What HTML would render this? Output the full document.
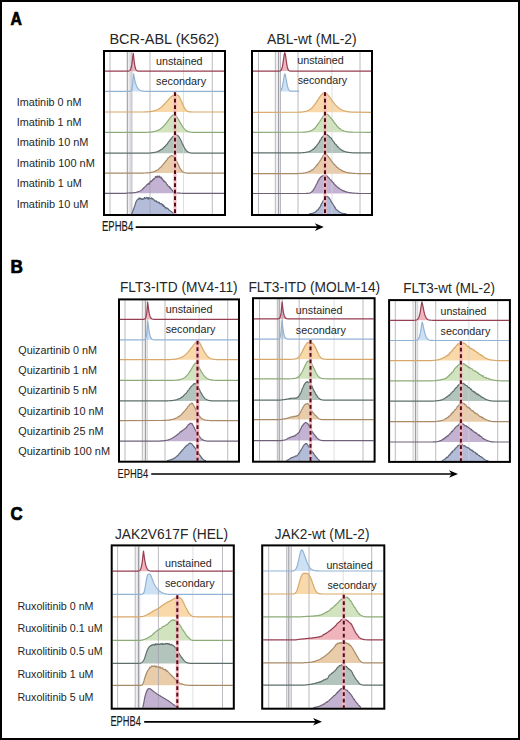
<!DOCTYPE html>
<html><head><meta charset="utf-8"><title>Figure</title>
<style>html,body{margin:0;padding:0;background:#fff;width:520px;height:740px;overflow:hidden;font-family:"Liberation Sans",sans-serif}svg{display:block}</style>
</head><body>
<svg width="520" height="740" viewBox="0 0 520 740">
<rect x="0" y="0" width="520" height="740" fill="#fff"/>
<rect x="1" y="1" width="518" height="738" fill="none" stroke="#000" stroke-width="2"/>
<text stroke="#000" stroke-width="0.7" x="10.6" y="24.7" font-family='"Liberation Sans", sans-serif' font-size="17.6" font-weight="bold" fill="#000" textLength="11.4" lengthAdjust="spacingAndGlyphs">A</text>
<text stroke="#000" stroke-width="0.7" x="10.5" y="272.6" font-family='"Liberation Sans", sans-serif' font-size="17.6" font-weight="bold" fill="#000" textLength="12.4" lengthAdjust="spacingAndGlyphs">B</text>
<text stroke="#000" stroke-width="0.7" x="10.6" y="519.7" font-family='"Liberation Sans", sans-serif' font-size="17.6" font-weight="bold" fill="#000" textLength="12.2" lengthAdjust="spacingAndGlyphs">C</text>
<text x="109.4" y="43.7" font-family='"Liberation Sans", sans-serif' font-size="14.3" font-weight="normal" fill="#262626" textLength="109.7" lengthAdjust="spacingAndGlyphs">BCR-ABL (K562)</text>
<text x="267.1" y="43.7" font-family='"Liberation Sans", sans-serif' font-size="14.3" font-weight="normal" fill="#262626" textLength="89.6" lengthAdjust="spacingAndGlyphs">ABL-wt (ML-2)</text>
<text x="16.7" y="105.8" font-family='"Liberation Sans", sans-serif' font-size="10.4" font-weight="normal" fill="#262626" textLength="64.9" lengthAdjust="spacingAndGlyphs">Imatinib 0 nM</text>
<text x="16.7" y="126.2" font-family='"Liberation Sans", sans-serif' font-size="10.4" font-weight="normal" fill="#262626" textLength="64.9" lengthAdjust="spacingAndGlyphs">Imatinib 1 nM</text>
<text x="16.7" y="146.4" font-family='"Liberation Sans", sans-serif' font-size="10.4" font-weight="normal" fill="#262626" textLength="71.8" lengthAdjust="spacingAndGlyphs">Imatinib 10 nM</text>
<text x="16.7" y="167.0" font-family='"Liberation Sans", sans-serif' font-size="10.4" font-weight="normal" fill="#262626" textLength="78.1" lengthAdjust="spacingAndGlyphs">Imatinib 100 nM</text>
<text x="16.7" y="187.2" font-family='"Liberation Sans", sans-serif' font-size="10.4" font-weight="normal" fill="#262626" textLength="65.1" lengthAdjust="spacingAndGlyphs">Imatinib 1 uM</text>
<text x="16.7" y="207.7" font-family='"Liberation Sans", sans-serif' font-size="10.4" font-weight="normal" fill="#262626" textLength="71.8" lengthAdjust="spacingAndGlyphs">Imatinib 10 uM</text>
<rect x="127.3" y="52.0" width="4.6" height="162.0" fill="#efeff1"/>
<path d="M127.8 71.20 L127.8 71.14 L128.3 71.09 L128.8 70.98 L129.3 70.78 L129.8 70.43 L130.3 69.80 L130.8 68.75 L131.3 67.04 L131.8 64.43 L132.3 60.72 L132.8 56.08 L133.3 53.39 L133.8 58.00 L134.3 62.34 L134.8 65.60 L135.3 67.82 L135.8 69.23 L136.3 70.09 L136.8 70.59 L137.3 70.88 L137.8 71.03 L138.3 71.11 L138.3 71.20 Z" fill="#f0b4bd" stroke="none"/>
<path d="M129.1 91.40 L129.1 91.34 L129.6 91.28 L130.1 91.16 L130.6 90.92 L131.1 90.45 L131.6 89.55 L132.1 87.86 L132.6 84.78 L133.1 79.45 L133.6 73.89 L134.1 76.65 L134.6 79.19 L135.1 81.38 L135.6 83.24 L136.1 84.78 L136.6 86.05 L137.1 87.09 L137.6 87.94 L138.1 88.63 L138.6 89.19 L139.1 89.64 L139.6 90.00 L140.1 90.29 L140.6 90.52 L141.1 90.70 L141.6 90.85 L142.1 90.97 L142.6 91.06 L143.1 91.13 L143.6 91.19 L144.1 91.23 L144.6 91.27 L145.1 91.30 L145.6 91.32 L146.1 91.34 L146.1 91.40 Z" fill="#cde1f5" stroke="none"/>
<path d="M144.3 112.00 L144.3 111.94 L144.8 111.92 L145.3 111.91 L145.8 111.89 L146.3 111.88 L146.8 111.85 L147.3 111.83 L147.8 111.80 L148.3 111.77 L148.8 111.73 L149.3 111.69 L149.8 111.64 L150.3 111.59 L150.8 111.53 L151.3 111.46 L151.8 111.38 L152.3 111.29 L152.8 111.19 L153.3 111.08 L153.8 110.96 L154.3 110.83 L154.8 110.68 L155.3 110.52 L155.8 110.34 L156.3 110.15 L156.8 109.93 L157.3 109.70 L157.8 109.45 L158.3 109.18 L158.8 108.89 L159.3 108.57 L159.8 108.24 L160.3 107.88 L160.8 107.50 L161.3 107.10 L161.8 106.68 L162.3 106.24 L162.8 105.77 L163.3 105.29 L163.8 104.79 L164.3 104.27 L164.8 103.73 L165.3 103.19 L165.8 102.63 L166.3 102.07 L166.8 101.50 L167.3 100.93 L167.8 100.35 L168.3 99.79 L168.8 99.23 L169.3 98.69 L169.8 98.16 L170.3 97.65 L170.8 97.17 L171.3 96.72 L171.8 96.30 L172.3 95.91 L172.8 95.57 L173.3 95.28 L173.8 95.03 L174.3 94.83 L174.8 94.69 L175.3 94.61 L175.8 94.60 L176.3 94.63 L176.8 94.73 L177.3 94.93 L177.8 95.24 L178.3 95.67 L178.8 96.25 L179.3 96.96 L179.8 97.80 L180.3 98.76 L180.8 99.82 L181.3 100.94 L181.8 102.11 L182.3 103.30 L182.8 104.47 L183.3 105.59 L183.8 106.64 L184.3 107.60 L184.8 108.46 L185.3 109.21 L185.8 109.84 L186.3 110.37 L186.8 110.79 L187.3 111.13 L187.8 111.38 L188.3 111.58 L188.8 111.71 L189.3 111.81 L189.8 111.88 L190.3 111.93 L190.3 112.00 Z" fill="#f9d9aa" stroke="none"/>
<path d="M145.3 132.40 L145.3 132.32 L145.8 132.31 L146.3 132.30 L146.8 132.28 L147.3 132.26 L147.8 132.24 L148.3 132.22 L148.8 132.19 L149.3 132.15 L149.8 132.12 L150.3 132.08 L150.8 132.03 L151.3 131.98 L151.8 131.92 L152.3 131.85 L152.8 131.77 L153.3 131.69 L153.8 131.59 L154.3 131.49 L154.8 131.37 L155.3 131.24 L155.8 131.09 L156.3 130.93 L156.8 130.75 L157.3 130.56 L157.8 130.35 L158.3 130.11 L158.8 129.86 L159.3 129.58 L159.8 129.29 L160.3 128.96 L160.8 128.61 L161.3 128.24 L161.8 127.83 L162.3 127.41 L162.8 126.95 L163.3 126.46 L163.8 125.95 L164.3 125.41 L164.8 124.85 L165.3 124.26 L165.8 123.65 L166.3 123.02 L166.8 122.37 L167.3 121.71 L167.8 121.03 L168.3 120.35 L168.8 119.68 L169.3 119.01 L169.8 118.35 L170.3 117.71 L170.8 117.10 L171.3 116.54 L171.8 116.02 L172.3 115.58 L172.8 115.21 L173.3 114.97 L173.8 114.91 L174.3 114.99 L174.8 115.19 L175.3 115.49 L175.8 115.90 L176.3 116.40 L176.8 117.00 L177.3 117.68 L177.8 118.43 L178.3 119.24 L178.8 120.09 L179.3 120.97 L179.8 121.86 L180.3 122.76 L180.8 123.65 L181.3 124.51 L181.8 125.35 L182.3 126.14 L182.8 126.89 L183.3 127.58 L183.8 128.22 L184.3 128.80 L184.8 129.33 L185.3 129.80 L185.8 130.21 L186.3 130.58 L186.8 130.89 L187.3 131.16 L187.8 131.39 L188.3 131.59 L188.8 131.75 L189.3 131.88 L189.8 131.99 L190.3 132.08 L190.8 132.15 L191.3 132.21 L191.8 132.25 L192.3 132.29 L192.8 132.32 L193.3 132.34 L193.3 132.40 Z" fill="#d2e4bf" stroke="none"/>
<path d="M146.3 153.20 L146.3 153.12 L146.8 153.11 L147.3 153.10 L147.8 153.08 L148.3 153.06 L148.8 153.04 L149.3 153.01 L149.8 152.98 L150.3 152.94 L150.8 152.91 L151.3 152.86 L151.8 152.81 L152.3 152.76 L152.8 152.69 L153.3 152.62 L153.8 152.54 L154.3 152.45 L154.8 152.35 L155.3 152.24 L155.8 152.12 L156.3 151.97 L156.8 151.81 L157.3 151.72 L157.8 151.56 L158.3 151.20 L158.8 151.12 L159.3 150.90 L159.8 150.37 L160.3 150.28 L160.8 149.80 L161.3 149.64 L161.8 149.19 L162.3 149.11 L162.8 148.41 L163.3 147.84 L163.8 147.59 L164.3 146.98 L164.8 146.52 L165.3 146.35 L165.8 145.38 L166.3 144.91 L166.8 144.48 L167.3 144.03 L167.8 142.90 L168.3 142.50 L168.8 141.70 L169.3 140.95 L169.8 140.39 L170.3 139.62 L170.8 139.29 L171.3 138.42 L171.8 138.03 L172.3 137.16 L172.8 136.65 L173.3 136.62 L173.8 136.14 L174.3 135.70 L174.8 134.93 L175.3 135.00 L175.8 134.74 L176.3 134.93 L176.8 134.92 L177.3 135.23 L177.8 135.62 L178.3 135.99 L178.8 136.63 L179.3 137.20 L179.8 138.20 L180.3 139.01 L180.8 140.08 L181.3 141.07 L181.8 142.36 L182.3 143.77 L182.8 144.43 L183.3 145.41 L183.8 146.43 L184.3 147.55 L184.8 148.31 L185.3 149.38 L185.8 149.72 L186.3 150.46 L186.8 151.06 L187.3 151.53 L187.8 151.77 L188.3 152.09 L188.8 152.37 L189.3 152.56 L189.8 152.72 L190.3 152.85 L190.8 152.94 L191.3 153.01 L191.8 153.07 L192.3 153.11 L192.8 153.13 L192.8 153.20 Z" fill="#b3c4bc" stroke="none"/>
<path d="M143.2 173.10 L143.2 173.04 L143.7 173.03 L144.2 173.02 L144.7 173.00 L145.2 172.98 L145.7 172.96 L146.2 172.94 L146.7 172.91 L147.2 172.88 L147.7 172.84 L148.2 172.80 L148.7 172.75 L149.2 172.70 L149.7 172.64 L150.2 172.57 L150.7 172.49 L151.2 172.39 L151.7 172.29 L152.2 172.19 L152.7 172.06 L153.2 171.94 L153.7 171.80 L154.2 171.59 L154.7 171.31 L155.2 171.10 L155.7 170.86 L156.2 170.77 L156.7 170.39 L157.2 170.20 L157.7 169.93 L158.2 169.64 L158.7 169.21 L159.2 168.37 L159.7 168.00 L160.2 167.55 L160.7 167.07 L161.2 166.92 L161.7 166.31 L162.2 165.56 L162.7 164.91 L163.2 164.24 L163.7 163.60 L164.2 163.45 L164.7 162.50 L165.2 161.81 L165.7 161.26 L166.2 160.82 L166.7 160.01 L167.2 159.62 L167.7 158.52 L168.2 158.00 L168.7 157.67 L169.2 157.33 L169.7 156.54 L170.2 156.38 L170.7 155.89 L171.2 155.70 L171.7 155.80 L172.2 155.87 L172.7 155.85 L173.2 156.15 L173.7 156.64 L174.2 157.02 L174.7 157.31 L175.2 158.51 L175.7 159.36 L176.2 159.97 L176.7 161.22 L177.2 162.17 L177.7 163.33 L178.2 164.54 L178.7 165.26 L179.2 166.80 L179.7 167.67 L180.2 168.71 L180.7 169.28 L181.2 170.18 L181.7 170.75 L182.2 171.18 L182.7 171.69 L183.2 172.02 L183.7 172.30 L184.2 172.52 L184.7 172.69 L185.2 172.81 L185.7 172.90 L186.2 172.97 L186.7 173.01 L187.2 173.04 L187.2 173.10 Z" fill="#e9cdaa" stroke="none"/>
<path d="M126.5 193.30 L126.5 193.08 L127.0 193.05 L127.5 193.03 L128.0 193.02 L128.5 193.00 L129.0 192.98 L129.5 192.96 L130.0 192.94 L130.5 192.92 L131.0 192.90 L131.5 192.87 L132.0 192.85 L132.5 192.82 L133.0 192.78 L133.5 192.74 L134.0 192.70 L134.5 192.65 L135.0 192.57 L135.5 192.48 L136.0 192.38 L136.5 192.25 L137.0 192.10 L137.5 191.95 L138.0 191.80 L138.5 191.64 L139.0 191.47 L139.5 191.28 L140.0 191.06 L140.5 190.81 L141.0 190.50 L141.5 190.13 L142.0 189.71 L142.5 189.24 L143.0 188.75 L143.5 188.24 L144.0 187.74 L144.5 187.25 L145.0 186.80 L145.5 186.38 L146.0 185.78 L146.5 185.20 L147.0 184.73 L147.5 184.11 L148.0 184.04 L148.5 183.34 L149.0 184.34 L149.5 183.18 L150.0 181.91 L150.5 181.85 L151.0 180.91 L151.5 181.63 L152.0 180.55 L152.5 180.39 L153.0 179.39 L153.5 178.83 L154.0 179.24 L154.5 178.48 L155.0 178.01 L155.5 176.66 L156.0 176.61 L156.5 177.33 L157.0 176.11 L157.5 177.02 L158.0 176.17 L158.5 176.95 L159.0 177.23 L159.5 176.02 L160.0 177.36 L160.5 177.76 L161.0 177.03 L161.5 177.77 L162.0 179.30 L162.5 178.81 L163.0 180.05 L163.5 180.38 L164.0 181.69 L164.5 181.07 L165.0 181.99 L165.5 182.05 L166.0 182.63 L166.5 184.04 L167.0 184.41 L167.5 185.23 L168.0 185.80 L168.5 186.46 L169.0 186.63 L169.5 186.70 L170.0 188.22 L170.5 187.71 L171.0 188.84 L171.5 189.18 L172.0 189.86 L172.5 190.67 L173.0 191.48 L173.5 192.16 L174.0 192.56 L174.5 192.77 L175.0 192.91 L175.5 192.98 L176.0 193.00 L176.5 192.99 L177.0 192.98 L177.5 192.97 L178.0 193.00 L178.5 193.05 L179.0 193.09 L179.5 193.13 L180.0 193.16 L180.5 193.20 L181.0 193.23 L181.0 193.30 Z" fill="#c4b2d3" stroke="none"/>
<path d="M131.0 214.00 L131.0 213.93 L131.5 213.80 L132.0 213.16 L132.5 211.90 L133.0 210.50 L133.5 209.21 L134.0 207.91 L134.5 206.56 L135.0 205.08 L135.5 203.42 L136.0 202.00 L136.5 201.00 L137.0 200.23 L137.5 199.60 L138.0 199.35 L138.5 199.17 L139.0 197.93 L139.5 198.84 L140.0 198.06 L140.5 198.52 L141.0 199.27 L141.5 198.62 L142.0 199.53 L142.5 198.76 L143.0 199.30 L143.5 199.10 L144.0 198.34 L144.5 197.48 L145.0 198.68 L145.5 198.51 L146.0 197.85 L146.5 197.37 L147.0 198.14 L147.5 198.55 L148.0 197.54 L148.5 199.18 L149.0 197.61 L149.5 198.52 L150.0 198.69 L150.5 198.73 L151.0 198.50 L151.5 197.77 L152.0 199.14 L152.5 198.68 L153.0 198.86 L153.5 199.64 L154.0 199.63 L154.5 200.81 L155.0 201.11 L155.5 201.17 L156.0 200.66 L156.5 201.47 L157.0 202.02 L157.5 201.85 L158.0 202.37 L158.5 202.91 L159.0 202.27 L159.5 202.70 L160.0 203.79 L160.5 203.50 L161.0 203.92 L161.5 203.65 L162.0 204.27 L162.5 205.44 L163.0 204.57 L163.5 206.50 L164.0 206.34 L164.5 206.11 L165.0 207.58 L165.5 207.34 L166.0 208.52 L166.5 207.76 L167.0 207.96 L167.5 208.68 L168.0 208.51 L168.5 209.55 L169.0 209.92 L169.5 210.28 L170.0 210.64 L170.5 211.01 L171.0 211.37 L171.5 211.73 L172.0 212.08 L172.5 212.41 L173.0 212.73 L173.5 213.01 L174.0 213.25 L174.5 213.45 L175.0 213.63 L175.5 213.81 L175.5 214.00 Z" fill="#b3bcd8" stroke="none"/>
<line x1="127.3" y1="52.0" x2="127.3" y2="214.0" stroke="#85858e" stroke-width="1.0" stroke-opacity="0.85"/>
<line x1="130.1" y1="52.0" x2="130.1" y2="214.0" stroke="#c4c4ca" stroke-width="0.9" stroke-opacity="0.85"/>
<line x1="131.9" y1="52.0" x2="131.9" y2="214.0" stroke="#a4a4ac" stroke-width="0.9" stroke-opacity="0.85"/>
<line x1="110.0" y1="52.0" x2="110.0" y2="214.0" stroke="#a0a0a8" stroke-width="0.9" stroke-opacity="0.8"/>
<line x1="150.0" y1="52.0" x2="150.0" y2="214.0" stroke="#a0a0a8" stroke-width="0.9" stroke-opacity="0.8"/>
<line x1="183.5" y1="52.0" x2="183.5" y2="214.0" stroke="#d2d2d8" stroke-width="0.9" stroke-opacity="0.8"/>
<line x1="212.3" y1="52.0" x2="212.3" y2="214.0" stroke="#a0a0a8" stroke-width="0.9" stroke-opacity="0.8"/>
<path d="M105.0 71.20 L126.8 71.19 L127.3 71.17 L127.8 71.14 L128.3 71.09 L128.8 70.98 L129.3 70.78 L129.8 70.43 L130.3 69.80 L130.8 68.75 L131.3 67.04 L131.8 64.43 L132.3 60.72 L132.8 56.08 L133.3 53.39 L133.8 58.00 L134.3 62.34 L134.8 65.60 L135.3 67.82 L135.8 69.23 L136.3 70.09 L136.8 70.59 L137.3 70.88 L137.8 71.03 L138.3 71.11 L138.8 71.16 L139.3 71.18 L139.8 71.19 L224.0 71.20" fill="none" stroke="#963e52" stroke-width="1.20" stroke-linejoin="round"/>
<path d="M105.0 91.40 L128.1 91.39 L128.6 91.37 L129.1 91.34 L129.6 91.28 L130.1 91.16 L130.6 90.92 L131.1 90.45 L131.6 89.55 L132.1 87.86 L132.6 84.78 L133.1 79.45 L133.6 73.89 L134.1 76.65 L134.6 79.19 L135.1 81.38 L135.6 83.24 L136.1 84.78 L136.6 86.05 L137.1 87.09 L137.6 87.94 L138.1 88.63 L138.6 89.19 L139.1 89.64 L139.6 90.00 L140.1 90.29 L140.6 90.52 L141.1 90.70 L141.6 90.85 L142.1 90.97 L142.6 91.06 L143.1 91.13 L143.6 91.19 L144.1 91.23 L144.6 91.27 L145.1 91.30 L145.6 91.32 L146.1 91.34 L146.6 91.35 L147.1 91.36 L147.6 91.37 L148.1 91.38 L148.6 91.38 L224.0 91.40" fill="none" stroke="#92b3d4" stroke-width="1.20" stroke-linejoin="round"/>
<path d="M105.0 112.00 L144.3 111.94 L144.8 111.92 L145.3 111.91 L145.8 111.89 L146.3 111.88 L146.8 111.85 L147.3 111.83 L147.8 111.80 L148.3 111.77 L148.8 111.73 L149.3 111.69 L149.8 111.64 L150.3 111.59 L150.8 111.53 L151.3 111.46 L151.8 111.38 L152.3 111.29 L152.8 111.19 L153.3 111.08 L153.8 110.96 L154.3 110.83 L154.8 110.68 L155.3 110.52 L155.8 110.34 L156.3 110.15 L156.8 109.93 L157.3 109.70 L157.8 109.45 L158.3 109.18 L158.8 108.89 L159.3 108.57 L159.8 108.24 L160.3 107.88 L160.8 107.50 L161.3 107.10 L161.8 106.68 L162.3 106.24 L162.8 105.77 L163.3 105.29 L163.8 104.79 L164.3 104.27 L164.8 103.73 L165.3 103.19 L165.8 102.63 L166.3 102.07 L166.8 101.50 L167.3 100.93 L167.8 100.35 L168.3 99.79 L168.8 99.23 L169.3 98.69 L169.8 98.16 L170.3 97.65 L170.8 97.17 L171.3 96.72 L171.8 96.30 L172.3 95.91 L172.8 95.57 L173.3 95.28 L173.8 95.03 L174.3 94.83 L174.8 94.69 L175.3 94.61 L175.8 94.60 L176.3 94.63 L176.8 94.73 L177.3 94.93 L177.8 95.24 L178.3 95.67 L178.8 96.25 L179.3 96.96 L179.8 97.80 L180.3 98.76 L180.8 99.82 L181.3 100.94 L181.8 102.11 L182.3 103.30 L182.8 104.47 L183.3 105.59 L183.8 106.64 L184.3 107.60 L184.8 108.46 L185.3 109.21 L185.8 109.84 L186.3 110.37 L186.8 110.79 L187.3 111.13 L187.8 111.38 L188.3 111.58 L188.8 111.71 L189.3 111.81 L189.8 111.88 L190.3 111.93 L190.8 111.95 L191.3 111.97 L191.8 111.98 L224.0 112.00" fill="none" stroke="#d8a86a" stroke-width="1.20" stroke-linejoin="round"/>
<path d="M105.0 132.40 L145.3 132.32 L145.8 132.31 L146.3 132.30 L146.8 132.28 L147.3 132.26 L147.8 132.24 L148.3 132.22 L148.8 132.19 L149.3 132.15 L149.8 132.12 L150.3 132.08 L150.8 132.03 L151.3 131.98 L151.8 131.92 L152.3 131.85 L152.8 131.77 L153.3 131.69 L153.8 131.59 L154.3 131.49 L154.8 131.37 L155.3 131.24 L155.8 131.09 L156.3 130.93 L156.8 130.75 L157.3 130.56 L157.8 130.35 L158.3 130.11 L158.8 129.86 L159.3 129.58 L159.8 129.29 L160.3 128.96 L160.8 128.61 L161.3 128.24 L161.8 127.83 L162.3 127.41 L162.8 126.95 L163.3 126.46 L163.8 125.95 L164.3 125.41 L164.8 124.85 L165.3 124.26 L165.8 123.65 L166.3 123.02 L166.8 122.37 L167.3 121.71 L167.8 121.03 L168.3 120.35 L168.8 119.68 L169.3 119.01 L169.8 118.35 L170.3 117.71 L170.8 117.10 L171.3 116.54 L171.8 116.02 L172.3 115.58 L172.8 115.21 L173.3 114.97 L173.8 114.91 L174.3 114.99 L174.8 115.19 L175.3 115.49 L175.8 115.90 L176.3 116.40 L176.8 117.00 L177.3 117.68 L177.8 118.43 L178.3 119.24 L178.8 120.09 L179.3 120.97 L179.8 121.86 L180.3 122.76 L180.8 123.65 L181.3 124.51 L181.8 125.35 L182.3 126.14 L182.8 126.89 L183.3 127.58 L183.8 128.22 L184.3 128.80 L184.8 129.33 L185.3 129.80 L185.8 130.21 L186.3 130.58 L186.8 130.89 L187.3 131.16 L187.8 131.39 L188.3 131.59 L188.8 131.75 L189.3 131.88 L189.8 131.99 L190.3 132.08 L190.8 132.15 L191.3 132.21 L191.8 132.25 L192.3 132.29 L192.8 132.32 L193.3 132.34 L193.8 132.35 L194.3 132.37 L194.8 132.38 L195.3 132.38 L224.0 132.40" fill="none" stroke="#8cab78" stroke-width="1.20" stroke-linejoin="round"/>
<path d="M105.0 153.20 L146.3 153.12 L146.8 153.11 L147.3 153.10 L147.8 153.08 L148.3 153.06 L148.8 153.04 L149.3 153.01 L149.8 152.98 L150.3 152.94 L150.8 152.91 L151.3 152.86 L151.8 152.81 L152.3 152.76 L152.8 152.69 L153.3 152.62 L153.8 152.54 L154.3 152.45 L154.8 152.35 L155.3 152.24 L155.8 152.12 L156.3 151.97 L156.8 151.81 L157.3 151.72 L157.8 151.56 L158.3 151.20 L158.8 151.12 L159.3 150.90 L159.8 150.37 L160.3 150.28 L160.8 149.80 L161.3 149.64 L161.8 149.19 L162.3 149.11 L162.8 148.41 L163.3 147.84 L163.8 147.59 L164.3 146.98 L164.8 146.52 L165.3 146.35 L165.8 145.38 L166.3 144.91 L166.8 144.48 L167.3 144.03 L167.8 142.90 L168.3 142.50 L168.8 141.70 L169.3 140.95 L169.8 140.39 L170.3 139.62 L170.8 139.29 L171.3 138.42 L171.8 138.03 L172.3 137.16 L172.8 136.65 L173.3 136.62 L173.8 136.14 L174.3 135.70 L174.8 134.93 L175.3 135.00 L175.8 134.74 L176.3 134.93 L176.8 134.92 L177.3 135.23 L177.8 135.62 L178.3 135.99 L178.8 136.63 L179.3 137.20 L179.8 138.20 L180.3 139.01 L180.8 140.08 L181.3 141.07 L181.8 142.36 L182.3 143.77 L182.8 144.43 L183.3 145.41 L183.8 146.43 L184.3 147.55 L184.8 148.31 L185.3 149.38 L185.8 149.72 L186.3 150.46 L186.8 151.06 L187.3 151.53 L187.8 151.77 L188.3 152.09 L188.8 152.37 L189.3 152.56 L189.8 152.72 L190.3 152.85 L190.8 152.94 L191.3 153.01 L191.8 153.07 L192.3 153.11 L192.8 153.13 L193.3 153.15 L193.8 153.17 L194.3 153.18 L194.8 153.19 L224.0 153.20" fill="none" stroke="#5e6f6b" stroke-width="1.20" stroke-linejoin="round"/>
<path d="M105.0 173.10 L143.2 173.04 L143.7 173.03 L144.2 173.02 L144.7 173.00 L145.2 172.98 L145.7 172.96 L146.2 172.94 L146.7 172.91 L147.2 172.88 L147.7 172.84 L148.2 172.80 L148.7 172.75 L149.2 172.70 L149.7 172.64 L150.2 172.57 L150.7 172.49 L151.2 172.39 L151.7 172.29 L152.2 172.19 L152.7 172.06 L153.2 171.94 L153.7 171.80 L154.2 171.59 L154.7 171.31 L155.2 171.10 L155.7 170.86 L156.2 170.77 L156.7 170.39 L157.2 170.20 L157.7 169.93 L158.2 169.64 L158.7 169.21 L159.2 168.37 L159.7 168.00 L160.2 167.55 L160.7 167.07 L161.2 166.92 L161.7 166.31 L162.2 165.56 L162.7 164.91 L163.2 164.24 L163.7 163.60 L164.2 163.45 L164.7 162.50 L165.2 161.81 L165.7 161.26 L166.2 160.82 L166.7 160.01 L167.2 159.62 L167.7 158.52 L168.2 158.00 L168.7 157.67 L169.2 157.33 L169.7 156.54 L170.2 156.38 L170.7 155.89 L171.2 155.70 L171.7 155.80 L172.2 155.87 L172.7 155.85 L173.2 156.15 L173.7 156.64 L174.2 157.02 L174.7 157.31 L175.2 158.51 L175.7 159.36 L176.2 159.97 L176.7 161.22 L177.2 162.17 L177.7 163.33 L178.2 164.54 L178.7 165.26 L179.2 166.80 L179.7 167.67 L180.2 168.71 L180.7 169.28 L181.2 170.18 L181.7 170.75 L182.2 171.18 L182.7 171.69 L183.2 172.02 L183.7 172.30 L184.2 172.52 L184.7 172.69 L185.2 172.81 L185.7 172.90 L186.2 172.97 L186.7 173.01 L187.2 173.04 L187.7 173.06 L188.2 173.08 L188.7 173.09 L224.0 173.10" fill="none" stroke="#a88a68" stroke-width="1.20" stroke-linejoin="round"/>
<path d="M105.0 193.30 L126.0 193.30 L126.5 193.08 L127.0 193.05 L127.5 193.03 L128.0 193.02 L128.5 193.00 L129.0 192.98 L129.5 192.96 L130.0 192.94 L130.5 192.92 L131.0 192.90 L131.5 192.87 L132.0 192.85 L132.5 192.82 L133.0 192.78 L133.5 192.74 L134.0 192.70 L134.5 192.65 L135.0 192.57 L135.5 192.48 L136.0 192.38 L136.5 192.25 L137.0 192.10 L137.5 191.95 L138.0 191.80 L138.5 191.64 L139.0 191.47 L139.5 191.28 L140.0 191.06 L140.5 190.81 L141.0 190.50 L141.5 190.13 L142.0 189.71 L142.5 189.24 L143.0 188.75 L143.5 188.24 L144.0 187.74 L144.5 187.25 L145.0 186.80 L145.5 186.38 L146.0 185.78 L146.5 185.20 L147.0 184.73 L147.5 184.11 L148.0 184.04 L148.5 183.34 L149.0 184.34 L149.5 183.18 L150.0 181.91 L150.5 181.85 L151.0 180.91 L151.5 181.63 L152.0 180.55 L152.5 180.39 L153.0 179.39 L153.5 178.83 L154.0 179.24 L154.5 178.48 L155.0 178.01 L155.5 176.66 L156.0 176.61 L156.5 177.33 L157.0 176.11 L157.5 177.02 L158.0 176.17 L158.5 176.95 L159.0 177.23 L159.5 176.02 L160.0 177.36 L160.5 177.76 L161.0 177.03 L161.5 177.77 L162.0 179.30 L162.5 178.81 L163.0 180.05 L163.5 180.38 L164.0 181.69 L164.5 181.07 L165.0 181.99 L165.5 182.05 L166.0 182.63 L166.5 184.04 L167.0 184.41 L167.5 185.23 L168.0 185.80 L168.5 186.46 L169.0 186.63 L169.5 186.70 L170.0 188.22 L170.5 187.71 L171.0 188.84 L171.5 189.18 L172.0 189.86 L172.5 190.67 L173.0 191.48 L173.5 192.16 L174.0 192.56 L174.5 192.77 L175.0 192.91 L175.5 192.98 L176.0 193.00 L176.5 192.99 L177.0 192.98 L177.5 192.97 L178.0 193.00 L178.5 193.05 L179.0 193.09 L179.5 193.13 L180.0 193.16 L180.5 193.20 L181.0 193.23 L181.5 193.26 L182.0 193.30 L224.0 193.30" fill="none" stroke="#6e6279" stroke-width="1.20" stroke-linejoin="round"/>
<path d="M131.5 213.80 L132.0 213.16 L132.5 211.90 L133.0 210.50 L133.5 209.21 L134.0 207.91 L134.5 206.56 L135.0 205.08 L135.5 203.42 L136.0 202.00 L136.5 201.00 L137.0 200.23 L137.5 199.60 L138.0 199.35 L138.5 199.17 L139.0 197.93 L139.5 198.84 L140.0 198.06 L140.5 198.52 L141.0 199.27 L141.5 198.62 L142.0 199.53 L142.5 198.76 L143.0 199.30 L143.5 199.10 L144.0 198.34 L144.5 197.48 L145.0 198.68 L145.5 198.51 L146.0 197.85 L146.5 197.37 L147.0 198.14 L147.5 198.55 L148.0 197.54 L148.5 199.18 L149.0 197.61 L149.5 198.52 L150.0 198.69 L150.5 198.73 L151.0 198.50 L151.5 197.77 L152.0 199.14 L152.5 198.68 L153.0 198.86 L153.5 199.64 L154.0 199.63 L154.5 200.81 L155.0 201.11 L155.5 201.17 L156.0 200.66 L156.5 201.47 L157.0 202.02 L157.5 201.85 L158.0 202.37 L158.5 202.91 L159.0 202.27 L159.5 202.70 L160.0 203.79 L160.5 203.50 L161.0 203.92 L161.5 203.65 L162.0 204.27 L162.5 205.44 L163.0 204.57 L163.5 206.50 L164.0 206.34 L164.5 206.11 L165.0 207.58 L165.5 207.34 L166.0 208.52 L166.5 207.76 L167.0 207.96 L167.5 208.68 L168.0 208.51 L168.5 209.55 L169.0 209.92 L169.5 210.28 L170.0 210.64 L170.5 211.01 L171.0 211.37 L171.5 211.73 L172.0 212.08 L172.5 212.41 L173.0 212.73 L173.5 213.01 L174.0 213.25 L174.5 213.45 L175.0 213.63 L175.5 213.81" fill="none" stroke="#5e6879" stroke-width="1.20" stroke-linejoin="round"/>
<line x1="175.0" y1="92.2" x2="175.0" y2="214.0" stroke="#f2b8c0" stroke-width="3.2" opacity="0.9"/>
<line x1="175.0" y1="92.2" x2="175.0" y2="214.0" stroke="#560a14" stroke-width="2" stroke-dasharray="3.7 2.8"/>
<text x="156.0" y="65.0" font-family='"Liberation Sans", sans-serif' font-size="10.4" font-weight="normal" fill="#262626" textLength="46.6" lengthAdjust="spacingAndGlyphs">unstained</text>
<text x="156.0" y="84.6" font-family='"Liberation Sans", sans-serif' font-size="10.4" font-weight="normal" fill="#262626" textLength="50.1" lengthAdjust="spacingAndGlyphs">secondary</text>
<rect x="104.0" y="51.0" width="121.0" height="164.0" fill="none" stroke="#000" stroke-width="2"/>
<rect x="275.3" y="52.0" width="5.2" height="162.0" fill="#efeff1"/>
<path d="M279.8 71.10 L279.8 71.00 L280.3 70.85 L280.8 70.53 L281.3 69.91 L281.8 68.79 L282.3 66.97 L282.8 64.33 L283.3 60.96 L283.8 57.29 L284.3 54.16 L284.8 52.70 L285.3 54.16 L285.8 57.29 L286.3 60.96 L286.8 64.33 L287.3 66.97 L287.8 68.79 L288.3 69.91 L288.8 70.53 L289.3 70.85 L289.8 71.00 L289.8 71.10 Z" fill="#f0b4bd" stroke="none"/>
<path d="M279.2 91.40 L279.2 91.31 L279.7 91.21 L280.2 91.00 L280.7 90.62 L281.2 89.96 L281.7 88.87 L282.2 87.22 L282.7 84.93 L283.2 82.02 L283.7 78.79 L284.2 75.77 L284.7 73.90 L285.2 74.62 L285.7 76.83 L286.2 79.60 L286.7 82.41 L287.2 84.93 L287.7 86.97 L288.2 88.51 L288.7 89.60 L289.2 90.33 L289.7 90.79 L290.2 91.07 L290.7 91.10 L291.2 91.10 L291.7 91.10 L292.2 91.10 L292.7 91.10 L293.2 91.10 L293.7 91.10 L294.2 91.10 L294.7 91.10 L295.2 91.10 L295.7 91.10 L296.2 91.10 L296.7 91.10 L297.2 91.10 L297.7 91.10 L298.2 91.10 L298.7 91.10 L299.2 91.10 L299.2 91.40 Z" fill="#cde1f5" stroke="none"/>
<path d="M297.7 112.30 L297.7 112.24 L298.2 112.23 L298.7 112.22 L299.2 112.20 L299.7 112.18 L300.2 112.15 L300.7 112.12 L301.2 112.09 L301.7 112.04 L302.2 112.00 L302.7 111.94 L303.2 111.87 L303.7 111.80 L304.2 111.71 L304.7 111.61 L305.2 111.50 L305.7 111.37 L306.2 111.22 L306.7 111.05 L307.2 110.87 L307.7 110.66 L308.2 110.42 L308.7 110.16 L309.2 109.87 L309.7 109.56 L310.2 109.21 L310.7 108.83 L311.2 108.41 L311.7 107.97 L312.2 107.48 L312.7 106.97 L313.2 106.41 L313.7 105.83 L314.2 105.21 L314.7 104.56 L315.2 103.88 L315.7 103.18 L316.2 102.45 L316.7 101.70 L317.2 100.94 L317.7 100.18 L318.2 99.41 L318.7 98.64 L319.2 97.89 L319.7 97.15 L320.2 96.44 L320.7 95.76 L321.2 95.13 L321.7 94.55 L322.2 94.03 L322.7 93.57 L323.2 93.19 L323.7 92.90 L324.2 92.70 L324.7 92.60 L325.2 92.68 L325.7 92.92 L326.2 93.26 L326.7 93.68 L327.2 94.17 L327.7 94.71 L328.2 95.30 L328.7 95.92 L329.2 96.57 L329.7 97.24 L330.2 97.93 L330.7 98.63 L331.2 99.33 L331.7 100.02 L332.2 100.71 L332.7 101.39 L333.2 102.06 L333.7 102.71 L334.2 103.34 L334.7 103.94 L335.2 104.53 L335.7 105.09 L336.2 105.62 L336.7 106.13 L337.2 106.62 L337.7 107.07 L338.2 107.50 L338.7 107.91 L339.2 108.29 L339.7 108.64 L340.2 108.97 L340.7 109.27 L341.2 109.56 L341.7 109.82 L342.2 110.06 L342.7 110.28 L343.2 110.48 L343.7 110.67 L344.2 110.84 L344.7 110.99 L345.2 111.13 L345.7 111.26 L346.2 111.37 L346.7 111.48 L347.2 111.57 L347.7 111.65 L348.2 111.73 L348.7 111.80 L349.2 111.86 L349.7 111.91 L350.2 111.96 L350.7 112.00 L351.2 112.04 L351.7 112.07 L352.2 112.10 L352.7 112.13 L353.2 112.15 L353.7 112.17 L354.2 112.19 L354.7 112.20 L354.7 112.30 Z" fill="#f9d9aa" stroke="none"/>
<path d="M301.6 132.30 L301.6 132.25 L302.1 132.24 L302.6 132.22 L303.1 132.20 L303.6 132.18 L304.1 132.15 L304.6 132.12 L305.1 132.09 L305.6 132.04 L306.1 131.99 L306.6 131.93 L307.1 131.86 L307.6 131.77 L308.1 131.67 L308.6 131.56 L309.1 131.43 L309.6 131.28 L310.1 131.08 L310.6 130.92 L311.1 130.70 L311.6 130.44 L312.1 130.26 L312.6 129.87 L313.1 129.47 L313.6 129.01 L314.1 128.96 L314.6 128.39 L315.1 128.03 L315.6 127.06 L316.1 126.56 L316.6 126.33 L317.1 125.12 L317.6 124.44 L318.1 123.91 L318.6 123.18 L319.1 122.68 L319.6 121.98 L320.1 120.87 L320.6 120.34 L321.1 119.47 L321.6 118.65 L322.1 118.02 L322.6 117.04 L323.1 116.39 L323.6 115.54 L324.1 115.21 L324.6 114.69 L325.1 114.45 L325.6 114.15 L326.1 114.24 L326.6 114.44 L327.1 114.19 L327.6 114.45 L328.1 114.88 L328.6 115.36 L329.1 116.06 L329.6 116.62 L330.1 117.14 L330.6 117.87 L331.1 118.08 L331.6 118.95 L332.1 119.36 L332.6 120.32 L333.1 120.66 L333.6 121.42 L334.1 122.61 L334.6 123.16 L335.1 123.40 L335.6 124.30 L336.1 124.62 L336.6 125.56 L337.1 126.33 L337.6 126.54 L338.1 126.96 L338.6 127.75 L339.1 128.31 L339.6 128.59 L340.1 128.64 L340.6 129.13 L341.1 129.72 L341.6 129.96 L342.1 130.27 L342.6 130.51 L343.1 130.59 L343.6 130.89 L344.1 131.02 L344.6 131.20 L345.1 131.35 L345.6 131.47 L346.1 131.58 L346.6 131.68 L347.1 131.77 L347.6 131.85 L348.1 131.92 L348.6 131.98 L349.1 132.03 L349.6 132.07 L350.1 132.11 L350.6 132.14 L351.1 132.16 L351.6 132.19 L352.1 132.21 L352.6 132.22 L353.1 132.24 L353.6 132.25 L353.6 132.30 Z" fill="#d2e4bf" stroke="none"/>
<path d="M298.9 152.90 L298.9 152.84 L299.4 152.83 L299.9 152.82 L300.4 152.80 L300.9 152.78 L301.4 152.76 L301.9 152.74 L302.4 152.71 L302.9 152.67 L303.4 152.63 L303.9 152.59 L304.4 152.54 L304.9 152.48 L305.4 152.41 L305.9 152.33 L306.4 152.24 L306.9 152.14 L307.4 152.03 L307.9 151.89 L308.4 151.74 L308.9 151.64 L309.4 151.50 L309.9 151.23 L310.4 151.04 L310.9 150.61 L311.4 150.36 L311.9 150.09 L312.4 149.77 L312.9 149.32 L313.4 149.32 L313.9 148.65 L314.4 148.41 L314.9 147.31 L315.4 147.45 L315.9 146.27 L316.4 146.25 L316.9 145.12 L317.4 144.72 L317.9 143.96 L318.4 142.88 L318.9 142.79 L319.4 141.98 L319.9 140.51 L320.4 140.05 L320.9 139.59 L321.4 138.10 L321.9 137.37 L322.4 137.32 L322.9 136.39 L323.4 136.00 L323.9 135.32 L324.4 134.63 L324.9 134.68 L325.4 134.14 L325.9 134.72 L326.4 134.76 L326.9 134.45 L327.4 135.04 L327.9 135.36 L328.4 135.59 L328.9 136.12 L329.4 136.67 L329.9 137.47 L330.4 137.47 L330.9 137.86 L331.4 138.46 L331.9 139.33 L332.4 140.22 L332.9 140.86 L333.4 141.25 L333.9 141.92 L334.4 143.02 L334.9 143.56 L335.4 144.08 L335.9 144.58 L336.4 144.93 L336.9 145.76 L337.4 146.69 L337.9 146.58 L338.4 147.40 L338.9 147.80 L339.4 148.49 L339.9 148.75 L340.4 149.18 L340.9 149.27 L341.4 150.04 L341.9 150.09 L342.4 150.55 L342.9 150.60 L343.4 151.07 L343.9 151.20 L344.4 151.38 L344.9 151.51 L345.4 151.75 L345.9 151.85 L346.4 151.99 L346.9 152.10 L347.4 152.20 L347.9 152.30 L348.4 152.38 L348.9 152.45 L349.4 152.51 L349.9 152.57 L350.4 152.62 L350.9 152.66 L351.4 152.70 L351.9 152.73 L352.4 152.75 L352.9 152.78 L353.4 152.80 L353.9 152.81 L354.4 152.83 L354.9 152.84 L354.9 152.90 Z" fill="#b3c4bc" stroke="none"/>
<path d="M296.7 173.70 L296.7 173.59 L297.2 173.57 L297.7 173.55 L298.2 173.53 L298.7 173.51 L299.2 173.48 L299.7 173.45 L300.2 173.42 L300.7 173.38 L301.2 173.34 L301.7 173.30 L302.2 173.24 L302.7 173.19 L303.2 173.12 L303.7 173.05 L304.2 172.97 L304.7 172.89 L305.2 172.78 L305.7 172.67 L306.2 172.54 L306.7 172.46 L307.2 172.32 L307.7 172.18 L308.2 172.01 L308.7 171.72 L309.2 171.66 L309.7 171.33 L310.2 171.19 L310.7 170.91 L311.2 170.57 L311.7 170.04 L312.2 169.82 L312.7 169.81 L313.2 169.26 L313.7 168.92 L314.2 168.03 L314.7 167.59 L315.2 167.08 L315.7 166.53 L316.2 166.01 L316.7 165.28 L317.2 164.74 L317.7 164.40 L318.2 163.35 L318.7 162.85 L319.2 161.94 L319.7 161.29 L320.2 160.60 L320.7 159.84 L321.2 159.01 L321.7 158.28 L322.2 157.61 L322.7 156.42 L323.2 155.70 L323.7 154.90 L324.2 154.47 L324.7 154.04 L325.2 153.58 L325.7 154.08 L326.2 154.12 L326.7 154.73 L327.2 155.42 L327.7 155.99 L328.2 156.42 L328.7 157.23 L329.2 157.78 L329.7 158.37 L330.2 159.18 L330.7 160.02 L331.2 160.49 L331.7 161.31 L332.2 161.97 L332.7 162.64 L333.2 163.17 L333.7 163.95 L334.2 164.20 L334.7 164.59 L335.2 165.47 L335.7 165.80 L336.2 166.18 L336.7 167.19 L337.2 167.59 L337.7 167.63 L338.2 168.02 L338.7 168.53 L339.2 169.18 L339.7 169.38 L340.2 169.43 L340.7 169.73 L341.2 170.09 L341.7 170.66 L342.2 170.62 L342.7 171.05 L343.2 171.15 L343.7 171.53 L344.2 171.49 L344.7 171.76 L345.2 171.91 L345.7 172.15 L346.2 172.22 L346.7 172.36 L347.2 172.48 L347.7 172.60 L348.2 172.68 L348.7 172.79 L349.2 172.87 L349.7 172.95 L350.2 173.02 L350.7 173.08 L351.2 173.14 L351.7 173.19 L352.2 173.24 L352.7 173.29 L353.2 173.33 L353.7 173.37 L354.2 173.40 L354.7 173.43 L355.2 173.46 L355.7 173.48 L356.2 173.50 L356.7 173.52 L357.2 173.54 L357.2 173.70 Z" fill="#e9cdaa" stroke="none"/>
<path d="M307.3 193.50 L307.3 193.42 L307.8 193.38 L308.3 193.32 L308.8 193.24 L309.3 193.12 L309.8 192.97 L310.3 192.76 L310.8 192.52 L311.3 192.15 L311.8 191.75 L312.3 191.17 L312.8 190.82 L313.3 190.20 L313.8 189.19 L314.3 188.42 L314.8 187.74 L315.3 186.56 L315.8 185.74 L316.3 184.49 L316.8 183.85 L317.3 182.76 L317.8 181.36 L318.3 180.74 L318.8 179.91 L319.3 178.77 L319.8 178.14 L320.3 177.78 L320.8 176.99 L321.3 176.47 L321.8 176.40 L322.3 175.82 L322.8 175.93 L323.3 175.65 L323.8 175.72 L324.3 175.60 L324.8 175.12 L325.3 175.46 L325.8 175.23 L326.3 175.80 L326.8 176.01 L327.3 176.22 L327.8 176.76 L328.3 177.56 L328.8 177.77 L329.3 178.26 L329.8 179.07 L330.3 179.68 L330.8 179.77 L331.3 180.56 L331.8 181.32 L332.3 181.74 L332.8 182.44 L333.3 182.65 L333.8 183.38 L334.3 184.16 L334.8 184.26 L335.3 185.21 L335.8 185.59 L336.3 186.22 L336.8 186.26 L337.3 187.08 L337.8 187.26 L338.3 187.93 L338.8 188.09 L339.3 188.34 L339.8 188.78 L340.3 189.16 L340.8 189.46 L341.3 189.79 L341.8 189.98 L342.3 190.49 L342.8 190.56 L343.3 190.88 L343.8 190.87 L344.3 191.07 L344.8 191.51 L345.3 191.65 L345.8 191.69 L346.3 191.87 L346.8 192.09 L347.3 192.13 L347.8 192.24 L348.3 192.39 L348.8 192.50 L349.3 192.58 L349.8 192.67 L350.3 192.75 L350.8 192.82 L351.3 192.89 L351.8 192.95 L352.3 193.00 L352.8 193.05 L353.3 193.10 L353.8 193.14 L354.3 193.17 L354.8 193.21 L355.3 193.24 L355.8 193.27 L356.3 193.29 L356.8 193.31 L357.3 193.33 L357.8 193.35 L358.3 193.37 L358.3 193.50 Z" fill="#c4b2d3" stroke="none"/>
<path d="M307.0 214.00 L307.0 213.94 L307.5 213.92 L308.0 213.90 L308.5 213.87 L309.0 213.84 L309.5 213.80 L310.0 213.74 L310.5 213.68 L311.0 213.61 L311.5 213.52 L312.0 213.41 L312.5 213.29 L313.0 213.13 L313.5 212.99 L314.0 212.73 L314.5 212.58 L315.0 212.11 L315.5 212.09 L316.0 211.39 L316.5 211.05 L317.0 210.45 L317.5 209.78 L318.0 209.82 L318.5 209.12 L319.0 208.14 L319.5 207.75 L320.0 206.97 L320.5 206.16 L321.0 204.78 L321.5 203.86 L322.0 202.99 L322.5 202.50 L323.0 201.00 L323.5 200.42 L324.0 199.76 L324.5 198.76 L325.0 198.06 L325.5 197.70 L326.0 196.83 L326.5 196.68 L327.0 196.47 L327.5 196.37 L328.0 196.94 L328.5 197.60 L329.0 197.80 L329.5 198.35 L330.0 199.47 L330.5 199.88 L331.0 201.44 L331.5 202.18 L332.0 203.00 L332.5 203.24 L333.0 204.28 L333.5 205.07 L334.0 206.21 L334.5 206.80 L335.0 207.21 L335.5 208.52 L336.0 209.14 L336.5 209.78 L337.0 209.99 L337.5 210.21 L338.0 210.87 L338.5 211.36 L339.0 211.67 L339.5 212.10 L340.0 212.17 L340.5 212.56 L341.0 212.79 L341.5 212.96 L342.0 213.11 L342.5 213.26 L343.0 213.38 L343.5 213.49 L344.0 213.58 L344.5 213.65 L345.0 213.72 L345.5 213.77 L346.0 213.81 L346.5 213.85 L347.0 213.88 L347.5 213.90 L348.0 213.92 L348.5 213.94 L348.5 214.00 Z" fill="#b3bcd8" stroke="none"/>
<line x1="275.3" y1="52.0" x2="275.3" y2="214.0" stroke="#a4a4ac" stroke-width="0.9" stroke-opacity="0.85"/>
<line x1="278.6" y1="52.0" x2="278.6" y2="214.0" stroke="#85858e" stroke-width="1.0" stroke-opacity="0.85"/>
<line x1="280.5" y1="52.0" x2="280.5" y2="214.0" stroke="#a4a4ac" stroke-width="0.9" stroke-opacity="0.85"/>
<line x1="258.5" y1="52.0" x2="258.5" y2="214.0" stroke="#a0a0a8" stroke-width="0.9" stroke-opacity="0.8"/>
<line x1="298.0" y1="52.0" x2="298.0" y2="214.0" stroke="#a0a0a8" stroke-width="0.9" stroke-opacity="0.8"/>
<line x1="332.0" y1="52.0" x2="332.0" y2="214.0" stroke="#d2d2d8" stroke-width="0.9" stroke-opacity="0.8"/>
<line x1="360.0" y1="52.0" x2="360.0" y2="214.0" stroke="#a0a0a8" stroke-width="0.9" stroke-opacity="0.8"/>
<path d="M253.0 71.10 L278.8 71.09 L279.3 71.06 L279.8 71.00 L280.3 70.85 L280.8 70.53 L281.3 69.91 L281.8 68.79 L282.3 66.97 L282.8 64.33 L283.3 60.96 L283.8 57.29 L284.3 54.16 L284.8 52.70 L285.3 54.16 L285.8 57.29 L286.3 60.96 L286.8 64.33 L287.3 66.97 L287.8 68.79 L288.3 69.91 L288.8 70.53 L289.3 70.85 L289.8 71.00 L290.3 71.06 L290.8 71.09 L371.0 71.10" fill="none" stroke="#963e52" stroke-width="1.20" stroke-linejoin="round"/>
<path d="M280.7 90.62 L281.2 89.96 L281.7 88.87 L282.2 87.22 L282.7 84.93 L283.2 82.02 L283.7 78.79 L284.2 75.77 L284.7 73.90 L285.2 74.62 L285.7 76.83 L286.2 79.60 L286.7 82.41 L287.2 84.93 L287.7 86.97 L288.2 88.51 L288.7 89.60 L289.2 90.33 L289.7 90.79 L290.2 91.07 L290.7 91.10 L291.2 91.10 L291.7 91.10 L292.2 91.10 L292.7 91.10 L293.2 91.10 L293.7 91.10 L294.2 91.10 L294.7 91.10 L295.2 91.10 L295.7 91.10 L296.2 91.10 L296.7 91.10 L297.2 91.10 L297.7 91.10 L298.2 91.10 L298.7 91.10 L299.2 91.10" fill="none" stroke="#92b3d4" stroke-width="1.20" stroke-linejoin="round"/>
<path d="M253.0 112.30 L297.2 112.25 L297.7 112.24 L298.2 112.23 L298.7 112.22 L299.2 112.20 L299.7 112.18 L300.2 112.15 L300.7 112.12 L301.2 112.09 L301.7 112.04 L302.2 112.00 L302.7 111.94 L303.2 111.87 L303.7 111.80 L304.2 111.71 L304.7 111.61 L305.2 111.50 L305.7 111.37 L306.2 111.22 L306.7 111.05 L307.2 110.87 L307.7 110.66 L308.2 110.42 L308.7 110.16 L309.2 109.87 L309.7 109.56 L310.2 109.21 L310.7 108.83 L311.2 108.41 L311.7 107.97 L312.2 107.48 L312.7 106.97 L313.2 106.41 L313.7 105.83 L314.2 105.21 L314.7 104.56 L315.2 103.88 L315.7 103.18 L316.2 102.45 L316.7 101.70 L317.2 100.94 L317.7 100.18 L318.2 99.41 L318.7 98.64 L319.2 97.89 L319.7 97.15 L320.2 96.44 L320.7 95.76 L321.2 95.13 L321.7 94.55 L322.2 94.03 L322.7 93.57 L323.2 93.19 L323.7 92.90 L324.2 92.70 L324.7 92.60 L325.2 92.68 L325.7 92.92 L326.2 93.26 L326.7 93.68 L327.2 94.17 L327.7 94.71 L328.2 95.30 L328.7 95.92 L329.2 96.57 L329.7 97.24 L330.2 97.93 L330.7 98.63 L331.2 99.33 L331.7 100.02 L332.2 100.71 L332.7 101.39 L333.2 102.06 L333.7 102.71 L334.2 103.34 L334.7 103.94 L335.2 104.53 L335.7 105.09 L336.2 105.62 L336.7 106.13 L337.2 106.62 L337.7 107.07 L338.2 107.50 L338.7 107.91 L339.2 108.29 L339.7 108.64 L340.2 108.97 L340.7 109.27 L341.2 109.56 L341.7 109.82 L342.2 110.06 L342.7 110.28 L343.2 110.48 L343.7 110.67 L344.2 110.84 L344.7 110.99 L345.2 111.13 L345.7 111.26 L346.2 111.37 L346.7 111.48 L347.2 111.57 L347.7 111.65 L348.2 111.73 L348.7 111.80 L349.2 111.86 L349.7 111.91 L350.2 111.96 L350.7 112.00 L351.2 112.04 L351.7 112.07 L352.2 112.10 L352.7 112.13 L353.2 112.15 L353.7 112.17 L354.2 112.19 L354.7 112.20 L371.0 112.30" fill="none" stroke="#d8a86a" stroke-width="1.20" stroke-linejoin="round"/>
<path d="M253.0 132.30 L300.6 132.27 L301.1 132.26 L301.6 132.25 L302.1 132.24 L302.6 132.22 L303.1 132.20 L303.6 132.18 L304.1 132.15 L304.6 132.12 L305.1 132.09 L305.6 132.04 L306.1 131.99 L306.6 131.93 L307.1 131.86 L307.6 131.77 L308.1 131.67 L308.6 131.56 L309.1 131.43 L309.6 131.28 L310.1 131.08 L310.6 130.92 L311.1 130.70 L311.6 130.44 L312.1 130.26 L312.6 129.87 L313.1 129.47 L313.6 129.01 L314.1 128.96 L314.6 128.39 L315.1 128.03 L315.6 127.06 L316.1 126.56 L316.6 126.33 L317.1 125.12 L317.6 124.44 L318.1 123.91 L318.6 123.18 L319.1 122.68 L319.6 121.98 L320.1 120.87 L320.6 120.34 L321.1 119.47 L321.6 118.65 L322.1 118.02 L322.6 117.04 L323.1 116.39 L323.6 115.54 L324.1 115.21 L324.6 114.69 L325.1 114.45 L325.6 114.15 L326.1 114.24 L326.6 114.44 L327.1 114.19 L327.6 114.45 L328.1 114.88 L328.6 115.36 L329.1 116.06 L329.6 116.62 L330.1 117.14 L330.6 117.87 L331.1 118.08 L331.6 118.95 L332.1 119.36 L332.6 120.32 L333.1 120.66 L333.6 121.42 L334.1 122.61 L334.6 123.16 L335.1 123.40 L335.6 124.30 L336.1 124.62 L336.6 125.56 L337.1 126.33 L337.6 126.54 L338.1 126.96 L338.6 127.75 L339.1 128.31 L339.6 128.59 L340.1 128.64 L340.6 129.13 L341.1 129.72 L341.6 129.96 L342.1 130.27 L342.6 130.51 L343.1 130.59 L343.6 130.89 L344.1 131.02 L344.6 131.20 L345.1 131.35 L345.6 131.47 L346.1 131.58 L346.6 131.68 L347.1 131.77 L347.6 131.85 L348.1 131.92 L348.6 131.98 L349.1 132.03 L349.6 132.07 L350.1 132.11 L350.6 132.14 L351.1 132.16 L351.6 132.19 L352.1 132.21 L352.6 132.22 L353.1 132.24 L353.6 132.25 L371.0 132.30" fill="none" stroke="#8cab78" stroke-width="1.20" stroke-linejoin="round"/>
<path d="M253.0 152.90 L298.9 152.84 L299.4 152.83 L299.9 152.82 L300.4 152.80 L300.9 152.78 L301.4 152.76 L301.9 152.74 L302.4 152.71 L302.9 152.67 L303.4 152.63 L303.9 152.59 L304.4 152.54 L304.9 152.48 L305.4 152.41 L305.9 152.33 L306.4 152.24 L306.9 152.14 L307.4 152.03 L307.9 151.89 L308.4 151.74 L308.9 151.64 L309.4 151.50 L309.9 151.23 L310.4 151.04 L310.9 150.61 L311.4 150.36 L311.9 150.09 L312.4 149.77 L312.9 149.32 L313.4 149.32 L313.9 148.65 L314.4 148.41 L314.9 147.31 L315.4 147.45 L315.9 146.27 L316.4 146.25 L316.9 145.12 L317.4 144.72 L317.9 143.96 L318.4 142.88 L318.9 142.79 L319.4 141.98 L319.9 140.51 L320.4 140.05 L320.9 139.59 L321.4 138.10 L321.9 137.37 L322.4 137.32 L322.9 136.39 L323.4 136.00 L323.9 135.32 L324.4 134.63 L324.9 134.68 L325.4 134.14 L325.9 134.72 L326.4 134.76 L326.9 134.45 L327.4 135.04 L327.9 135.36 L328.4 135.59 L328.9 136.12 L329.4 136.67 L329.9 137.47 L330.4 137.47 L330.9 137.86 L331.4 138.46 L331.9 139.33 L332.4 140.22 L332.9 140.86 L333.4 141.25 L333.9 141.92 L334.4 143.02 L334.9 143.56 L335.4 144.08 L335.9 144.58 L336.4 144.93 L336.9 145.76 L337.4 146.69 L337.9 146.58 L338.4 147.40 L338.9 147.80 L339.4 148.49 L339.9 148.75 L340.4 149.18 L340.9 149.27 L341.4 150.04 L341.9 150.09 L342.4 150.55 L342.9 150.60 L343.4 151.07 L343.9 151.20 L344.4 151.38 L344.9 151.51 L345.4 151.75 L345.9 151.85 L346.4 151.99 L346.9 152.10 L347.4 152.20 L347.9 152.30 L348.4 152.38 L348.9 152.45 L349.4 152.51 L349.9 152.57 L350.4 152.62 L350.9 152.66 L351.4 152.70 L351.9 152.73 L352.4 152.75 L352.9 152.78 L353.4 152.80 L353.9 152.81 L354.4 152.83 L354.9 152.84 L371.0 152.90" fill="none" stroke="#5e6f6b" stroke-width="1.20" stroke-linejoin="round"/>
<path d="M253.0 173.70 L296.7 173.59 L297.2 173.57 L297.7 173.55 L298.2 173.53 L298.7 173.51 L299.2 173.48 L299.7 173.45 L300.2 173.42 L300.7 173.38 L301.2 173.34 L301.7 173.30 L302.2 173.24 L302.7 173.19 L303.2 173.12 L303.7 173.05 L304.2 172.97 L304.7 172.89 L305.2 172.78 L305.7 172.67 L306.2 172.54 L306.7 172.46 L307.2 172.32 L307.7 172.18 L308.2 172.01 L308.7 171.72 L309.2 171.66 L309.7 171.33 L310.2 171.19 L310.7 170.91 L311.2 170.57 L311.7 170.04 L312.2 169.82 L312.7 169.81 L313.2 169.26 L313.7 168.92 L314.2 168.03 L314.7 167.59 L315.2 167.08 L315.7 166.53 L316.2 166.01 L316.7 165.28 L317.2 164.74 L317.7 164.40 L318.2 163.35 L318.7 162.85 L319.2 161.94 L319.7 161.29 L320.2 160.60 L320.7 159.84 L321.2 159.01 L321.7 158.28 L322.2 157.61 L322.7 156.42 L323.2 155.70 L323.7 154.90 L324.2 154.47 L324.7 154.04 L325.2 153.58 L325.7 154.08 L326.2 154.12 L326.7 154.73 L327.2 155.42 L327.7 155.99 L328.2 156.42 L328.7 157.23 L329.2 157.78 L329.7 158.37 L330.2 159.18 L330.7 160.02 L331.2 160.49 L331.7 161.31 L332.2 161.97 L332.7 162.64 L333.2 163.17 L333.7 163.95 L334.2 164.20 L334.7 164.59 L335.2 165.47 L335.7 165.80 L336.2 166.18 L336.7 167.19 L337.2 167.59 L337.7 167.63 L338.2 168.02 L338.7 168.53 L339.2 169.18 L339.7 169.38 L340.2 169.43 L340.7 169.73 L341.2 170.09 L341.7 170.66 L342.2 170.62 L342.7 171.05 L343.2 171.15 L343.7 171.53 L344.2 171.49 L344.7 171.76 L345.2 171.91 L345.7 172.15 L346.2 172.22 L346.7 172.36 L347.2 172.48 L347.7 172.60 L348.2 172.68 L348.7 172.79 L349.2 172.87 L349.7 172.95 L350.2 173.02 L350.7 173.08 L351.2 173.14 L351.7 173.19 L352.2 173.24 L352.7 173.29 L353.2 173.33 L353.7 173.37 L354.2 173.40 L354.7 173.43 L355.2 173.46 L355.7 173.48 L356.2 173.50 L356.7 173.52 L357.2 173.54 L371.0 173.70" fill="none" stroke="#a88a68" stroke-width="1.20" stroke-linejoin="round"/>
<path d="M253.0 193.50 L305.8 193.48 L306.3 193.47 L306.8 193.45 L307.3 193.42 L307.8 193.38 L308.3 193.32 L308.8 193.24 L309.3 193.12 L309.8 192.97 L310.3 192.76 L310.8 192.52 L311.3 192.15 L311.8 191.75 L312.3 191.17 L312.8 190.82 L313.3 190.20 L313.8 189.19 L314.3 188.42 L314.8 187.74 L315.3 186.56 L315.8 185.74 L316.3 184.49 L316.8 183.85 L317.3 182.76 L317.8 181.36 L318.3 180.74 L318.8 179.91 L319.3 178.77 L319.8 178.14 L320.3 177.78 L320.8 176.99 L321.3 176.47 L321.8 176.40 L322.3 175.82 L322.8 175.93 L323.3 175.65 L323.8 175.72 L324.3 175.60 L324.8 175.12 L325.3 175.46 L325.8 175.23 L326.3 175.80 L326.8 176.01 L327.3 176.22 L327.8 176.76 L328.3 177.56 L328.8 177.77 L329.3 178.26 L329.8 179.07 L330.3 179.68 L330.8 179.77 L331.3 180.56 L331.8 181.32 L332.3 181.74 L332.8 182.44 L333.3 182.65 L333.8 183.38 L334.3 184.16 L334.8 184.26 L335.3 185.21 L335.8 185.59 L336.3 186.22 L336.8 186.26 L337.3 187.08 L337.8 187.26 L338.3 187.93 L338.8 188.09 L339.3 188.34 L339.8 188.78 L340.3 189.16 L340.8 189.46 L341.3 189.79 L341.8 189.98 L342.3 190.49 L342.8 190.56 L343.3 190.88 L343.8 190.87 L344.3 191.07 L344.8 191.51 L345.3 191.65 L345.8 191.69 L346.3 191.87 L346.8 192.09 L347.3 192.13 L347.8 192.24 L348.3 192.39 L348.8 192.50 L349.3 192.58 L349.8 192.67 L350.3 192.75 L350.8 192.82 L351.3 192.89 L351.8 192.95 L352.3 193.00 L352.8 193.05 L353.3 193.10 L353.8 193.14 L354.3 193.17 L354.8 193.21 L355.3 193.24 L355.8 193.27 L356.3 193.29 L356.8 193.31 L357.3 193.33 L357.8 193.35 L358.3 193.37 L371.0 193.50" fill="none" stroke="#6e6279" stroke-width="1.20" stroke-linejoin="round"/>
<path d="M309.0 213.84 L309.5 213.80 L310.0 213.74 L310.5 213.68 L311.0 213.61 L311.5 213.52 L312.0 213.41 L312.5 213.29 L313.0 213.13 L313.5 212.99 L314.0 212.73 L314.5 212.58 L315.0 212.11 L315.5 212.09 L316.0 211.39 L316.5 211.05 L317.0 210.45 L317.5 209.78 L318.0 209.82 L318.5 209.12 L319.0 208.14 L319.5 207.75 L320.0 206.97 L320.5 206.16 L321.0 204.78 L321.5 203.86 L322.0 202.99 L322.5 202.50 L323.0 201.00 L323.5 200.42 L324.0 199.76 L324.5 198.76 L325.0 198.06 L325.5 197.70 L326.0 196.83 L326.5 196.68 L327.0 196.47 L327.5 196.37 L328.0 196.94 L328.5 197.60 L329.0 197.80 L329.5 198.35 L330.0 199.47 L330.5 199.88 L331.0 201.44 L331.5 202.18 L332.0 203.00 L332.5 203.24 L333.0 204.28 L333.5 205.07 L334.0 206.21 L334.5 206.80 L335.0 207.21 L335.5 208.52 L336.0 209.14 L336.5 209.78 L337.0 209.99 L337.5 210.21 L338.0 210.87 L338.5 211.36 L339.0 211.67 L339.5 212.10 L340.0 212.17 L340.5 212.56 L341.0 212.79 L341.5 212.96 L342.0 213.11 L342.5 213.26 L343.0 213.38 L343.5 213.49 L344.0 213.58 L344.5 213.65 L345.0 213.72 L345.5 213.77 L346.0 213.81 L346.5 213.85" fill="none" stroke="#5e6879" stroke-width="1.20" stroke-linejoin="round"/>
<line x1="325.0" y1="92.2" x2="325.0" y2="214.0" stroke="#f2b8c0" stroke-width="3.2" opacity="0.9"/>
<line x1="325.0" y1="92.2" x2="325.0" y2="214.0" stroke="#560a14" stroke-width="2" stroke-dasharray="3.7 2.8"/>
<text x="297.2" y="64.4" font-family='"Liberation Sans", sans-serif' font-size="10.4" font-weight="normal" fill="#262626" textLength="46.6" lengthAdjust="spacingAndGlyphs">unstained</text>
<text x="297.7" y="84.3" font-family='"Liberation Sans", sans-serif' font-size="10.4" font-weight="normal" fill="#262626" textLength="49.4" lengthAdjust="spacingAndGlyphs">secondary</text>
<rect x="252.0" y="51.0" width="120.0" height="164.0" fill="none" stroke="#000" stroke-width="2"/>
<text stroke="#1a1a1a" stroke-width="0.15" x="102.0" y="231.2" font-family='"Liberation Sans", sans-serif' font-size="13.8" font-weight="normal" fill="#1a1a1a" textLength="31.2" lengthAdjust="spacingAndGlyphs">EPHB4</text>
<line x1="135.7" y1="227.1" x2="317.8" y2="227.1" stroke="#000" stroke-width="1.7"/><path d="M323.8 227.1 L314.8 223.3 L317.4 227.1 L314.8 230.9 Z" fill="#000"/>
<text x="119.9" y="292.2" font-family='"Liberation Sans", sans-serif' font-size="14.3" font-weight="normal" fill="#262626" textLength="117.7" lengthAdjust="spacingAndGlyphs">FLT3-ITD (MV4-11)</text>
<text x="248.4" y="291.6" font-family='"Liberation Sans", sans-serif' font-size="14.3" font-weight="normal" fill="#262626" textLength="131.8" lengthAdjust="spacingAndGlyphs">FLT3-ITD (MOLM-14)</text>
<text x="403.3" y="292.5" font-family='"Liberation Sans", sans-serif' font-size="14.3" font-weight="normal" fill="#262626" textLength="91.7" lengthAdjust="spacingAndGlyphs">FLT3-wt (ML-2)</text>
<text x="18.3" y="353.8" font-family='"Liberation Sans", sans-serif' font-size="10.4" font-weight="normal" fill="#262626" textLength="78.6" lengthAdjust="spacingAndGlyphs">Quizartinib 0 nM</text>
<text x="18.3" y="373.9" font-family='"Liberation Sans", sans-serif' font-size="10.4" font-weight="normal" fill="#262626" textLength="78.6" lengthAdjust="spacingAndGlyphs">Quizartinib 1 nM</text>
<text x="18.3" y="394.0" font-family='"Liberation Sans", sans-serif' font-size="10.4" font-weight="normal" fill="#262626" textLength="78.6" lengthAdjust="spacingAndGlyphs">Quizartinib 5 nM</text>
<text x="18.3" y="414.5" font-family='"Liberation Sans", sans-serif' font-size="10.4" font-weight="normal" fill="#262626" textLength="85.3" lengthAdjust="spacingAndGlyphs">Quizartinib 10 nM</text>
<text x="18.3" y="434.6" font-family='"Liberation Sans", sans-serif' font-size="10.4" font-weight="normal" fill="#262626" textLength="85.3" lengthAdjust="spacingAndGlyphs">Quizartinib 25 nM</text>
<text x="18.3" y="454.7" font-family='"Liberation Sans", sans-serif' font-size="10.4" font-weight="normal" fill="#262626" textLength="91.7" lengthAdjust="spacingAndGlyphs">Quizartinib 100 nM</text>
<rect x="142.3" y="300.4" width="5.0" height="160.3" fill="#efeff1"/>
<path d="M143.7 319.40 L143.7 319.31 L144.2 319.21 L144.7 319.00 L145.2 318.56 L145.7 317.69 L146.2 316.06 L146.7 313.15 L147.2 308.40 L147.7 302.40 L148.2 306.39 L148.7 310.21 L149.2 313.15 L149.7 315.26 L150.2 316.72 L150.7 317.69 L151.2 318.33 L151.7 318.74 L152.2 319.00 L152.7 319.16 L153.2 319.25 L153.7 319.31 L154.2 319.35 L154.2 319.40 Z" fill="#f0b4bd" stroke="none"/>
<path d="M143.8 339.90 L143.8 339.80 L144.3 339.69 L144.8 339.45 L145.3 338.97 L145.8 338.02 L146.3 336.22 L146.8 333.02 L147.3 327.80 L147.8 321.20 L148.3 325.30 L148.8 329.31 L149.3 332.49 L149.8 334.84 L150.3 336.51 L150.8 337.67 L151.3 338.45 L151.8 338.97 L152.3 339.31 L152.8 339.53 L153.3 339.67 L153.8 339.76 L154.3 339.81 L154.8 339.85 L154.8 339.90 Z" fill="#cde1f5" stroke="none"/>
<path d="M168.3 359.70 L168.3 359.61 L168.8 359.60 L169.3 359.59 L169.8 359.57 L170.3 359.55 L170.8 359.52 L171.3 359.50 L171.8 359.47 L172.3 359.43 L172.8 359.39 L173.3 359.35 L173.8 359.30 L174.3 359.25 L174.8 359.18 L175.3 359.11 L175.8 359.04 L176.3 358.95 L176.8 358.85 L177.3 358.75 L177.8 358.63 L178.3 358.50 L178.8 358.35 L179.3 358.19 L179.8 358.02 L180.3 357.83 L180.8 357.62 L181.3 357.39 L181.8 357.14 L182.3 356.88 L182.8 356.59 L183.3 356.27 L183.8 355.94 L184.3 355.58 L184.8 355.19 L185.3 354.78 L185.8 354.35 L186.3 353.89 L186.8 353.40 L187.3 352.89 L187.8 352.36 L188.3 351.80 L188.8 351.22 L189.3 350.62 L189.8 350.00 L190.3 349.37 L190.8 348.72 L191.3 348.07 L191.8 347.41 L192.3 346.75 L192.8 346.09 L193.3 345.45 L193.8 344.81 L194.3 344.21 L194.8 343.63 L195.3 343.09 L195.8 342.59 L196.3 342.15 L196.8 341.79 L197.3 341.50 L197.8 341.33 L198.3 341.40 L198.8 341.79 L199.3 342.38 L199.8 343.12 L200.3 343.97 L200.8 344.90 L201.3 345.88 L201.8 346.90 L202.3 347.92 L202.8 348.93 L203.3 349.92 L203.8 350.88 L204.3 351.79 L204.8 352.64 L205.3 353.44 L205.8 354.19 L206.3 354.87 L206.8 355.49 L207.3 356.05 L207.8 356.55 L208.3 356.99 L208.8 357.39 L209.3 357.74 L209.8 358.04 L210.3 358.30 L210.8 358.53 L211.3 358.72 L211.8 358.89 L212.3 359.03 L212.8 359.15 L213.3 359.25 L213.8 359.33 L214.3 359.40 L214.8 359.46 L215.3 359.51 L215.8 359.55 L216.3 359.58 L216.8 359.60 L217.3 359.62 L217.8 359.64 L217.8 359.70 Z" fill="#f9d9aa" stroke="none"/>
<path d="M172.1 380.40 L172.1 380.35 L172.6 380.34 L173.1 380.32 L173.6 380.31 L174.1 380.29 L174.6 380.27 L175.1 380.24 L175.6 380.21 L176.1 380.18 L176.6 380.13 L177.1 380.09 L177.6 380.03 L178.1 379.96 L178.6 379.89 L179.1 379.80 L179.6 379.69 L180.1 379.58 L180.6 379.44 L181.1 379.29 L181.6 379.12 L182.1 378.92 L182.6 378.70 L183.1 378.46 L183.6 378.18 L184.1 377.87 L184.6 377.53 L185.1 377.15 L185.6 376.73 L186.1 376.27 L186.6 375.77 L187.1 375.23 L187.6 374.65 L188.1 374.02 L188.6 373.36 L189.1 372.65 L189.6 371.90 L190.1 371.12 L190.6 370.32 L191.1 369.49 L191.6 368.64 L192.1 367.80 L192.6 366.96 L193.1 366.14 L193.6 365.36 L194.1 364.65 L194.6 364.01 L195.1 363.50 L195.6 363.16 L196.1 363.21 L196.6 363.62 L197.1 364.21 L197.6 364.93 L198.1 365.74 L198.6 366.62 L199.1 367.53 L199.6 368.47 L200.1 369.40 L200.6 370.33 L201.1 371.23 L201.6 372.09 L202.1 372.91 L202.6 373.69 L203.1 374.41 L203.6 375.09 L204.1 375.71 L204.6 376.27 L205.1 376.79 L205.6 377.25 L206.1 377.67 L206.6 378.04 L207.1 378.37 L207.6 378.66 L208.1 378.92 L208.6 379.14 L209.1 379.33 L209.6 379.50 L210.1 379.64 L210.6 379.77 L211.1 379.87 L211.6 379.96 L212.1 380.04 L212.6 380.10 L213.1 380.15 L213.6 380.20 L214.1 380.24 L214.6 380.27 L215.1 380.29 L215.6 380.31 L216.1 380.33 L216.6 380.34 L216.6 380.40 Z" fill="#d2e4bf" stroke="none"/>
<path d="M166.5 400.90 L166.5 400.83 L167.0 400.82 L167.5 400.81 L168.0 400.79 L168.5 400.77 L169.0 400.75 L169.5 400.73 L170.0 400.70 L170.5 400.67 L171.0 400.63 L171.5 400.59 L172.0 400.54 L172.5 400.49 L173.0 400.43 L173.5 400.36 L174.0 400.28 L174.5 400.19 L175.0 400.10 L175.5 399.99 L176.0 399.86 L176.5 399.74 L177.0 399.62 L177.5 399.38 L178.0 399.19 L178.5 399.04 L179.0 398.82 L179.5 398.66 L180.0 398.50 L180.5 398.09 L181.0 397.69 L181.5 397.63 L182.0 396.86 L182.5 396.82 L183.0 396.40 L183.5 396.08 L184.0 395.04 L184.5 394.70 L185.0 394.10 L185.5 393.71 L186.0 393.49 L186.5 392.72 L187.0 392.00 L187.5 391.60 L188.0 390.45 L188.5 390.15 L189.0 389.61 L189.5 388.55 L190.0 388.30 L190.5 387.17 L191.0 386.82 L191.5 386.15 L192.0 385.70 L192.5 385.09 L193.0 384.79 L193.5 384.47 L194.0 383.65 L194.5 383.81 L195.0 383.45 L195.5 383.98 L196.0 383.89 L196.5 384.46 L197.0 385.19 L197.5 385.96 L198.0 386.92 L198.5 387.76 L199.0 389.10 L199.5 389.88 L200.0 390.67 L200.5 392.04 L201.0 392.57 L201.5 393.51 L202.0 394.66 L202.5 395.50 L203.0 396.19 L203.5 396.91 L204.0 397.19 L204.5 398.04 L205.0 398.62 L205.5 398.98 L206.0 399.20 L206.5 399.49 L207.0 399.80 L207.5 400.02 L208.0 400.19 L208.5 400.34 L209.0 400.46 L209.5 400.56 L210.0 400.64 L210.5 400.70 L211.0 400.75 L211.5 400.78 L212.0 400.81 L212.5 400.84 L212.5 400.90 Z" fill="#b3c4bc" stroke="none"/>
<path d="M162.0 420.60 L162.0 420.49 L162.5 420.48 L163.0 420.46 L163.5 420.44 L164.0 420.42 L164.5 420.40 L165.0 420.37 L165.5 420.35 L166.0 420.31 L166.5 420.28 L167.0 420.24 L167.5 420.19 L168.0 420.14 L168.5 420.09 L169.0 420.03 L169.5 419.96 L170.0 419.89 L170.5 419.80 L171.0 419.71 L171.5 419.63 L172.0 419.53 L172.5 419.35 L173.0 419.29 L173.5 419.17 L174.0 418.93 L174.5 418.82 L175.0 418.51 L175.5 418.48 L176.0 418.04 L176.5 418.02 L177.0 417.66 L177.5 417.22 L178.0 417.04 L178.5 416.57 L179.0 416.36 L179.5 416.40 L180.0 415.52 L180.5 415.29 L181.0 415.03 L181.5 414.65 L182.0 413.78 L182.5 413.44 L183.0 412.70 L183.5 412.25 L184.0 411.57 L184.5 411.22 L185.0 410.53 L185.5 409.96 L186.0 409.54 L186.5 408.48 L187.0 408.21 L187.5 407.28 L188.0 406.53 L188.5 406.08 L189.0 405.76 L189.5 404.77 L190.0 404.31 L190.5 404.11 L191.0 403.77 L191.5 403.18 L192.0 403.44 L192.5 403.33 L193.0 404.25 L193.5 405.06 L194.0 406.07 L194.5 406.93 L195.0 407.83 L195.5 409.27 L196.0 410.29 L196.5 411.20 L197.0 412.36 L197.5 413.12 L198.0 414.03 L198.5 414.91 L199.0 415.50 L199.5 416.26 L200.0 417.13 L200.5 417.19 L201.0 417.96 L201.5 418.34 L202.0 418.70 L202.5 418.93 L203.0 419.22 L203.5 419.50 L204.0 419.69 L204.5 419.86 L205.0 419.99 L205.5 420.11 L206.0 420.20 L206.5 420.28 L207.0 420.35 L207.5 420.40 L208.0 420.44 L208.5 420.47 L209.0 420.50 L209.5 420.52 L210.0 420.54 L210.0 420.60 Z" fill="#e9cdaa" stroke="none"/>
<path d="M160.5 441.20 L160.5 440.96 L161.0 440.93 L161.5 440.90 L162.0 440.87 L162.5 440.84 L163.0 440.81 L163.5 440.77 L164.0 440.72 L164.5 440.67 L165.0 440.60 L165.5 440.52 L166.0 440.44 L166.5 440.35 L167.0 440.24 L167.5 440.13 L168.0 439.99 L168.5 439.84 L169.0 439.66 L169.5 439.47 L170.0 439.26 L170.5 439.04 L171.0 438.80 L171.5 438.55 L172.0 438.28 L172.5 438.00 L173.0 437.70 L173.5 437.39 L174.0 437.07 L174.5 436.74 L175.0 436.40 L175.5 436.05 L176.0 435.70 L176.5 435.33 L177.0 434.96 L177.5 434.58 L178.0 434.20 L178.5 433.81 L179.0 433.41 L179.5 432.99 L180.0 432.23 L180.5 431.79 L181.0 431.41 L181.5 431.63 L182.0 430.79 L182.5 430.51 L183.0 430.00 L183.5 429.92 L184.0 429.49 L184.5 428.94 L185.0 428.76 L185.5 428.19 L186.0 428.08 L186.5 427.46 L187.0 426.29 L187.5 425.84 L188.0 425.19 L188.5 424.52 L189.0 424.37 L189.5 424.24 L190.0 423.41 L190.5 423.44 L191.0 423.40 L191.5 423.58 L192.0 423.62 L192.5 424.72 L193.0 425.27 L193.5 426.51 L194.0 427.25 L194.5 428.12 L195.0 429.36 L195.5 430.50 L196.0 431.12 L196.5 431.99 L197.0 432.83 L197.5 433.64 L198.0 434.43 L198.5 435.20 L199.0 435.93 L199.5 436.61 L200.0 437.26 L200.5 437.85 L201.0 438.38 L201.5 438.85 L202.0 439.26 L202.5 439.61 L203.0 439.90 L203.5 440.14 L204.0 440.33 L204.5 440.50 L205.0 440.64 L205.5 440.75 L206.0 440.84 L206.5 440.93 L207.0 441.00 L207.5 441.06 L208.0 441.11 L208.5 441.14 L208.5 441.20 Z" fill="#c4b2d3" stroke="none"/>
<path d="M165.5 460.80 L165.5 460.75 L166.0 460.70 L166.5 460.67 L167.0 460.63 L167.5 460.58 L168.0 460.51 L168.5 460.42 L169.0 460.30 L169.5 460.15 L170.0 460.00 L170.5 459.83 L171.0 459.64 L171.5 459.52 L172.0 459.22 L172.5 459.14 L173.0 458.82 L173.5 458.73 L174.0 458.28 L174.5 458.23 L175.0 457.71 L175.5 457.35 L176.0 456.94 L176.5 456.73 L177.0 456.04 L177.5 455.50 L178.0 455.53 L178.5 454.76 L179.0 453.93 L179.5 453.47 L180.0 453.03 L180.5 452.49 L181.0 451.48 L181.5 451.39 L182.0 450.39 L182.5 449.77 L183.0 449.61 L183.5 448.95 L184.0 448.41 L184.5 447.73 L185.0 447.32 L185.5 446.52 L186.0 446.05 L186.5 445.97 L187.0 445.17 L187.5 445.22 L188.0 444.78 L188.5 444.05 L189.0 443.63 L189.5 443.35 L190.0 443.07 L190.5 443.08 L191.0 443.57 L191.5 443.62 L192.0 443.97 L192.5 445.00 L193.0 445.30 L193.5 446.09 L194.0 446.77 L194.5 447.29 L195.0 447.93 L195.5 448.51 L196.0 449.78 L196.5 450.37 L197.0 450.90 L197.5 451.86 L198.0 452.78 L198.5 453.68 L199.0 454.13 L199.5 455.02 L200.0 455.45 L200.5 456.12 L201.0 456.98 L201.5 457.47 L202.0 458.29 L202.5 458.81 L203.0 459.19 L203.5 459.64 L204.0 459.94 L204.5 460.19 L205.0 460.40 L205.5 460.55 L206.0 460.64 L206.5 460.69 L207.0 460.72 L207.5 460.75 L207.5 460.80 Z" fill="#b3bcd8" stroke="none"/>
<line x1="142.3" y1="300.4" x2="142.3" y2="460.7" stroke="#a4a4ac" stroke-width="0.9" stroke-opacity="0.85"/>
<line x1="145.4" y1="300.4" x2="145.4" y2="460.7" stroke="#85858e" stroke-width="1.0" stroke-opacity="0.85"/>
<line x1="147.3" y1="300.4" x2="147.3" y2="460.7" stroke="#c4c4ca" stroke-width="0.9" stroke-opacity="0.85"/>
<line x1="125.0" y1="300.4" x2="125.0" y2="460.7" stroke="#a0a0a8" stroke-width="0.9" stroke-opacity="0.8"/>
<line x1="165.0" y1="300.4" x2="165.0" y2="460.7" stroke="#a0a0a8" stroke-width="0.9" stroke-opacity="0.8"/>
<line x1="199.0" y1="300.4" x2="199.0" y2="460.7" stroke="#d2d2d8" stroke-width="0.9" stroke-opacity="0.8"/>
<line x1="227.7" y1="300.4" x2="227.7" y2="460.7" stroke="#a0a0a8" stroke-width="0.9" stroke-opacity="0.8"/>
<path d="M120.0 319.40 L142.7 319.38 L143.2 319.36 L143.7 319.31 L144.2 319.21 L144.7 319.00 L145.2 318.56 L145.7 317.69 L146.2 316.06 L146.7 313.15 L147.2 308.40 L147.7 302.40 L148.2 306.39 L148.7 310.21 L149.2 313.15 L149.7 315.26 L150.2 316.72 L150.7 317.69 L151.2 318.33 L151.7 318.74 L152.2 319.00 L152.7 319.16 L153.2 319.25 L153.7 319.31 L154.2 319.35 L154.7 319.37 L155.2 319.38 L238.0 319.40" fill="none" stroke="#963e52" stroke-width="1.20" stroke-linejoin="round"/>
<path d="M120.0 339.90 L142.8 339.88 L143.3 339.86 L143.8 339.80 L144.3 339.69 L144.8 339.45 L145.3 338.97 L145.8 338.02 L146.3 336.22 L146.8 333.02 L147.3 327.80 L147.8 321.20 L148.3 325.30 L148.8 329.31 L149.3 332.49 L149.8 334.84 L150.3 336.51 L150.8 337.67 L151.3 338.45 L151.8 338.97 L152.3 339.31 L152.8 339.53 L153.3 339.67 L153.8 339.76 L154.3 339.81 L154.8 339.85 L155.3 339.87 L155.8 339.88 L238.0 339.90" fill="none" stroke="#92b3d4" stroke-width="1.20" stroke-linejoin="round"/>
<path d="M120.0 359.70 L168.3 359.61 L168.8 359.60 L169.3 359.59 L169.8 359.57 L170.3 359.55 L170.8 359.52 L171.3 359.50 L171.8 359.47 L172.3 359.43 L172.8 359.39 L173.3 359.35 L173.8 359.30 L174.3 359.25 L174.8 359.18 L175.3 359.11 L175.8 359.04 L176.3 358.95 L176.8 358.85 L177.3 358.75 L177.8 358.63 L178.3 358.50 L178.8 358.35 L179.3 358.19 L179.8 358.02 L180.3 357.83 L180.8 357.62 L181.3 357.39 L181.8 357.14 L182.3 356.88 L182.8 356.59 L183.3 356.27 L183.8 355.94 L184.3 355.58 L184.8 355.19 L185.3 354.78 L185.8 354.35 L186.3 353.89 L186.8 353.40 L187.3 352.89 L187.8 352.36 L188.3 351.80 L188.8 351.22 L189.3 350.62 L189.8 350.00 L190.3 349.37 L190.8 348.72 L191.3 348.07 L191.8 347.41 L192.3 346.75 L192.8 346.09 L193.3 345.45 L193.8 344.81 L194.3 344.21 L194.8 343.63 L195.3 343.09 L195.8 342.59 L196.3 342.15 L196.8 341.79 L197.3 341.50 L197.8 341.33 L198.3 341.40 L198.8 341.79 L199.3 342.38 L199.8 343.12 L200.3 343.97 L200.8 344.90 L201.3 345.88 L201.8 346.90 L202.3 347.92 L202.8 348.93 L203.3 349.92 L203.8 350.88 L204.3 351.79 L204.8 352.64 L205.3 353.44 L205.8 354.19 L206.3 354.87 L206.8 355.49 L207.3 356.05 L207.8 356.55 L208.3 356.99 L208.8 357.39 L209.3 357.74 L209.8 358.04 L210.3 358.30 L210.8 358.53 L211.3 358.72 L211.8 358.89 L212.3 359.03 L212.8 359.15 L213.3 359.25 L213.8 359.33 L214.3 359.40 L214.8 359.46 L215.3 359.51 L215.8 359.55 L216.3 359.58 L216.8 359.60 L217.3 359.62 L217.8 359.64 L218.3 359.65 L218.8 359.66 L219.3 359.67 L219.8 359.68 L238.0 359.70" fill="none" stroke="#d8a86a" stroke-width="1.20" stroke-linejoin="round"/>
<path d="M120.0 380.40 L171.6 380.36 L172.1 380.35 L172.6 380.34 L173.1 380.32 L173.6 380.31 L174.1 380.29 L174.6 380.27 L175.1 380.24 L175.6 380.21 L176.1 380.18 L176.6 380.13 L177.1 380.09 L177.6 380.03 L178.1 379.96 L178.6 379.89 L179.1 379.80 L179.6 379.69 L180.1 379.58 L180.6 379.44 L181.1 379.29 L181.6 379.12 L182.1 378.92 L182.6 378.70 L183.1 378.46 L183.6 378.18 L184.1 377.87 L184.6 377.53 L185.1 377.15 L185.6 376.73 L186.1 376.27 L186.6 375.77 L187.1 375.23 L187.6 374.65 L188.1 374.02 L188.6 373.36 L189.1 372.65 L189.6 371.90 L190.1 371.12 L190.6 370.32 L191.1 369.49 L191.6 368.64 L192.1 367.80 L192.6 366.96 L193.1 366.14 L193.6 365.36 L194.1 364.65 L194.6 364.01 L195.1 363.50 L195.6 363.16 L196.1 363.21 L196.6 363.62 L197.1 364.21 L197.6 364.93 L198.1 365.74 L198.6 366.62 L199.1 367.53 L199.6 368.47 L200.1 369.40 L200.6 370.33 L201.1 371.23 L201.6 372.09 L202.1 372.91 L202.6 373.69 L203.1 374.41 L203.6 375.09 L204.1 375.71 L204.6 376.27 L205.1 376.79 L205.6 377.25 L206.1 377.67 L206.6 378.04 L207.1 378.37 L207.6 378.66 L208.1 378.92 L208.6 379.14 L209.1 379.33 L209.6 379.50 L210.1 379.64 L210.6 379.77 L211.1 379.87 L211.6 379.96 L212.1 380.04 L212.6 380.10 L213.1 380.15 L213.6 380.20 L214.1 380.24 L214.6 380.27 L215.1 380.29 L215.6 380.31 L216.1 380.33 L216.6 380.34 L217.1 380.35 L217.6 380.36 L218.1 380.37 L238.0 380.40" fill="none" stroke="#8cab78" stroke-width="1.20" stroke-linejoin="round"/>
<path d="M120.0 400.90 L166.5 400.83 L167.0 400.82 L167.5 400.81 L168.0 400.79 L168.5 400.77 L169.0 400.75 L169.5 400.73 L170.0 400.70 L170.5 400.67 L171.0 400.63 L171.5 400.59 L172.0 400.54 L172.5 400.49 L173.0 400.43 L173.5 400.36 L174.0 400.28 L174.5 400.19 L175.0 400.10 L175.5 399.99 L176.0 399.86 L176.5 399.74 L177.0 399.62 L177.5 399.38 L178.0 399.19 L178.5 399.04 L179.0 398.82 L179.5 398.66 L180.0 398.50 L180.5 398.09 L181.0 397.69 L181.5 397.63 L182.0 396.86 L182.5 396.82 L183.0 396.40 L183.5 396.08 L184.0 395.04 L184.5 394.70 L185.0 394.10 L185.5 393.71 L186.0 393.49 L186.5 392.72 L187.0 392.00 L187.5 391.60 L188.0 390.45 L188.5 390.15 L189.0 389.61 L189.5 388.55 L190.0 388.30 L190.5 387.17 L191.0 386.82 L191.5 386.15 L192.0 385.70 L192.5 385.09 L193.0 384.79 L193.5 384.47 L194.0 383.65 L194.5 383.81 L195.0 383.45 L195.5 383.98 L196.0 383.89 L196.5 384.46 L197.0 385.19 L197.5 385.96 L198.0 386.92 L198.5 387.76 L199.0 389.10 L199.5 389.88 L200.0 390.67 L200.5 392.04 L201.0 392.57 L201.5 393.51 L202.0 394.66 L202.5 395.50 L203.0 396.19 L203.5 396.91 L204.0 397.19 L204.5 398.04 L205.0 398.62 L205.5 398.98 L206.0 399.20 L206.5 399.49 L207.0 399.80 L207.5 400.02 L208.0 400.19 L208.5 400.34 L209.0 400.46 L209.5 400.56 L210.0 400.64 L210.5 400.70 L211.0 400.75 L211.5 400.78 L212.0 400.81 L212.5 400.84 L213.0 400.85 L213.5 400.86 L214.0 400.87 L214.5 400.88 L238.0 400.90" fill="none" stroke="#5e6f6b" stroke-width="1.20" stroke-linejoin="round"/>
<path d="M120.0 420.60 L162.0 420.49 L162.5 420.48 L163.0 420.46 L163.5 420.44 L164.0 420.42 L164.5 420.40 L165.0 420.37 L165.5 420.35 L166.0 420.31 L166.5 420.28 L167.0 420.24 L167.5 420.19 L168.0 420.14 L168.5 420.09 L169.0 420.03 L169.5 419.96 L170.0 419.89 L170.5 419.80 L171.0 419.71 L171.5 419.63 L172.0 419.53 L172.5 419.35 L173.0 419.29 L173.5 419.17 L174.0 418.93 L174.5 418.82 L175.0 418.51 L175.5 418.48 L176.0 418.04 L176.5 418.02 L177.0 417.66 L177.5 417.22 L178.0 417.04 L178.5 416.57 L179.0 416.36 L179.5 416.40 L180.0 415.52 L180.5 415.29 L181.0 415.03 L181.5 414.65 L182.0 413.78 L182.5 413.44 L183.0 412.70 L183.5 412.25 L184.0 411.57 L184.5 411.22 L185.0 410.53 L185.5 409.96 L186.0 409.54 L186.5 408.48 L187.0 408.21 L187.5 407.28 L188.0 406.53 L188.5 406.08 L189.0 405.76 L189.5 404.77 L190.0 404.31 L190.5 404.11 L191.0 403.77 L191.5 403.18 L192.0 403.44 L192.5 403.33 L193.0 404.25 L193.5 405.06 L194.0 406.07 L194.5 406.93 L195.0 407.83 L195.5 409.27 L196.0 410.29 L196.5 411.20 L197.0 412.36 L197.5 413.12 L198.0 414.03 L198.5 414.91 L199.0 415.50 L199.5 416.26 L200.0 417.13 L200.5 417.19 L201.0 417.96 L201.5 418.34 L202.0 418.70 L202.5 418.93 L203.0 419.22 L203.5 419.50 L204.0 419.69 L204.5 419.86 L205.0 419.99 L205.5 420.11 L206.0 420.20 L206.5 420.28 L207.0 420.35 L207.5 420.40 L208.0 420.44 L208.5 420.47 L209.0 420.50 L209.5 420.52 L210.0 420.54 L210.5 420.55 L211.0 420.56 L211.5 420.57 L212.0 420.58 L212.5 420.58 L238.0 420.60" fill="none" stroke="#a88a68" stroke-width="1.20" stroke-linejoin="round"/>
<path d="M120.0 441.20 L160.0 441.20 L160.5 440.96 L161.0 440.93 L161.5 440.90 L162.0 440.87 L162.5 440.84 L163.0 440.81 L163.5 440.77 L164.0 440.72 L164.5 440.67 L165.0 440.60 L165.5 440.52 L166.0 440.44 L166.5 440.35 L167.0 440.24 L167.5 440.13 L168.0 439.99 L168.5 439.84 L169.0 439.66 L169.5 439.47 L170.0 439.26 L170.5 439.04 L171.0 438.80 L171.5 438.55 L172.0 438.28 L172.5 438.00 L173.0 437.70 L173.5 437.39 L174.0 437.07 L174.5 436.74 L175.0 436.40 L175.5 436.05 L176.0 435.70 L176.5 435.33 L177.0 434.96 L177.5 434.58 L178.0 434.20 L178.5 433.81 L179.0 433.41 L179.5 432.99 L180.0 432.23 L180.5 431.79 L181.0 431.41 L181.5 431.63 L182.0 430.79 L182.5 430.51 L183.0 430.00 L183.5 429.92 L184.0 429.49 L184.5 428.94 L185.0 428.76 L185.5 428.19 L186.0 428.08 L186.5 427.46 L187.0 426.29 L187.5 425.84 L188.0 425.19 L188.5 424.52 L189.0 424.37 L189.5 424.24 L190.0 423.41 L190.5 423.44 L191.0 423.40 L191.5 423.58 L192.0 423.62 L192.5 424.72 L193.0 425.27 L193.5 426.51 L194.0 427.25 L194.5 428.12 L195.0 429.36 L195.5 430.50 L196.0 431.12 L196.5 431.99 L197.0 432.83 L197.5 433.64 L198.0 434.43 L198.5 435.20 L199.0 435.93 L199.5 436.61 L200.0 437.26 L200.5 437.85 L201.0 438.38 L201.5 438.85 L202.0 439.26 L202.5 439.61 L203.0 439.90 L203.5 440.14 L204.0 440.33 L204.5 440.50 L205.0 440.64 L205.5 440.75 L206.0 440.84 L206.5 440.93 L207.0 441.00 L207.5 441.06 L208.0 441.11 L208.5 441.14 L209.0 441.16 L209.5 441.17 L210.0 441.17 L210.5 441.17 L211.0 441.18 L211.5 441.18 L238.0 441.20" fill="none" stroke="#6e6279" stroke-width="1.20" stroke-linejoin="round"/>
<path d="M167.0 460.63 L167.5 460.58 L168.0 460.51 L168.5 460.42 L169.0 460.30 L169.5 460.15 L170.0 460.00 L170.5 459.83 L171.0 459.64 L171.5 459.52 L172.0 459.22 L172.5 459.14 L173.0 458.82 L173.5 458.73 L174.0 458.28 L174.5 458.23 L175.0 457.71 L175.5 457.35 L176.0 456.94 L176.5 456.73 L177.0 456.04 L177.5 455.50 L178.0 455.53 L178.5 454.76 L179.0 453.93 L179.5 453.47 L180.0 453.03 L180.5 452.49 L181.0 451.48 L181.5 451.39 L182.0 450.39 L182.5 449.77 L183.0 449.61 L183.5 448.95 L184.0 448.41 L184.5 447.73 L185.0 447.32 L185.5 446.52 L186.0 446.05 L186.5 445.97 L187.0 445.17 L187.5 445.22 L188.0 444.78 L188.5 444.05 L189.0 443.63 L189.5 443.35 L190.0 443.07 L190.5 443.08 L191.0 443.57 L191.5 443.62 L192.0 443.97 L192.5 445.00 L193.0 445.30 L193.5 446.09 L194.0 446.77 L194.5 447.29 L195.0 447.93 L195.5 448.51 L196.0 449.78 L196.5 450.37 L197.0 450.90 L197.5 451.86 L198.0 452.78 L198.5 453.68 L199.0 454.13 L199.5 455.02 L200.0 455.45 L200.5 456.12 L201.0 456.98 L201.5 457.47 L202.0 458.29 L202.5 458.81 L203.0 459.19 L203.5 459.64 L204.0 459.94 L204.5 460.19 L205.0 460.40 L205.5 460.55 L206.0 460.64" fill="none" stroke="#5e6879" stroke-width="1.20" stroke-linejoin="round"/>
<line x1="197.5" y1="340.7" x2="197.5" y2="460.7" stroke="#f2b8c0" stroke-width="3.2" opacity="0.9"/>
<line x1="197.5" y1="340.7" x2="197.5" y2="460.7" stroke="#560a14" stroke-width="2" stroke-dasharray="3.7 2.8"/>
<text x="165.7" y="313.3" font-family='"Liberation Sans", sans-serif' font-size="10.4" font-weight="normal" fill="#262626" textLength="46.7" lengthAdjust="spacingAndGlyphs">unstained</text>
<text x="165.7" y="333.2" font-family='"Liberation Sans", sans-serif' font-size="10.4" font-weight="normal" fill="#262626" textLength="49.7" lengthAdjust="spacingAndGlyphs">secondary</text>
<rect x="119.0" y="299.4" width="120.0" height="162.3" fill="none" stroke="#000" stroke-width="2"/>
<rect x="277.3" y="299.2" width="5.0" height="161.5" fill="#efeff1"/>
<path d="M278.1 318.90 L278.1 318.81 L278.6 318.71 L279.1 318.50 L279.6 318.06 L280.1 317.20 L280.6 315.58 L281.1 312.68 L281.6 307.96 L282.1 302.00 L282.6 306.26 L283.1 310.23 L283.6 313.20 L284.1 315.26 L284.6 316.62 L285.1 317.51 L285.6 318.06 L286.1 318.40 L286.6 318.61 L287.1 318.73 L287.6 318.80 L288.1 318.85 L288.1 318.90 Z" fill="#f0b4bd" stroke="none"/>
<path d="M278.0 339.20 L278.0 339.10 L278.5 338.99 L279.0 338.75 L279.5 338.27 L280.0 337.32 L280.5 335.52 L281.0 332.32 L281.5 327.10 L282.0 320.50 L282.5 324.89 L283.0 329.09 L283.5 332.32 L284.0 334.65 L284.5 336.25 L285.0 337.32 L285.5 338.02 L286.0 338.47 L286.5 338.75 L287.0 338.93 L287.5 339.04 L288.0 339.10 L288.5 339.14 L288.5 339.20 Z" fill="#cde1f5" stroke="none"/>
<path d="M292.8 359.30 L292.8 359.23 L293.3 359.20 L293.8 359.16 L294.3 359.10 L294.8 359.02 L295.3 358.92 L295.8 358.78 L296.3 358.61 L296.8 358.39 L297.3 358.11 L297.8 357.78 L298.3 357.37 L298.8 356.89 L299.3 356.34 L299.8 355.70 L300.3 354.98 L300.8 354.18 L301.3 353.31 L301.8 352.38 L302.3 351.40 L302.8 350.39 L303.3 349.37 L303.8 348.35 L304.3 347.35 L304.8 346.41 L305.3 345.53 L305.8 344.74 L306.3 344.05 L306.8 343.47 L307.3 343.01 L307.8 342.67 L308.3 342.45 L308.8 342.33 L309.3 342.30 L309.8 342.30 L310.3 342.33 L310.8 342.40 L311.3 342.53 L311.8 342.73 L312.3 343.03 L312.8 343.44 L313.3 343.95 L313.8 344.58 L314.3 345.33 L314.8 346.18 L315.3 347.13 L315.8 348.16 L316.3 349.24 L316.8 350.35 L317.3 351.47 L317.8 352.56 L318.3 353.60 L318.8 354.57 L319.3 355.46 L319.8 356.24 L320.3 356.92 L320.8 357.48 L321.3 357.95 L321.8 358.32 L322.3 358.61 L322.8 358.82 L323.3 358.98 L323.8 359.09 L324.3 359.17 L324.8 359.22 L324.8 359.30 Z" fill="#f9d9aa" stroke="none"/>
<path d="M290.9 378.80 L290.9 378.75 L291.4 378.73 L291.9 378.71 L292.4 378.68 L292.9 378.64 L293.4 378.59 L293.9 378.52 L294.4 378.45 L294.9 378.35 L295.4 378.22 L295.9 378.07 L296.4 377.89 L296.9 377.67 L297.4 377.41 L297.9 377.09 L298.4 376.73 L298.9 376.30 L299.4 375.80 L299.9 375.24 L300.4 374.60 L300.9 373.89 L301.4 373.10 L301.9 372.23 L302.4 371.30 L302.9 370.31 L303.4 369.27 L303.9 368.19 L304.4 367.10 L304.9 366.01 L305.4 364.95 L305.9 363.95 L306.4 363.04 L306.9 362.25 L307.4 361.62 L307.9 361.18 L308.4 361.00 L308.9 361.05 L309.4 361.23 L309.9 361.55 L310.4 362.01 L310.9 362.62 L311.4 363.36 L311.9 364.21 L312.4 365.16 L312.9 366.19 L313.4 367.26 L313.9 368.36 L314.4 369.46 L314.9 370.54 L315.4 371.59 L315.9 372.57 L316.4 373.48 L316.9 374.32 L317.4 375.07 L317.9 375.73 L318.4 376.31 L318.9 376.80 L319.4 377.22 L319.9 377.56 L320.4 377.85 L320.9 378.07 L321.4 378.25 L321.9 378.40 L322.4 378.50 L322.9 378.59 L323.4 378.65 L323.9 378.69 L324.4 378.73 L324.9 378.75 L324.9 378.80 Z" fill="#d2e4bf" stroke="none"/>
<path d="M280.5 400.10 L280.5 400.04 L281.0 399.99 L281.5 399.94 L282.0 399.88 L282.5 399.83 L283.0 399.77 L283.5 399.71 L284.0 399.64 L284.5 399.57 L285.0 399.48 L285.5 399.39 L286.0 399.29 L286.5 399.20 L287.0 399.10 L287.5 398.98 L288.0 398.93 L288.5 398.85 L289.0 398.75 L289.5 398.60 L290.0 398.60 L290.5 398.42 L291.0 398.36 L291.5 398.39 L292.0 398.25 L292.5 398.24 L293.0 398.23 L293.5 398.10 L294.0 398.29 L294.5 398.29 L295.0 398.04 L295.5 398.10 L296.0 398.05 L296.5 397.87 L297.0 397.65 L297.5 397.15 L298.0 397.11 L298.5 396.69 L299.0 395.93 L299.5 395.29 L300.0 394.26 L300.5 393.34 L301.0 392.47 L301.5 391.30 L302.0 389.62 L302.5 388.27 L303.0 387.68 L303.5 386.18 L304.0 385.07 L304.5 384.28 L305.0 383.77 L305.5 382.79 L306.0 382.30 L306.5 382.21 L307.0 381.68 L307.5 381.85 L308.0 382.12 L308.5 382.27 L309.0 382.70 L309.5 383.12 L310.0 383.47 L310.5 383.94 L311.0 384.55 L311.5 385.35 L312.0 386.28 L312.5 387.41 L313.0 388.76 L313.5 389.90 L314.0 390.66 L314.5 391.66 L315.0 392.50 L315.5 393.77 L316.0 394.59 L316.5 394.99 L317.0 395.95 L317.5 396.60 L318.0 397.46 L318.5 397.87 L319.0 398.23 L319.5 398.71 L320.0 399.06 L320.5 399.39 L321.0 399.64 L321.5 399.80 L322.0 399.90 L322.5 399.95 L323.0 399.99 L323.5 400.03 L323.5 400.10 Z" fill="#b3c4bc" stroke="none"/>
<path d="M280.5 419.60 L280.5 419.52 L281.0 419.44 L281.5 419.36 L282.0 419.28 L282.5 419.20 L283.0 419.12 L283.5 419.04 L284.0 418.96 L284.5 418.88 L285.0 418.79 L285.5 418.70 L286.0 418.60 L286.5 418.45 L287.0 418.35 L287.5 418.19 L288.0 418.13 L288.5 417.92 L289.0 417.69 L289.5 417.60 L290.0 417.33 L290.5 417.18 L291.0 417.20 L291.5 417.20 L292.0 416.82 L292.5 416.97 L293.0 416.95 L293.5 416.58 L294.0 416.45 L294.5 416.36 L295.0 416.18 L295.5 416.43 L296.0 416.39 L296.5 416.24 L297.0 415.57 L297.5 415.83 L298.0 415.45 L298.5 415.06 L299.0 414.45 L299.5 413.80 L300.0 412.89 L300.5 412.18 L301.0 411.17 L301.5 409.85 L302.0 409.40 L302.5 408.13 L303.0 407.28 L303.5 406.51 L304.0 405.72 L304.5 404.94 L305.0 404.50 L305.5 404.26 L306.0 403.86 L306.5 403.71 L307.0 403.56 L307.5 403.34 L308.0 403.98 L308.5 404.69 L309.0 405.11 L309.5 405.85 L310.0 407.24 L310.5 408.33 L311.0 409.86 L311.5 410.80 L312.0 411.19 L312.5 412.19 L313.0 412.62 L313.5 413.17 L314.0 413.89 L314.5 414.57 L315.0 415.15 L315.5 415.13 L316.0 415.83 L316.5 416.28 L317.0 417.03 L317.5 417.43 L318.0 417.95 L318.5 418.42 L319.0 418.76 L319.5 419.00 L320.0 419.17 L320.5 419.30 L321.0 419.40 L321.5 419.48 L322.0 419.53 L322.0 419.60 Z" fill="#e9cdaa" stroke="none"/>
<path d="M281.5 440.60 L281.5 440.51 L282.0 440.44 L282.5 440.37 L283.0 440.31 L283.5 440.23 L284.0 440.14 L284.5 440.03 L285.0 439.90 L285.5 439.73 L286.0 439.51 L286.5 439.25 L287.0 439.05 L287.5 438.71 L288.0 438.36 L288.5 438.06 L289.0 438.05 L289.5 437.64 L290.0 437.44 L290.5 437.31 L291.0 436.89 L291.5 436.96 L292.0 436.85 L292.5 436.38 L293.0 436.39 L293.5 436.39 L294.0 436.17 L294.5 435.81 L295.0 435.80 L295.5 435.19 L296.0 434.82 L296.5 434.69 L297.0 434.08 L297.5 433.63 L298.0 433.38 L298.5 432.76 L299.0 432.45 L299.5 431.66 L300.0 430.13 L300.5 429.48 L301.0 428.44 L301.5 426.99 L302.0 426.15 L302.5 425.71 L303.0 424.87 L303.5 424.28 L304.0 423.74 L304.5 423.44 L305.0 422.74 L305.5 422.60 L306.0 422.46 L306.5 422.72 L307.0 423.13 L307.5 423.71 L308.0 423.88 L308.5 424.77 L309.0 425.85 L309.5 427.13 L310.0 428.09 L310.5 428.96 L311.0 429.65 L311.5 430.61 L312.0 431.26 L312.5 432.07 L313.0 432.83 L313.5 433.28 L314.0 434.09 L314.5 434.75 L315.0 435.47 L315.5 436.00 L316.0 436.47 L316.5 437.33 L317.0 437.97 L317.5 438.32 L318.0 438.82 L318.5 439.19 L319.0 439.60 L319.5 439.85 L320.0 440.05 L320.5 440.20 L321.0 440.31 L321.5 440.40 L322.0 440.50 L322.0 440.60 Z" fill="#c4b2d3" stroke="none"/>
<path d="M285.0 460.60 L285.0 460.54 L285.5 460.52 L286.0 460.49 L286.5 460.43 L287.0 460.33 L287.5 460.16 L288.0 459.93 L288.5 459.65 L289.0 459.33 L289.5 458.95 L290.0 458.58 L290.5 458.22 L291.0 458.07 L291.5 457.57 L292.0 457.55 L292.5 457.41 L293.0 457.35 L293.5 456.97 L294.0 457.02 L294.5 456.79 L295.0 456.41 L295.5 456.12 L296.0 455.90 L296.5 456.03 L297.0 455.72 L297.5 455.19 L298.0 454.49 L298.5 453.73 L299.0 453.11 L299.5 452.34 L300.0 451.78 L300.5 450.90 L301.0 450.20 L301.5 449.28 L302.0 448.48 L302.5 447.42 L303.0 446.51 L303.5 445.72 L304.0 445.16 L304.5 444.59 L305.0 444.22 L305.5 443.54 L306.0 443.55 L306.5 443.58 L307.0 443.95 L307.5 444.86 L308.0 445.63 L308.5 446.32 L309.0 446.86 L309.5 447.88 L310.0 448.99 L310.5 449.52 L311.0 450.45 L311.5 450.78 L312.0 451.87 L312.5 452.08 L313.0 452.53 L313.5 453.46 L314.0 454.03 L314.5 454.85 L315.0 455.40 L315.5 456.09 L316.0 456.72 L316.5 457.48 L317.0 457.99 L317.5 458.63 L318.0 459.09 L318.5 459.61 L319.0 460.00 L319.5 460.23 L320.0 460.36 L320.5 460.46 L320.5 460.60 Z" fill="#b3bcd8" stroke="none"/>
<line x1="277.3" y1="299.2" x2="277.3" y2="460.7" stroke="#a4a4ac" stroke-width="0.9" stroke-opacity="0.85"/>
<line x1="279.2" y1="299.2" x2="279.2" y2="460.7" stroke="#85858e" stroke-width="1.0" stroke-opacity="0.85"/>
<line x1="282.3" y1="299.2" x2="282.3" y2="460.7" stroke="#a4a4ac" stroke-width="0.9" stroke-opacity="0.85"/>
<line x1="259.5" y1="299.2" x2="259.5" y2="460.7" stroke="#a0a0a8" stroke-width="0.9" stroke-opacity="0.8"/>
<line x1="299.2" y1="299.2" x2="299.2" y2="460.7" stroke="#a0a0a8" stroke-width="0.9" stroke-opacity="0.8"/>
<line x1="334.1" y1="299.2" x2="334.1" y2="460.7" stroke="#d2d2d8" stroke-width="0.9" stroke-opacity="0.8"/>
<line x1="363.0" y1="299.2" x2="363.0" y2="460.7" stroke="#a0a0a8" stroke-width="0.9" stroke-opacity="0.8"/>
<path d="M254.0 318.90 L277.1 318.88 L277.6 318.86 L278.1 318.81 L278.6 318.71 L279.1 318.50 L279.6 318.06 L280.1 317.20 L280.6 315.58 L281.1 312.68 L281.6 307.96 L282.1 302.00 L282.6 306.26 L283.1 310.23 L283.6 313.20 L284.1 315.26 L284.6 316.62 L285.1 317.51 L285.6 318.06 L286.1 318.40 L286.6 318.61 L287.1 318.73 L287.6 318.80 L288.1 318.85 L288.6 318.87 L289.1 318.88 L373.6 318.90" fill="none" stroke="#963e52" stroke-width="1.20" stroke-linejoin="round"/>
<path d="M254.0 339.20 L277.0 339.18 L277.5 339.16 L278.0 339.10 L278.5 338.99 L279.0 338.75 L279.5 338.27 L280.0 337.32 L280.5 335.52 L281.0 332.32 L281.5 327.10 L282.0 320.50 L282.5 324.89 L283.0 329.09 L283.5 332.32 L284.0 334.65 L284.5 336.25 L285.0 337.32 L285.5 338.02 L286.0 338.47 L286.5 338.75 L287.0 338.93 L287.5 339.04 L288.0 339.10 L288.5 339.14 L289.0 339.17 L289.5 339.18 L373.6 339.20" fill="none" stroke="#92b3d4" stroke-width="1.20" stroke-linejoin="round"/>
<path d="M254.0 359.30 L291.3 359.28 L291.8 359.27 L292.3 359.26 L292.8 359.23 L293.3 359.20 L293.8 359.16 L294.3 359.10 L294.8 359.02 L295.3 358.92 L295.8 358.78 L296.3 358.61 L296.8 358.39 L297.3 358.11 L297.8 357.78 L298.3 357.37 L298.8 356.89 L299.3 356.34 L299.8 355.70 L300.3 354.98 L300.8 354.18 L301.3 353.31 L301.8 352.38 L302.3 351.40 L302.8 350.39 L303.3 349.37 L303.8 348.35 L304.3 347.35 L304.8 346.41 L305.3 345.53 L305.8 344.74 L306.3 344.05 L306.8 343.47 L307.3 343.01 L307.8 342.67 L308.3 342.45 L308.8 342.33 L309.3 342.30 L309.8 342.30 L310.3 342.33 L310.8 342.40 L311.3 342.53 L311.8 342.73 L312.3 343.03 L312.8 343.44 L313.3 343.95 L313.8 344.58 L314.3 345.33 L314.8 346.18 L315.3 347.13 L315.8 348.16 L316.3 349.24 L316.8 350.35 L317.3 351.47 L317.8 352.56 L318.3 353.60 L318.8 354.57 L319.3 355.46 L319.8 356.24 L320.3 356.92 L320.8 357.48 L321.3 357.95 L321.8 358.32 L322.3 358.61 L322.8 358.82 L323.3 358.98 L323.8 359.09 L324.3 359.17 L324.8 359.22 L325.3 359.25 L325.8 359.27 L326.3 359.28 L373.6 359.30" fill="none" stroke="#d8a86a" stroke-width="1.20" stroke-linejoin="round"/>
<path d="M254.0 378.80 L288.9 378.78 L289.4 378.78 L289.9 378.77 L290.4 378.76 L290.9 378.75 L291.4 378.73 L291.9 378.71 L292.4 378.68 L292.9 378.64 L293.4 378.59 L293.9 378.52 L294.4 378.45 L294.9 378.35 L295.4 378.22 L295.9 378.07 L296.4 377.89 L296.9 377.67 L297.4 377.41 L297.9 377.09 L298.4 376.73 L298.9 376.30 L299.4 375.80 L299.9 375.24 L300.4 374.60 L300.9 373.89 L301.4 373.10 L301.9 372.23 L302.4 371.30 L302.9 370.31 L303.4 369.27 L303.9 368.19 L304.4 367.10 L304.9 366.01 L305.4 364.95 L305.9 363.95 L306.4 363.04 L306.9 362.25 L307.4 361.62 L307.9 361.18 L308.4 361.00 L308.9 361.05 L309.4 361.23 L309.9 361.55 L310.4 362.01 L310.9 362.62 L311.4 363.36 L311.9 364.21 L312.4 365.16 L312.9 366.19 L313.4 367.26 L313.9 368.36 L314.4 369.46 L314.9 370.54 L315.4 371.59 L315.9 372.57 L316.4 373.48 L316.9 374.32 L317.4 375.07 L317.9 375.73 L318.4 376.31 L318.9 376.80 L319.4 377.22 L319.9 377.56 L320.4 377.85 L320.9 378.07 L321.4 378.25 L321.9 378.40 L322.4 378.50 L322.9 378.59 L323.4 378.65 L323.9 378.69 L324.4 378.73 L324.9 378.75 L325.4 378.77 L325.9 378.78 L326.4 378.79 L373.6 378.80" fill="none" stroke="#8cab78" stroke-width="1.20" stroke-linejoin="round"/>
<path d="M254.0 400.10 L280.0 400.10 L280.5 400.04 L281.0 399.99 L281.5 399.94 L282.0 399.88 L282.5 399.83 L283.0 399.77 L283.5 399.71 L284.0 399.64 L284.5 399.57 L285.0 399.48 L285.5 399.39 L286.0 399.29 L286.5 399.20 L287.0 399.10 L287.5 398.98 L288.0 398.93 L288.5 398.85 L289.0 398.75 L289.5 398.60 L290.0 398.60 L290.5 398.42 L291.0 398.36 L291.5 398.39 L292.0 398.25 L292.5 398.24 L293.0 398.23 L293.5 398.10 L294.0 398.29 L294.5 398.29 L295.0 398.04 L295.5 398.10 L296.0 398.05 L296.5 397.87 L297.0 397.65 L297.5 397.15 L298.0 397.11 L298.5 396.69 L299.0 395.93 L299.5 395.29 L300.0 394.26 L300.5 393.34 L301.0 392.47 L301.5 391.30 L302.0 389.62 L302.5 388.27 L303.0 387.68 L303.5 386.18 L304.0 385.07 L304.5 384.28 L305.0 383.77 L305.5 382.79 L306.0 382.30 L306.5 382.21 L307.0 381.68 L307.5 381.85 L308.0 382.12 L308.5 382.27 L309.0 382.70 L309.5 383.12 L310.0 383.47 L310.5 383.94 L311.0 384.55 L311.5 385.35 L312.0 386.28 L312.5 387.41 L313.0 388.76 L313.5 389.90 L314.0 390.66 L314.5 391.66 L315.0 392.50 L315.5 393.77 L316.0 394.59 L316.5 394.99 L317.0 395.95 L317.5 396.60 L318.0 397.46 L318.5 397.87 L319.0 398.23 L319.5 398.71 L320.0 399.06 L320.5 399.39 L321.0 399.64 L321.5 399.80 L322.0 399.90 L322.5 399.95 L323.0 399.99 L323.5 400.03 L324.0 400.10 L373.6 400.10" fill="none" stroke="#5e6f6b" stroke-width="1.20" stroke-linejoin="round"/>
<path d="M254.0 419.60 L280.0 419.60 L280.5 419.52 L281.0 419.44 L281.5 419.36 L282.0 419.28 L282.5 419.20 L283.0 419.12 L283.5 419.04 L284.0 418.96 L284.5 418.88 L285.0 418.79 L285.5 418.70 L286.0 418.60 L286.5 418.45 L287.0 418.35 L287.5 418.19 L288.0 418.13 L288.5 417.92 L289.0 417.69 L289.5 417.60 L290.0 417.33 L290.5 417.18 L291.0 417.20 L291.5 417.20 L292.0 416.82 L292.5 416.97 L293.0 416.95 L293.5 416.58 L294.0 416.45 L294.5 416.36 L295.0 416.18 L295.5 416.43 L296.0 416.39 L296.5 416.24 L297.0 415.57 L297.5 415.83 L298.0 415.45 L298.5 415.06 L299.0 414.45 L299.5 413.80 L300.0 412.89 L300.5 412.18 L301.0 411.17 L301.5 409.85 L302.0 409.40 L302.5 408.13 L303.0 407.28 L303.5 406.51 L304.0 405.72 L304.5 404.94 L305.0 404.50 L305.5 404.26 L306.0 403.86 L306.5 403.71 L307.0 403.56 L307.5 403.34 L308.0 403.98 L308.5 404.69 L309.0 405.11 L309.5 405.85 L310.0 407.24 L310.5 408.33 L311.0 409.86 L311.5 410.80 L312.0 411.19 L312.5 412.19 L313.0 412.62 L313.5 413.17 L314.0 413.89 L314.5 414.57 L315.0 415.15 L315.5 415.13 L316.0 415.83 L316.5 416.28 L317.0 417.03 L317.5 417.43 L318.0 417.95 L318.5 418.42 L319.0 418.76 L319.5 419.00 L320.0 419.17 L320.5 419.30 L321.0 419.40 L321.5 419.48 L322.0 419.53 L322.5 419.55 L323.0 419.56 L323.5 419.58 L324.0 419.60 L373.6 419.60" fill="none" stroke="#a88a68" stroke-width="1.20" stroke-linejoin="round"/>
<path d="M254.0 440.60 L281.0 440.60 L281.5 440.51 L282.0 440.44 L282.5 440.37 L283.0 440.31 L283.5 440.23 L284.0 440.14 L284.5 440.03 L285.0 439.90 L285.5 439.73 L286.0 439.51 L286.5 439.25 L287.0 439.05 L287.5 438.71 L288.0 438.36 L288.5 438.06 L289.0 438.05 L289.5 437.64 L290.0 437.44 L290.5 437.31 L291.0 436.89 L291.5 436.96 L292.0 436.85 L292.5 436.38 L293.0 436.39 L293.5 436.39 L294.0 436.17 L294.5 435.81 L295.0 435.80 L295.5 435.19 L296.0 434.82 L296.5 434.69 L297.0 434.08 L297.5 433.63 L298.0 433.38 L298.5 432.76 L299.0 432.45 L299.5 431.66 L300.0 430.13 L300.5 429.48 L301.0 428.44 L301.5 426.99 L302.0 426.15 L302.5 425.71 L303.0 424.87 L303.5 424.28 L304.0 423.74 L304.5 423.44 L305.0 422.74 L305.5 422.60 L306.0 422.46 L306.5 422.72 L307.0 423.13 L307.5 423.71 L308.0 423.88 L308.5 424.77 L309.0 425.85 L309.5 427.13 L310.0 428.09 L310.5 428.96 L311.0 429.65 L311.5 430.61 L312.0 431.26 L312.5 432.07 L313.0 432.83 L313.5 433.28 L314.0 434.09 L314.5 434.75 L315.0 435.47 L315.5 436.00 L316.0 436.47 L316.5 437.33 L317.0 437.97 L317.5 438.32 L318.0 438.82 L318.5 439.19 L319.0 439.60 L319.5 439.85 L320.0 440.05 L320.5 440.20 L321.0 440.31 L321.5 440.40 L322.0 440.50 L322.5 440.58 L323.0 440.60 L373.6 440.60" fill="none" stroke="#6e6279" stroke-width="1.20" stroke-linejoin="round"/>
<path d="M286.5 460.43 L287.0 460.33 L287.5 460.16 L288.0 459.93 L288.5 459.65 L289.0 459.33 L289.5 458.95 L290.0 458.58 L290.5 458.22 L291.0 458.07 L291.5 457.57 L292.0 457.55 L292.5 457.41 L293.0 457.35 L293.5 456.97 L294.0 457.02 L294.5 456.79 L295.0 456.41 L295.5 456.12 L296.0 455.90 L296.5 456.03 L297.0 455.72 L297.5 455.19 L298.0 454.49 L298.5 453.73 L299.0 453.11 L299.5 452.34 L300.0 451.78 L300.5 450.90 L301.0 450.20 L301.5 449.28 L302.0 448.48 L302.5 447.42 L303.0 446.51 L303.5 445.72 L304.0 445.16 L304.5 444.59 L305.0 444.22 L305.5 443.54 L306.0 443.55 L306.5 443.58 L307.0 443.95 L307.5 444.86 L308.0 445.63 L308.5 446.32 L309.0 446.86 L309.5 447.88 L310.0 448.99 L310.5 449.52 L311.0 450.45 L311.5 450.78 L312.0 451.87 L312.5 452.08 L313.0 452.53 L313.5 453.46 L314.0 454.03 L314.5 454.85 L315.0 455.40 L315.5 456.09 L316.0 456.72 L316.5 457.48 L317.0 457.99 L317.5 458.63 L318.0 459.09 L318.5 459.61 L319.0 460.00 L319.5 460.23 L320.0 460.36" fill="none" stroke="#5e6879" stroke-width="1.20" stroke-linejoin="round"/>
<line x1="310.5" y1="340.0" x2="310.5" y2="460.7" stroke="#f2b8c0" stroke-width="3.2" opacity="0.9"/>
<line x1="310.5" y1="340.0" x2="310.5" y2="460.7" stroke="#560a14" stroke-width="2" stroke-dasharray="3.7 2.8"/>
<text x="295.8" y="313.6" font-family='"Liberation Sans", sans-serif' font-size="10.4" font-weight="normal" fill="#262626" textLength="46.7" lengthAdjust="spacingAndGlyphs">unstained</text>
<text x="295.8" y="333.5" font-family='"Liberation Sans", sans-serif' font-size="10.4" font-weight="normal" fill="#262626" textLength="50.1" lengthAdjust="spacingAndGlyphs">secondary</text>
<rect x="253.0" y="298.2" width="121.6" height="163.5" fill="none" stroke="#000" stroke-width="2"/>
<rect x="413.0" y="301.1" width="4.7" height="159.8" fill="#efeff1"/>
<path d="M414.9 320.30 L414.9 320.24 L415.4 320.20 L415.9 320.13 L416.4 320.00 L416.9 319.80 L417.4 319.48 L417.9 318.99 L418.4 318.24 L418.9 317.15 L419.4 315.61 L419.9 313.53 L420.4 310.87 L420.9 307.70 L421.4 304.36 L421.9 301.90 L422.4 303.64 L422.9 306.15 L423.4 308.72 L423.9 311.09 L424.4 313.16 L424.9 314.88 L425.4 316.26 L425.9 317.34 L426.4 318.17 L426.9 318.79 L427.4 319.24 L427.9 319.57 L428.4 319.80 L428.9 319.96 L429.4 320.08 L429.9 320.15 L430.4 320.20 L430.9 320.24 L430.9 320.30 Z" fill="#f0b4bd" stroke="none"/>
<path d="M415.2 340.50 L415.2 340.44 L415.7 340.40 L416.2 340.32 L416.7 340.20 L417.2 340.00 L417.7 339.68 L418.2 339.18 L418.7 338.43 L419.2 337.33 L419.7 335.78 L420.2 333.69 L420.7 331.02 L421.2 327.84 L421.7 324.47 L422.2 322.00 L422.7 323.59 L423.2 325.90 L423.7 328.31 L424.2 330.59 L424.7 332.62 L425.2 334.35 L425.7 335.78 L426.2 336.94 L426.7 337.85 L427.2 338.55 L427.7 339.09 L428.2 339.49 L428.7 339.78 L429.2 340.00 L429.7 340.15 L430.2 340.26 L430.7 340.34 L431.2 340.39 L431.7 340.43 L431.7 340.50 Z" fill="#cde1f5" stroke="none"/>
<path d="M431.5 360.60 L431.5 360.53 L432.0 360.51 L432.5 360.48 L433.0 360.45 L433.5 360.42 L434.0 360.38 L434.5 360.33 L435.0 360.27 L435.5 360.20 L436.0 360.12 L436.5 360.04 L437.0 359.97 L437.5 359.88 L438.0 359.79 L438.5 359.70 L439.0 359.61 L439.5 359.40 L440.0 359.29 L440.5 359.09 L441.0 358.93 L441.5 358.77 L442.0 358.41 L442.5 358.24 L443.0 357.87 L443.5 357.68 L444.0 357.28 L444.5 357.31 L445.0 357.30 L445.5 357.03 L446.0 356.15 L446.5 356.38 L447.0 355.54 L447.5 355.22 L448.0 355.40 L448.5 354.27 L449.0 354.57 L449.5 353.26 L450.0 352.77 L450.5 352.85 L451.0 351.78 L451.5 351.20 L452.0 351.23 L452.5 350.10 L453.0 350.07 L453.5 348.72 L454.0 348.39 L454.5 347.51 L455.0 347.83 L455.5 346.94 L456.0 346.03 L456.5 345.46 L457.0 345.35 L457.5 344.16 L458.0 343.80 L458.5 343.99 L459.0 343.84 L459.5 343.06 L460.0 343.11 L460.5 342.70 L461.0 342.76 L461.5 342.81 L462.0 343.19 L462.5 343.17 L463.0 343.00 L463.5 342.93 L464.0 343.48 L464.5 343.44 L465.0 343.94 L465.5 343.91 L466.0 344.49 L466.5 345.21 L467.0 345.80 L467.5 346.30 L468.0 346.75 L468.5 346.35 L469.0 346.73 L469.5 347.22 L470.0 348.21 L470.5 348.00 L471.0 348.87 L471.5 348.45 L472.0 349.01 L472.5 349.24 L473.0 349.71 L473.5 350.22 L474.0 350.12 L474.5 350.33 L475.0 351.37 L475.5 351.50 L476.0 351.54 L476.5 351.92 L477.0 352.53 L477.5 352.83 L478.0 352.66 L478.5 353.70 L479.0 354.11 L479.5 353.99 L480.0 354.75 L480.5 354.47 L481.0 355.38 L481.5 355.12 L482.0 355.99 L482.5 355.81 L483.0 356.25 L483.5 356.57 L484.0 357.35 L484.5 357.64 L485.0 357.98 L485.5 358.11 L486.0 358.08 L486.5 358.61 L487.0 358.75 L487.5 358.84 L488.0 359.16 L488.5 359.29 L489.0 359.47 L489.5 359.58 L490.0 359.73 L490.5 359.84 L491.0 359.93 L491.5 360.02 L492.0 360.09 L492.5 360.15 L493.0 360.20 L493.5 360.25 L494.0 360.30 L494.5 360.36 L495.0 360.41 L495.5 360.46 L496.0 360.49 L496.5 360.52 L497.0 360.54 L497.0 360.60 Z" fill="#f9d9aa" stroke="none"/>
<path d="M433.5 380.80 L433.5 380.75 L434.0 380.73 L434.5 380.72 L435.0 380.69 L435.5 380.66 L436.0 380.61 L436.5 380.54 L437.0 380.44 L437.5 380.36 L438.0 380.27 L438.5 380.19 L439.0 380.11 L439.5 380.03 L440.0 379.95 L440.5 379.88 L441.0 379.78 L441.5 379.69 L442.0 379.51 L442.5 379.38 L443.0 379.18 L443.5 379.24 L444.0 378.97 L444.5 378.95 L445.0 378.68 L445.5 378.30 L446.0 378.33 L446.5 377.93 L447.0 377.20 L447.5 376.89 L448.0 376.79 L448.5 375.98 L449.0 375.29 L449.5 375.60 L450.0 374.31 L450.5 373.91 L451.0 373.76 L451.5 373.40 L452.0 372.03 L452.5 372.05 L453.0 371.67 L453.5 371.03 L454.0 369.64 L454.5 369.25 L455.0 368.42 L455.5 367.90 L456.0 367.51 L456.5 366.53 L457.0 366.62 L457.5 365.96 L458.0 365.24 L458.5 365.03 L459.0 364.41 L459.5 364.36 L460.0 363.95 L460.5 364.36 L461.0 363.99 L461.5 363.79 L462.0 363.91 L462.5 363.73 L463.0 363.89 L463.5 363.80 L464.0 363.63 L464.5 364.25 L465.0 364.68 L465.5 365.30 L466.0 365.66 L466.5 365.34 L467.0 365.97 L467.5 366.34 L468.0 367.10 L468.5 366.87 L469.0 367.75 L469.5 367.85 L470.0 367.54 L470.5 368.20 L471.0 368.58 L471.5 368.75 L472.0 368.89 L472.5 369.25 L473.0 370.10 L473.5 370.60 L474.0 370.62 L474.5 370.98 L475.0 371.35 L475.5 370.95 L476.0 371.35 L476.5 372.25 L477.0 372.25 L477.5 372.86 L478.0 372.69 L478.5 373.49 L479.0 374.03 L479.5 374.39 L480.0 374.41 L480.5 375.03 L481.0 375.02 L481.5 375.01 L482.0 375.80 L482.5 376.26 L483.0 375.76 L483.5 376.51 L484.0 377.19 L484.5 377.48 L485.0 377.64 L485.5 377.42 L486.0 377.54 L486.5 378.04 L487.0 378.46 L487.5 378.47 L488.0 378.37 L488.5 378.78 L489.0 378.80 L489.5 379.03 L490.0 379.40 L490.5 379.38 L491.0 379.52 L491.5 379.67 L492.0 379.80 L492.5 379.88 L493.0 379.98 L493.5 380.07 L494.0 380.16 L494.5 380.24 L495.0 380.32 L495.5 380.39 L496.0 380.47 L496.5 380.54 L497.0 380.60 L497.5 380.64 L498.0 380.68 L498.5 380.70 L499.0 380.72 L499.5 380.74 L499.5 380.80 Z" fill="#d2e4bf" stroke="none"/>
<path d="M433.6 401.10 L433.6 401.04 L434.1 401.02 L434.6 401.00 L435.1 400.97 L435.6 400.94 L436.1 400.89 L436.6 400.83 L437.1 400.75 L437.6 400.68 L438.1 400.61 L438.6 400.55 L439.1 400.47 L439.6 400.39 L440.1 400.30 L440.6 400.18 L441.1 400.09 L441.6 399.91 L442.1 399.68 L442.6 399.42 L443.1 399.27 L443.6 399.00 L444.1 398.98 L444.6 398.48 L445.1 398.22 L445.6 397.52 L446.1 397.43 L446.6 396.88 L447.1 396.84 L447.6 396.72 L448.1 395.67 L448.6 395.30 L449.1 395.34 L449.6 395.20 L450.1 394.35 L450.6 393.89 L451.1 393.12 L451.6 392.78 L452.1 392.33 L452.6 391.71 L453.1 391.35 L453.6 391.12 L454.1 390.55 L454.6 389.11 L455.1 388.67 L455.6 388.68 L456.1 387.53 L456.6 387.32 L457.1 387.17 L457.6 385.87 L458.1 385.63 L458.6 384.83 L459.1 384.69 L459.6 384.91 L460.1 384.05 L460.6 383.60 L461.1 383.25 L461.6 383.66 L462.1 383.38 L462.6 383.22 L463.1 383.87 L463.6 383.40 L464.1 383.74 L464.6 384.79 L465.1 384.60 L465.6 385.16 L466.1 385.70 L466.6 385.67 L467.1 385.73 L467.6 386.59 L468.1 387.47 L468.6 387.53 L469.1 387.66 L469.6 387.88 L470.1 388.51 L470.6 389.57 L471.1 389.02 L471.6 389.77 L472.1 390.67 L472.6 391.01 L473.1 391.42 L473.6 391.22 L474.1 392.10 L474.6 391.82 L475.1 392.88 L475.6 392.82 L476.1 393.27 L476.6 394.03 L477.1 394.43 L477.6 393.88 L478.1 394.17 L478.6 395.38 L479.1 395.13 L479.6 395.22 L480.1 395.66 L480.6 396.02 L481.1 396.90 L481.6 396.84 L482.1 397.38 L482.6 397.30 L483.1 397.82 L483.6 398.02 L484.1 398.31 L484.6 398.83 L485.1 398.91 L485.6 399.37 L486.1 399.52 L486.6 399.54 L487.1 399.84 L487.6 399.98 L488.1 400.16 L488.6 400.32 L489.1 400.47 L489.6 400.61 L490.1 400.71 L490.6 400.79 L491.1 400.85 L491.6 400.91 L492.1 400.95 L492.6 401.00 L493.1 401.05 L493.1 401.10 Z" fill="#b3c4bc" stroke="none"/>
<path d="M433.6 421.70 L433.6 421.65 L434.1 421.63 L434.6 421.61 L435.1 421.59 L435.6 421.55 L436.1 421.50 L436.6 421.43 L437.1 421.35 L437.6 421.26 L438.1 421.18 L438.6 421.10 L439.1 421.02 L439.6 420.93 L440.1 420.84 L440.6 420.73 L441.1 420.59 L441.6 420.54 L442.1 420.41 L442.6 420.31 L443.1 420.14 L443.6 420.00 L444.1 419.76 L444.6 419.35 L445.1 418.79 L445.6 418.65 L446.1 418.56 L446.6 418.21 L447.1 417.57 L447.6 417.55 L448.1 417.40 L448.6 416.22 L449.1 416.02 L449.6 416.09 L450.1 415.67 L450.6 415.17 L451.1 413.81 L451.6 414.14 L452.1 413.09 L452.6 412.20 L453.1 412.57 L453.6 411.66 L454.1 411.00 L454.6 409.98 L455.1 410.14 L455.6 409.49 L456.1 408.86 L456.6 408.38 L457.1 407.08 L457.6 406.27 L458.1 406.02 L458.6 405.86 L459.1 404.70 L459.6 404.20 L460.1 403.84 L460.6 403.77 L461.1 402.94 L461.6 402.90 L462.1 402.82 L462.6 402.89 L463.1 403.38 L463.6 403.46 L464.1 403.51 L464.6 404.06 L465.1 404.85 L465.6 404.80 L466.1 405.18 L466.6 406.40 L467.1 406.73 L467.6 407.11 L468.1 407.77 L468.6 407.47 L469.1 407.99 L469.6 408.49 L470.1 408.43 L470.6 409.46 L471.1 410.00 L471.6 410.47 L472.1 410.62 L472.6 410.50 L473.1 411.11 L473.6 412.03 L474.1 412.03 L474.6 412.78 L475.1 412.57 L475.6 413.43 L476.1 413.74 L476.6 413.63 L477.1 413.79 L477.6 414.37 L478.1 415.06 L478.6 415.07 L479.1 415.80 L479.6 416.42 L480.1 416.50 L480.6 416.43 L481.1 416.82 L481.6 417.58 L482.1 417.25 L482.6 417.56 L483.1 418.38 L483.6 418.08 L484.1 418.89 L484.6 419.24 L485.1 419.19 L485.6 419.24 L486.1 419.60 L486.6 419.83 L487.1 420.05 L487.6 420.28 L488.1 420.45 L488.6 420.60 L489.1 420.76 L489.6 420.92 L490.1 421.08 L490.6 421.23 L491.1 421.35 L491.6 421.44 L492.1 421.50 L492.6 421.55 L493.1 421.58 L493.6 421.61 L493.6 421.70 Z" fill="#e9cdaa" stroke="none"/>
<path d="M434.1 442.00 L434.1 441.94 L434.6 441.93 L435.1 441.91 L435.6 441.88 L436.1 441.83 L436.6 441.76 L437.1 441.66 L437.6 441.54 L438.1 441.42 L438.6 441.27 L439.1 441.12 L439.6 440.94 L440.1 440.80 L440.6 440.55 L441.1 440.39 L441.6 440.18 L442.1 439.81 L442.6 439.64 L443.1 439.25 L443.6 438.62 L444.1 438.92 L444.6 438.05 L445.1 438.21 L445.6 437.21 L446.1 436.91 L446.6 437.07 L447.1 436.05 L447.6 435.78 L448.1 436.01 L448.6 435.24 L449.1 434.47 L449.6 433.74 L450.1 433.96 L450.6 433.33 L451.1 432.25 L451.6 431.49 L452.1 431.78 L452.6 431.22 L453.1 430.00 L453.6 429.90 L454.1 429.31 L454.6 428.30 L455.1 427.92 L455.6 427.50 L456.1 426.79 L456.6 426.44 L457.1 425.90 L457.6 425.61 L458.1 425.23 L458.6 425.31 L459.1 424.01 L459.6 423.59 L460.1 423.82 L460.6 423.33 L461.1 423.89 L461.6 423.48 L462.1 423.51 L462.6 424.08 L463.1 424.24 L463.6 424.14 L464.1 425.16 L464.6 425.18 L465.1 425.86 L465.6 425.84 L466.1 425.63 L466.6 426.19 L467.1 427.07 L467.6 426.55 L468.1 427.07 L468.6 427.53 L469.1 428.10 L469.6 428.44 L470.1 428.93 L470.6 428.89 L471.1 429.86 L471.6 429.38 L472.1 430.63 L472.6 430.52 L473.1 430.97 L473.6 431.56 L474.1 432.02 L474.6 432.22 L475.1 432.68 L475.6 432.39 L476.1 433.06 L476.6 433.53 L477.1 433.73 L477.6 434.25 L478.1 434.94 L478.6 435.41 L479.1 434.82 L479.6 435.30 L480.1 436.42 L480.6 436.29 L481.1 436.51 L481.6 436.79 L482.1 438.01 L482.6 438.33 L483.1 438.44 L483.6 438.60 L484.1 439.33 L484.6 439.21 L485.1 439.47 L485.6 439.88 L486.1 439.97 L486.6 440.35 L487.1 440.44 L487.6 440.72 L488.1 440.89 L488.6 441.04 L489.1 441.19 L489.6 441.33 L490.1 441.47 L490.6 441.60 L491.1 441.71 L491.6 441.79 L492.1 441.84 L492.6 441.88 L493.1 441.91 L493.6 441.93 L493.6 442.00 Z" fill="#c4b2d3" stroke="none"/>
<path d="M439.9 461.00 L439.9 460.94 L440.4 460.93 L440.9 460.91 L441.4 460.86 L441.9 460.76 L442.4 460.59 L442.9 460.34 L443.4 460.04 L443.9 459.76 L444.4 459.39 L444.9 458.92 L445.4 458.82 L445.9 458.28 L446.4 457.81 L446.9 457.05 L447.4 457.49 L447.9 457.00 L448.4 456.30 L448.9 455.31 L449.4 454.79 L449.9 454.98 L450.4 453.65 L450.9 453.50 L451.4 452.50 L451.9 451.97 L452.4 452.25 L452.9 450.81 L453.4 450.75 L453.9 450.54 L454.4 449.67 L454.9 449.50 L455.4 448.25 L455.9 447.89 L456.4 447.77 L456.9 447.13 L457.4 446.36 L457.9 445.64 L458.4 445.71 L458.9 445.48 L459.4 444.86 L459.9 444.83 L460.4 444.30 L460.9 443.59 L461.4 444.22 L461.9 444.36 L462.4 444.34 L462.9 445.36 L463.4 445.75 L463.9 445.85 L464.4 445.70 L464.9 445.83 L465.4 446.14 L465.9 447.03 L466.4 447.10 L466.9 447.55 L467.4 447.39 L467.9 447.88 L468.4 447.79 L468.9 448.27 L469.4 448.57 L469.9 449.29 L470.4 449.23 L470.9 450.03 L471.4 450.33 L471.9 449.91 L472.4 450.95 L472.9 451.47 L473.4 451.12 L473.9 452.01 L474.4 452.26 L474.9 452.36 L475.4 452.36 L475.9 453.64 L476.4 453.38 L476.9 454.36 L477.4 453.98 L477.9 454.76 L478.4 455.42 L478.9 455.48 L479.4 455.60 L479.9 456.49 L480.4 456.61 L480.9 456.57 L481.4 456.89 L481.9 457.36 L482.4 457.93 L482.9 458.13 L483.4 458.80 L483.9 459.01 L484.4 459.36 L484.9 459.70 L485.4 459.96 L485.9 460.18 L486.4 460.40 L486.9 460.57 L487.4 460.69 L487.9 460.77 L488.4 460.82 L488.9 460.86 L489.4 460.90 L489.9 460.94 L489.9 461.00 Z" fill="#b3bcd8" stroke="none"/>
<line x1="413.0" y1="301.1" x2="413.0" y2="460.9" stroke="#c4c4ca" stroke-width="0.9" stroke-opacity="0.85"/>
<line x1="415.6" y1="301.1" x2="415.6" y2="460.9" stroke="#85858e" stroke-width="1.0" stroke-opacity="0.85"/>
<line x1="417.7" y1="301.1" x2="417.7" y2="460.9" stroke="#c4c4ca" stroke-width="0.9" stroke-opacity="0.85"/>
<line x1="395.3" y1="301.1" x2="395.3" y2="460.9" stroke="#a0a0a8" stroke-width="0.9" stroke-opacity="0.8"/>
<line x1="435.7" y1="301.1" x2="435.7" y2="460.9" stroke="#a0a0a8" stroke-width="0.9" stroke-opacity="0.8"/>
<line x1="468.9" y1="301.1" x2="468.9" y2="460.9" stroke="#d2d2d8" stroke-width="0.9" stroke-opacity="0.8"/>
<line x1="497.7" y1="301.1" x2="497.7" y2="460.9" stroke="#a0a0a8" stroke-width="0.9" stroke-opacity="0.8"/>
<path d="M390.1 320.30 L413.9 320.28 L414.4 320.27 L414.9 320.24 L415.4 320.20 L415.9 320.13 L416.4 320.00 L416.9 319.80 L417.4 319.48 L417.9 318.99 L418.4 318.24 L418.9 317.15 L419.4 315.61 L419.9 313.53 L420.4 310.87 L420.9 307.70 L421.4 304.36 L421.9 301.90 L422.4 303.64 L422.9 306.15 L423.4 308.72 L423.9 311.09 L424.4 313.16 L424.9 314.88 L425.4 316.26 L425.9 317.34 L426.4 318.17 L426.9 318.79 L427.4 319.24 L427.9 319.57 L428.4 319.80 L428.9 319.96 L429.4 320.08 L429.9 320.15 L430.4 320.20 L430.9 320.24 L431.4 320.26 L431.9 320.27 L432.4 320.28 L508.9 320.30" fill="none" stroke="#963e52" stroke-width="1.20" stroke-linejoin="round"/>
<path d="M390.1 340.50 L414.2 340.48 L414.7 340.47 L415.2 340.44 L415.7 340.40 L416.2 340.32 L416.7 340.20 L417.2 340.00 L417.7 339.68 L418.2 339.18 L418.7 338.43 L419.2 337.33 L419.7 335.78 L420.2 333.69 L420.7 331.02 L421.2 327.84 L421.7 324.47 L422.2 322.00 L422.7 323.59 L423.2 325.90 L423.7 328.31 L424.2 330.59 L424.7 332.62 L425.2 334.35 L425.7 335.78 L426.2 336.94 L426.7 337.85 L427.2 338.55 L427.7 339.09 L428.2 339.49 L428.7 339.78 L429.2 340.00 L429.7 340.15 L430.2 340.26 L430.7 340.34 L431.2 340.39 L431.7 340.43 L432.2 340.45 L432.7 340.47 L433.2 340.48 L433.7 340.49 L508.9 340.50" fill="none" stroke="#92b3d4" stroke-width="1.20" stroke-linejoin="round"/>
<path d="M390.1 360.60 L430.5 360.60 L431.0 360.56 L431.5 360.53 L432.0 360.51 L432.5 360.48 L433.0 360.45 L433.5 360.42 L434.0 360.38 L434.5 360.33 L435.0 360.27 L435.5 360.20 L436.0 360.12 L436.5 360.04 L437.0 359.97 L437.5 359.88 L438.0 359.79 L438.5 359.70 L439.0 359.61 L439.5 359.40 L440.0 359.29 L440.5 359.09 L441.0 358.93 L441.5 358.77 L442.0 358.41 L442.5 358.24 L443.0 357.87 L443.5 357.68 L444.0 357.28 L444.5 357.31 L445.0 357.30 L445.5 357.03 L446.0 356.15 L446.5 356.38 L447.0 355.54 L447.5 355.22 L448.0 355.40 L448.5 354.27 L449.0 354.57 L449.5 353.26 L450.0 352.77 L450.5 352.85 L451.0 351.78 L451.5 351.20 L452.0 351.23 L452.5 350.10 L453.0 350.07 L453.5 348.72 L454.0 348.39 L454.5 347.51 L455.0 347.83 L455.5 346.94 L456.0 346.03 L456.5 345.46 L457.0 345.35 L457.5 344.16 L458.0 343.80 L458.5 343.99 L459.0 343.84 L459.5 343.06 L460.0 343.11 L460.5 342.70 L461.0 342.76 L461.5 342.81 L462.0 343.19 L462.5 343.17 L463.0 343.00 L463.5 342.93 L464.0 343.48 L464.5 343.44 L465.0 343.94 L465.5 343.91 L466.0 344.49 L466.5 345.21 L467.0 345.80 L467.5 346.30 L468.0 346.75 L468.5 346.35 L469.0 346.73 L469.5 347.22 L470.0 348.21 L470.5 348.00 L471.0 348.87 L471.5 348.45 L472.0 349.01 L472.5 349.24 L473.0 349.71 L473.5 350.22 L474.0 350.12 L474.5 350.33 L475.0 351.37 L475.5 351.50 L476.0 351.54 L476.5 351.92 L477.0 352.53 L477.5 352.83 L478.0 352.66 L478.5 353.70 L479.0 354.11 L479.5 353.99 L480.0 354.75 L480.5 354.47 L481.0 355.38 L481.5 355.12 L482.0 355.99 L482.5 355.81 L483.0 356.25 L483.5 356.57 L484.0 357.35 L484.5 357.64 L485.0 357.98 L485.5 358.11 L486.0 358.08 L486.5 358.61 L487.0 358.75 L487.5 358.84 L488.0 359.16 L488.5 359.29 L489.0 359.47 L489.5 359.58 L490.0 359.73 L490.5 359.84 L491.0 359.93 L491.5 360.02 L492.0 360.09 L492.5 360.15 L493.0 360.20 L493.5 360.25 L494.0 360.30 L494.5 360.36 L495.0 360.41 L495.5 360.46 L496.0 360.49 L496.5 360.52 L497.0 360.54 L497.5 360.55 L498.0 360.57 L498.5 360.59 L508.9 360.60" fill="none" stroke="#d8a86a" stroke-width="1.20" stroke-linejoin="round"/>
<path d="M390.1 380.80 L432.5 380.80 L433.0 380.77 L433.5 380.75 L434.0 380.73 L434.5 380.72 L435.0 380.69 L435.5 380.66 L436.0 380.61 L436.5 380.54 L437.0 380.44 L437.5 380.36 L438.0 380.27 L438.5 380.19 L439.0 380.11 L439.5 380.03 L440.0 379.95 L440.5 379.88 L441.0 379.78 L441.5 379.69 L442.0 379.51 L442.5 379.38 L443.0 379.18 L443.5 379.24 L444.0 378.97 L444.5 378.95 L445.0 378.68 L445.5 378.30 L446.0 378.33 L446.5 377.93 L447.0 377.20 L447.5 376.89 L448.0 376.79 L448.5 375.98 L449.0 375.29 L449.5 375.60 L450.0 374.31 L450.5 373.91 L451.0 373.76 L451.5 373.40 L452.0 372.03 L452.5 372.05 L453.0 371.67 L453.5 371.03 L454.0 369.64 L454.5 369.25 L455.0 368.42 L455.5 367.90 L456.0 367.51 L456.5 366.53 L457.0 366.62 L457.5 365.96 L458.0 365.24 L458.5 365.03 L459.0 364.41 L459.5 364.36 L460.0 363.95 L460.5 364.36 L461.0 363.99 L461.5 363.79 L462.0 363.91 L462.5 363.73 L463.0 363.89 L463.5 363.80 L464.0 363.63 L464.5 364.25 L465.0 364.68 L465.5 365.30 L466.0 365.66 L466.5 365.34 L467.0 365.97 L467.5 366.34 L468.0 367.10 L468.5 366.87 L469.0 367.75 L469.5 367.85 L470.0 367.54 L470.5 368.20 L471.0 368.58 L471.5 368.75 L472.0 368.89 L472.5 369.25 L473.0 370.10 L473.5 370.60 L474.0 370.62 L474.5 370.98 L475.0 371.35 L475.5 370.95 L476.0 371.35 L476.5 372.25 L477.0 372.25 L477.5 372.86 L478.0 372.69 L478.5 373.49 L479.0 374.03 L479.5 374.39 L480.0 374.41 L480.5 375.03 L481.0 375.02 L481.5 375.01 L482.0 375.80 L482.5 376.26 L483.0 375.76 L483.5 376.51 L484.0 377.19 L484.5 377.48 L485.0 377.64 L485.5 377.42 L486.0 377.54 L486.5 378.04 L487.0 378.46 L487.5 378.47 L488.0 378.37 L488.5 378.78 L489.0 378.80 L489.5 379.03 L490.0 379.40 L490.5 379.38 L491.0 379.52 L491.5 379.67 L492.0 379.80 L492.5 379.88 L493.0 379.98 L493.5 380.07 L494.0 380.16 L494.5 380.24 L495.0 380.32 L495.5 380.39 L496.0 380.47 L496.5 380.54 L497.0 380.60 L497.5 380.64 L498.0 380.68 L498.5 380.70 L499.0 380.72 L499.5 380.74 L500.0 380.76 L500.5 380.78 L508.9 380.80" fill="none" stroke="#8cab78" stroke-width="1.20" stroke-linejoin="round"/>
<path d="M390.1 401.10 L432.6 401.10 L433.1 401.07 L433.6 401.04 L434.1 401.02 L434.6 401.00 L435.1 400.97 L435.6 400.94 L436.1 400.89 L436.6 400.83 L437.1 400.75 L437.6 400.68 L438.1 400.61 L438.6 400.55 L439.1 400.47 L439.6 400.39 L440.1 400.30 L440.6 400.18 L441.1 400.09 L441.6 399.91 L442.1 399.68 L442.6 399.42 L443.1 399.27 L443.6 399.00 L444.1 398.98 L444.6 398.48 L445.1 398.22 L445.6 397.52 L446.1 397.43 L446.6 396.88 L447.1 396.84 L447.6 396.72 L448.1 395.67 L448.6 395.30 L449.1 395.34 L449.6 395.20 L450.1 394.35 L450.6 393.89 L451.1 393.12 L451.6 392.78 L452.1 392.33 L452.6 391.71 L453.1 391.35 L453.6 391.12 L454.1 390.55 L454.6 389.11 L455.1 388.67 L455.6 388.68 L456.1 387.53 L456.6 387.32 L457.1 387.17 L457.6 385.87 L458.1 385.63 L458.6 384.83 L459.1 384.69 L459.6 384.91 L460.1 384.05 L460.6 383.60 L461.1 383.25 L461.6 383.66 L462.1 383.38 L462.6 383.22 L463.1 383.87 L463.6 383.40 L464.1 383.74 L464.6 384.79 L465.1 384.60 L465.6 385.16 L466.1 385.70 L466.6 385.67 L467.1 385.73 L467.6 386.59 L468.1 387.47 L468.6 387.53 L469.1 387.66 L469.6 387.88 L470.1 388.51 L470.6 389.57 L471.1 389.02 L471.6 389.77 L472.1 390.67 L472.6 391.01 L473.1 391.42 L473.6 391.22 L474.1 392.10 L474.6 391.82 L475.1 392.88 L475.6 392.82 L476.1 393.27 L476.6 394.03 L477.1 394.43 L477.6 393.88 L478.1 394.17 L478.6 395.38 L479.1 395.13 L479.6 395.22 L480.1 395.66 L480.6 396.02 L481.1 396.90 L481.6 396.84 L482.1 397.38 L482.6 397.30 L483.1 397.82 L483.6 398.02 L484.1 398.31 L484.6 398.83 L485.1 398.91 L485.6 399.37 L486.1 399.52 L486.6 399.54 L487.1 399.84 L487.6 399.98 L488.1 400.16 L488.6 400.32 L489.1 400.47 L489.6 400.61 L490.1 400.71 L490.6 400.79 L491.1 400.85 L491.6 400.91 L492.1 400.95 L492.6 401.00 L493.1 401.05 L508.9 401.10" fill="none" stroke="#5e6f6b" stroke-width="1.20" stroke-linejoin="round"/>
<path d="M390.1 421.70 L432.6 421.70 L433.1 421.67 L433.6 421.65 L434.1 421.63 L434.6 421.61 L435.1 421.59 L435.6 421.55 L436.1 421.50 L436.6 421.43 L437.1 421.35 L437.6 421.26 L438.1 421.18 L438.6 421.10 L439.1 421.02 L439.6 420.93 L440.1 420.84 L440.6 420.73 L441.1 420.59 L441.6 420.54 L442.1 420.41 L442.6 420.31 L443.1 420.14 L443.6 420.00 L444.1 419.76 L444.6 419.35 L445.1 418.79 L445.6 418.65 L446.1 418.56 L446.6 418.21 L447.1 417.57 L447.6 417.55 L448.1 417.40 L448.6 416.22 L449.1 416.02 L449.6 416.09 L450.1 415.67 L450.6 415.17 L451.1 413.81 L451.6 414.14 L452.1 413.09 L452.6 412.20 L453.1 412.57 L453.6 411.66 L454.1 411.00 L454.6 409.98 L455.1 410.14 L455.6 409.49 L456.1 408.86 L456.6 408.38 L457.1 407.08 L457.6 406.27 L458.1 406.02 L458.6 405.86 L459.1 404.70 L459.6 404.20 L460.1 403.84 L460.6 403.77 L461.1 402.94 L461.6 402.90 L462.1 402.82 L462.6 402.89 L463.1 403.38 L463.6 403.46 L464.1 403.51 L464.6 404.06 L465.1 404.85 L465.6 404.80 L466.1 405.18 L466.6 406.40 L467.1 406.73 L467.6 407.11 L468.1 407.77 L468.6 407.47 L469.1 407.99 L469.6 408.49 L470.1 408.43 L470.6 409.46 L471.1 410.00 L471.6 410.47 L472.1 410.62 L472.6 410.50 L473.1 411.11 L473.6 412.03 L474.1 412.03 L474.6 412.78 L475.1 412.57 L475.6 413.43 L476.1 413.74 L476.6 413.63 L477.1 413.79 L477.6 414.37 L478.1 415.06 L478.6 415.07 L479.1 415.80 L479.6 416.42 L480.1 416.50 L480.6 416.43 L481.1 416.82 L481.6 417.58 L482.1 417.25 L482.6 417.56 L483.1 418.38 L483.6 418.08 L484.1 418.89 L484.6 419.24 L485.1 419.19 L485.6 419.24 L486.1 419.60 L486.6 419.83 L487.1 420.05 L487.6 420.28 L488.1 420.45 L488.6 420.60 L489.1 420.76 L489.6 420.92 L490.1 421.08 L490.6 421.23 L491.1 421.35 L491.6 421.44 L492.1 421.50 L492.6 421.55 L493.1 421.58 L493.6 421.61 L494.1 421.66 L508.9 421.70" fill="none" stroke="#a88a68" stroke-width="1.20" stroke-linejoin="round"/>
<path d="M390.1 442.00 L432.6 442.00 L433.1 441.97 L433.6 441.96 L434.1 441.94 L434.6 441.93 L435.1 441.91 L435.6 441.88 L436.1 441.83 L436.6 441.76 L437.1 441.66 L437.6 441.54 L438.1 441.42 L438.6 441.27 L439.1 441.12 L439.6 440.94 L440.1 440.80 L440.6 440.55 L441.1 440.39 L441.6 440.18 L442.1 439.81 L442.6 439.64 L443.1 439.25 L443.6 438.62 L444.1 438.92 L444.6 438.05 L445.1 438.21 L445.6 437.21 L446.1 436.91 L446.6 437.07 L447.1 436.05 L447.6 435.78 L448.1 436.01 L448.6 435.24 L449.1 434.47 L449.6 433.74 L450.1 433.96 L450.6 433.33 L451.1 432.25 L451.6 431.49 L452.1 431.78 L452.6 431.22 L453.1 430.00 L453.6 429.90 L454.1 429.31 L454.6 428.30 L455.1 427.92 L455.6 427.50 L456.1 426.79 L456.6 426.44 L457.1 425.90 L457.6 425.61 L458.1 425.23 L458.6 425.31 L459.1 424.01 L459.6 423.59 L460.1 423.82 L460.6 423.33 L461.1 423.89 L461.6 423.48 L462.1 423.51 L462.6 424.08 L463.1 424.24 L463.6 424.14 L464.1 425.16 L464.6 425.18 L465.1 425.86 L465.6 425.84 L466.1 425.63 L466.6 426.19 L467.1 427.07 L467.6 426.55 L468.1 427.07 L468.6 427.53 L469.1 428.10 L469.6 428.44 L470.1 428.93 L470.6 428.89 L471.1 429.86 L471.6 429.38 L472.1 430.63 L472.6 430.52 L473.1 430.97 L473.6 431.56 L474.1 432.02 L474.6 432.22 L475.1 432.68 L475.6 432.39 L476.1 433.06 L476.6 433.53 L477.1 433.73 L477.6 434.25 L478.1 434.94 L478.6 435.41 L479.1 434.82 L479.6 435.30 L480.1 436.42 L480.6 436.29 L481.1 436.51 L481.6 436.79 L482.1 438.01 L482.6 438.33 L483.1 438.44 L483.6 438.60 L484.1 439.33 L484.6 439.21 L485.1 439.47 L485.6 439.88 L486.1 439.97 L486.6 440.35 L487.1 440.44 L487.6 440.72 L488.1 440.89 L488.6 441.04 L489.1 441.19 L489.6 441.33 L490.1 441.47 L490.6 441.60 L491.1 441.71 L491.6 441.79 L492.1 441.84 L492.6 441.88 L493.1 441.91 L493.6 441.93 L494.1 441.96 L494.6 442.00 L508.9 442.00" fill="none" stroke="#6e6279" stroke-width="1.20" stroke-linejoin="round"/>
<path d="M441.9 460.76 L442.4 460.59 L442.9 460.34 L443.4 460.04 L443.9 459.76 L444.4 459.39 L444.9 458.92 L445.4 458.82 L445.9 458.28 L446.4 457.81 L446.9 457.05 L447.4 457.49 L447.9 457.00 L448.4 456.30 L448.9 455.31 L449.4 454.79 L449.9 454.98 L450.4 453.65 L450.9 453.50 L451.4 452.50 L451.9 451.97 L452.4 452.25 L452.9 450.81 L453.4 450.75 L453.9 450.54 L454.4 449.67 L454.9 449.50 L455.4 448.25 L455.9 447.89 L456.4 447.77 L456.9 447.13 L457.4 446.36 L457.9 445.64 L458.4 445.71 L458.9 445.48 L459.4 444.86 L459.9 444.83 L460.4 444.30 L460.9 443.59 L461.4 444.22 L461.9 444.36 L462.4 444.34 L462.9 445.36 L463.4 445.75 L463.9 445.85 L464.4 445.70 L464.9 445.83 L465.4 446.14 L465.9 447.03 L466.4 447.10 L466.9 447.55 L467.4 447.39 L467.9 447.88 L468.4 447.79 L468.9 448.27 L469.4 448.57 L469.9 449.29 L470.4 449.23 L470.9 450.03 L471.4 450.33 L471.9 449.91 L472.4 450.95 L472.9 451.47 L473.4 451.12 L473.9 452.01 L474.4 452.26 L474.9 452.36 L475.4 452.36 L475.9 453.64 L476.4 453.38 L476.9 454.36 L477.4 453.98 L477.9 454.76 L478.4 455.42 L478.9 455.48 L479.4 455.60 L479.9 456.49 L480.4 456.61 L480.9 456.57 L481.4 456.89 L481.9 457.36 L482.4 457.93 L482.9 458.13 L483.4 458.80 L483.9 459.01 L484.4 459.36 L484.9 459.70 L485.4 459.96 L485.9 460.18 L486.4 460.40 L486.9 460.57 L487.4 460.69 L487.9 460.77 L488.4 460.82" fill="none" stroke="#5e6879" stroke-width="1.20" stroke-linejoin="round"/>
<line x1="460.9" y1="341.3" x2="460.9" y2="460.9" stroke="#f2b8c0" stroke-width="3.2" opacity="0.9"/>
<line x1="460.9" y1="341.3" x2="460.9" y2="460.9" stroke="#560a14" stroke-width="2" stroke-dasharray="3.7 2.8"/>
<text x="440.6" y="315.3" font-family='"Liberation Sans", sans-serif' font-size="10.4" font-weight="normal" fill="#262626" textLength="45.8" lengthAdjust="spacingAndGlyphs">unstained</text>
<text x="440.6" y="335.0" font-family='"Liberation Sans", sans-serif' font-size="10.4" font-weight="normal" fill="#262626" textLength="49.7" lengthAdjust="spacingAndGlyphs">secondary</text>
<rect x="389.1" y="300.1" width="120.8" height="161.8" fill="none" stroke="#000" stroke-width="2"/>
<text stroke="#1a1a1a" stroke-width="0.15" x="117.4" y="478.2" font-family='"Liberation Sans", sans-serif' font-size="12.9" font-weight="normal" fill="#1a1a1a" textLength="30.7" lengthAdjust="spacingAndGlyphs">EPHB4</text>
<line x1="151.2" y1="474.0" x2="452.0" y2="474.0" stroke="#000" stroke-width="1.7"/><path d="M458.0 474.0 L449.0 470.2 L451.6 474.0 L449.0 477.8 Z" fill="#000"/>
<text x="114.9" y="539.0" font-family='"Liberation Sans", sans-serif' font-size="14.3" font-weight="normal" fill="#262626" textLength="113.2" lengthAdjust="spacingAndGlyphs">JAK2V617F (HEL)</text>
<text x="274.8" y="539.0" font-family='"Liberation Sans", sans-serif' font-size="14.3" font-weight="normal" fill="#262626" textLength="94.7" lengthAdjust="spacingAndGlyphs">JAK2-wt (ML-2)</text>
<text x="17.4" y="609.5" font-family='"Liberation Sans", sans-serif' font-size="10.4" font-weight="normal" fill="#262626" textLength="76.1" lengthAdjust="spacingAndGlyphs">Ruxolitinib 0 nM</text>
<text x="17.4" y="632.3" font-family='"Liberation Sans", sans-serif' font-size="10.4" font-weight="normal" fill="#262626" textLength="85.2" lengthAdjust="spacingAndGlyphs">Ruxolitinib 0.1 uM</text>
<text x="17.4" y="655.0" font-family='"Liberation Sans", sans-serif' font-size="10.4" font-weight="normal" fill="#262626" textLength="85.2" lengthAdjust="spacingAndGlyphs">Ruxolitinib 0.5 uM</text>
<text x="17.4" y="677.8" font-family='"Liberation Sans", sans-serif' font-size="10.4" font-weight="normal" fill="#262626" textLength="76.1" lengthAdjust="spacingAndGlyphs">Ruxolitinib 1 uM</text>
<text x="17.4" y="700.6" font-family='"Liberation Sans", sans-serif' font-size="10.4" font-weight="normal" fill="#262626" textLength="76.1" lengthAdjust="spacingAndGlyphs">Ruxolitinib 5 uM</text>
<rect x="135.2" y="546.4" width="4.5" height="161.3" fill="#efeff1"/>
<path d="M137.5 571.20 L137.5 571.13 L138.0 571.07 L138.5 570.97 L139.0 570.80 L139.5 570.53 L140.0 570.07 L140.5 569.32 L141.0 568.15 L141.5 566.33 L142.0 563.62 L142.5 559.76 L143.0 554.71 L143.5 551.16 L144.0 554.93 L144.5 558.55 L145.0 561.61 L145.5 564.07 L146.0 565.97 L146.5 567.41 L147.0 568.48 L147.5 569.27 L148.0 569.84 L148.5 570.25 L149.0 570.54 L149.5 570.74 L150.0 570.89 L150.5 570.99 L151.0 571.06 L151.5 571.10 L152.0 571.13 L152.0 571.20 Z" fill="#f0b4bd" stroke="none"/>
<path d="M141.0 594.40 L141.0 594.34 L141.5 594.27 L142.0 594.10 L142.5 593.91 L143.0 593.71 L143.5 593.27 L144.0 592.40 L144.5 590.59 L145.0 588.01 L145.5 585.30 L146.0 582.27 L146.5 579.40 L147.0 576.98 L147.5 575.20 L148.0 574.49 L148.5 574.30 L149.0 574.14 L149.5 574.20 L150.0 574.43 L150.5 575.00 L151.0 575.98 L151.5 577.16 L152.0 578.40 L152.5 579.73 L153.0 581.12 L153.5 582.40 L154.0 583.51 L154.5 584.50 L155.0 585.40 L155.5 586.24 L156.0 587.02 L156.5 587.75 L157.0 588.40 L157.5 588.98 L158.0 589.52 L158.5 590.01 L159.0 590.47 L159.5 590.90 L160.0 591.31 L160.5 591.69 L161.0 592.03 L161.5 592.34 L162.0 592.60 L162.5 592.83 L163.0 593.04 L163.5 593.23 L164.0 593.41 L164.5 593.57 L165.0 593.73 L165.5 593.87 L166.0 594.00 L166.5 594.11 L167.0 594.19 L167.5 594.25 L168.0 594.29 L168.5 594.34 L168.5 594.40 Z" fill="#cde1f5" stroke="none"/>
<path d="M140.0 616.80 L140.0 616.72 L140.5 616.69 L141.0 616.65 L141.5 616.61 L142.0 616.55 L142.5 616.48 L143.0 616.38 L143.5 616.25 L144.0 616.10 L144.5 615.93 L145.0 615.73 L145.5 615.55 L146.0 615.26 L146.5 615.11 L147.0 614.81 L147.5 614.47 L148.0 614.33 L148.5 613.88 L149.0 613.67 L149.5 613.45 L150.0 613.12 L150.5 612.84 L151.0 612.64 L151.5 612.00 L152.0 611.97 L152.5 611.36 L153.0 611.12 L153.5 611.24 L154.0 610.85 L154.5 610.48 L155.0 610.06 L155.5 610.13 L156.0 609.67 L156.5 609.54 L157.0 609.07 L157.5 608.72 L158.0 608.51 L158.5 608.47 L159.0 607.85 L159.5 607.65 L160.0 607.09 L160.5 606.91 L161.0 606.32 L161.5 605.91 L162.0 605.64 L162.5 605.28 L163.0 604.92 L163.5 604.66 L164.0 604.50 L164.5 603.74 L165.0 603.65 L165.5 603.55 L166.0 603.03 L166.5 602.76 L167.0 602.60 L167.5 601.96 L168.0 602.13 L168.5 601.50 L169.0 601.43 L169.5 601.38 L170.0 601.06 L170.5 600.77 L171.0 600.70 L171.5 600.12 L172.0 599.92 L172.5 599.47 L173.0 599.25 L173.5 598.97 L174.0 598.57 L174.5 598.33 L175.0 598.23 L175.5 598.05 L176.0 597.82 L176.5 597.46 L177.0 597.22 L177.5 597.12 L178.0 597.04 L178.5 597.47 L179.0 597.43 L179.5 597.87 L180.0 597.96 L180.5 598.31 L181.0 598.69 L181.5 599.00 L182.0 599.93 L182.5 600.49 L183.0 601.50 L183.5 602.71 L184.0 603.40 L184.5 604.95 L185.0 605.81 L185.5 606.79 L186.0 607.73 L186.5 608.51 L187.0 609.70 L187.5 610.48 L188.0 611.68 L188.5 612.43 L189.0 613.33 L189.5 613.76 L190.0 614.41 L190.5 614.84 L191.0 615.37 L191.5 615.70 L192.0 616.02 L192.5 616.30 L193.0 616.51 L193.5 616.63 L194.0 616.69 L194.5 616.72 L195.0 616.73 L195.0 616.80 Z" fill="#f9d9aa" stroke="none"/>
<path d="M139.5 640.40 L139.5 640.34 L140.0 640.32 L140.5 640.29 L141.0 640.24 L141.5 640.17 L142.0 640.05 L142.5 639.93 L143.0 639.80 L143.5 639.67 L144.0 639.52 L144.5 639.40 L145.0 639.19 L145.5 639.04 L146.0 638.75 L146.5 638.63 L147.0 638.25 L147.5 638.22 L148.0 637.60 L148.5 637.53 L149.0 637.33 L149.5 636.90 L150.0 636.34 L150.5 636.37 L151.0 635.74 L151.5 635.61 L152.0 635.17 L152.5 634.69 L153.0 634.25 L153.5 633.83 L154.0 633.08 L154.5 632.96 L155.0 632.27 L155.5 631.86 L156.0 631.48 L156.5 631.06 L157.0 630.93 L157.5 630.47 L158.0 629.94 L158.5 629.79 L159.0 629.69 L159.5 629.05 L160.0 628.67 L160.5 628.56 L161.0 628.26 L161.5 627.85 L162.0 627.17 L162.5 626.78 L163.0 626.59 L163.5 626.47 L164.0 626.46 L164.5 626.20 L165.0 625.47 L165.5 625.27 L166.0 625.02 L166.5 624.90 L167.0 624.60 L167.5 624.19 L168.0 623.77 L168.5 622.94 L169.0 622.63 L169.5 621.97 L170.0 621.65 L170.5 621.21 L171.0 620.75 L171.5 620.45 L172.0 620.66 L172.5 619.92 L173.0 619.91 L173.5 619.96 L174.0 620.31 L174.5 620.11 L175.0 620.38 L175.5 620.94 L176.0 620.78 L176.5 620.87 L177.0 621.25 L177.5 621.62 L178.0 622.48 L178.5 623.04 L179.0 624.16 L179.5 624.50 L180.0 625.63 L180.5 626.01 L181.0 626.67 L181.5 627.83 L182.0 628.80 L182.5 629.57 L183.0 630.01 L183.5 631.05 L184.0 631.44 L184.5 632.33 L185.0 633.18 L185.5 633.82 L186.0 634.90 L186.5 635.35 L187.0 636.26 L187.5 636.50 L188.0 636.92 L188.5 637.78 L189.0 638.06 L189.5 638.47 L190.0 639.04 L190.5 639.42 L191.0 639.76 L191.5 640.05 L192.0 640.26 L192.0 640.40 Z" fill="#d2e4bf" stroke="none"/>
<path d="M138.0 663.40 L138.0 663.33 L138.5 663.31 L139.0 663.28 L139.5 663.24 L140.0 663.18 L140.5 663.10 L141.0 662.97 L141.5 662.76 L142.0 662.41 L142.5 661.90 L143.0 661.28 L143.5 660.56 L144.0 659.67 L144.5 658.55 L145.0 657.12 L145.5 655.50 L146.0 653.85 L146.5 652.33 L147.0 651.05 L147.5 649.87 L148.0 648.80 L148.5 647.89 L149.0 647.20 L149.5 646.69 L150.0 646.16 L150.5 645.53 L151.0 645.81 L151.5 645.30 L152.0 644.85 L152.5 645.18 L153.0 644.74 L153.5 644.60 L154.0 644.31 L154.5 645.19 L155.0 644.93 L155.5 643.84 L156.0 644.06 L156.5 644.57 L157.0 643.91 L157.5 644.53 L158.0 644.25 L158.5 644.13 L159.0 644.36 L159.5 644.45 L160.0 643.99 L160.5 643.80 L161.0 644.18 L161.5 643.76 L162.0 643.36 L162.5 644.47 L163.0 644.19 L163.5 644.40 L164.0 643.69 L164.5 643.98 L165.0 643.92 L165.5 644.12 L166.0 643.46 L166.5 643.48 L167.0 643.86 L167.5 643.44 L168.0 644.20 L168.5 644.12 L169.0 643.47 L169.5 644.45 L170.0 644.68 L170.5 644.94 L171.0 644.29 L171.5 644.26 L172.0 645.36 L172.5 645.05 L173.0 645.35 L173.5 645.74 L174.0 646.20 L174.5 646.72 L175.0 647.28 L175.5 647.89 L176.0 648.54 L176.5 649.22 L177.0 649.94 L177.5 650.72 L178.0 651.57 L178.5 652.44 L179.0 653.32 L179.5 654.18 L180.0 654.99 L180.5 655.75 L181.0 656.48 L181.5 657.19 L182.0 657.87 L182.5 658.53 L183.0 659.17 L183.5 659.78 L184.0 660.37 L184.5 660.93 L185.0 661.43 L185.5 661.86 L186.0 662.20 L186.5 662.45 L187.0 662.66 L187.5 662.82 L188.0 662.94 L188.5 663.04 L189.0 663.13 L189.5 663.22 L190.0 663.28 L190.5 663.32 L191.0 663.35 L191.0 663.40 Z" fill="#b3c4bc" stroke="none"/>
<path d="M141.5 685.30 L141.5 685.19 L142.0 684.96 L142.5 684.47 L143.0 683.53 L143.5 682.30 L144.0 680.70 L144.5 678.86 L145.0 677.20 L145.5 675.80 L146.0 674.46 L146.5 673.21 L147.0 672.10 L147.5 671.13 L148.0 670.27 L148.5 669.49 L149.0 668.79 L149.5 668.16 L150.0 667.11 L150.5 667.56 L151.0 666.72 L151.5 666.58 L152.0 665.85 L152.5 666.44 L153.0 666.32 L153.5 666.18 L154.0 666.49 L154.5 665.94 L155.0 666.05 L155.5 666.29 L156.0 667.15 L156.5 666.10 L157.0 666.72 L157.5 666.77 L158.0 666.95 L158.5 667.10 L159.0 666.72 L159.5 667.63 L160.0 667.92 L160.5 667.03 L161.0 668.06 L161.5 668.20 L162.0 668.18 L162.5 667.82 L163.0 668.66 L163.5 669.33 L164.0 669.29 L164.5 669.62 L165.0 670.19 L165.5 669.47 L166.0 670.01 L166.5 671.10 L167.0 671.38 L167.5 670.92 L168.0 671.72 L168.5 672.44 L169.0 672.93 L169.5 673.43 L170.0 673.95 L170.5 674.46 L171.0 674.98 L171.5 675.49 L172.0 676.00 L172.5 676.50 L173.0 677.01 L173.5 677.53 L174.0 678.04 L174.5 678.55 L175.0 679.06 L175.5 679.56 L176.0 680.04 L176.5 680.52 L177.0 680.97 L177.5 681.41 L178.0 681.84 L178.5 682.25 L179.0 682.63 L179.5 682.98 L180.0 683.30 L180.5 683.56 L181.0 683.76 L181.5 683.92 L182.0 684.06 L182.5 684.20 L183.0 684.35 L183.5 684.50 L184.0 684.64 L184.5 684.77 L185.0 684.90 L185.5 685.01 L186.0 685.10 L186.5 685.17 L187.0 685.21 L187.5 685.24 L187.5 685.30 Z" fill="#e9cdaa" stroke="none"/>
<path d="M142.5 707.70 L142.5 707.43 L143.0 706.45 L143.5 704.20 L144.0 701.67 L144.5 698.75 L145.0 696.30 L145.5 694.59 L146.0 693.08 L146.5 691.76 L147.0 690.61 L147.5 689.65 L148.0 689.03 L148.5 688.69 L149.0 688.50 L149.5 688.49 L150.0 688.70 L150.5 689.00 L151.0 689.35 L151.5 689.76 L152.0 690.19 L152.5 690.60 L153.0 690.98 L153.5 691.36 L154.0 691.74 L154.5 692.12 L155.0 692.50 L155.5 692.87 L156.0 693.23 L156.5 693.59 L157.0 693.93 L157.5 694.27 L158.0 694.59 L158.5 694.91 L159.0 695.22 L159.5 695.52 L160.0 695.82 L160.5 696.12 L161.0 696.42 L161.5 696.72 L162.0 697.02 L162.5 697.32 L163.0 697.62 L163.5 697.92 L164.0 698.22 L164.5 698.51 L165.0 698.80 L165.5 699.09 L166.0 699.39 L166.5 699.68 L167.0 699.99 L167.5 700.29 L168.0 700.61 L168.5 700.93 L169.0 701.27 L169.5 701.63 L170.0 701.99 L170.5 702.37 L171.0 702.75 L171.5 703.14 L172.0 703.52 L172.5 703.89 L173.0 704.26 L173.5 704.61 L174.0 704.97 L174.5 705.32 L175.0 705.66 L175.5 705.99 L176.0 706.30 L176.5 706.59 L177.0 706.85 L177.5 707.06 L178.0 707.23 L178.5 707.38 L179.0 707.50 L179.5 707.59 L180.0 707.63 L180.0 707.70 Z" fill="#c4b2d3" stroke="none"/>
<line x1="135.2" y1="546.4" x2="135.2" y2="707.7" stroke="#a4a4ac" stroke-width="0.9" stroke-opacity="0.85"/>
<line x1="138.4" y1="546.4" x2="138.4" y2="707.7" stroke="#85858e" stroke-width="1.0" stroke-opacity="0.85"/>
<line x1="139.7" y1="546.4" x2="139.7" y2="707.7" stroke="#c4c4ca" stroke-width="0.9" stroke-opacity="0.85"/>
<line x1="117.6" y1="546.4" x2="117.6" y2="707.7" stroke="#a0a0a8" stroke-width="0.9" stroke-opacity="0.8"/>
<line x1="158.4" y1="546.4" x2="158.4" y2="707.7" stroke="#a0a0a8" stroke-width="0.9" stroke-opacity="0.8"/>
<line x1="192.9" y1="546.4" x2="192.9" y2="707.7" stroke="#d2d2d8" stroke-width="0.9" stroke-opacity="0.8"/>
<line x1="222.5" y1="546.4" x2="222.5" y2="707.7" stroke="#a0a0a8" stroke-width="0.9" stroke-opacity="0.8"/>
<path d="M112.7 571.20 L136.0 571.19 L136.5 571.18 L137.0 571.16 L137.5 571.13 L138.0 571.07 L138.5 570.97 L139.0 570.80 L139.5 570.53 L140.0 570.07 L140.5 569.32 L141.0 568.15 L141.5 566.33 L142.0 563.62 L142.5 559.76 L143.0 554.71 L143.5 551.16 L144.0 554.93 L144.5 558.55 L145.0 561.61 L145.5 564.07 L146.0 565.97 L146.5 567.41 L147.0 568.48 L147.5 569.27 L148.0 569.84 L148.5 570.25 L149.0 570.54 L149.5 570.74 L150.0 570.89 L150.5 570.99 L151.0 571.06 L151.5 571.10 L152.0 571.13 L152.5 571.16 L153.0 571.17 L153.5 571.18 L232.8 571.20" fill="none" stroke="#963e52" stroke-width="1.20" stroke-linejoin="round"/>
<path d="M112.7 594.40 L140.0 594.40 L140.5 594.36 L141.0 594.34 L141.5 594.27 L142.0 594.10 L142.5 593.91 L143.0 593.71 L143.5 593.27 L144.0 592.40 L144.5 590.59 L145.0 588.01 L145.5 585.30 L146.0 582.27 L146.5 579.40 L147.0 576.98 L147.5 575.20 L148.0 574.49 L148.5 574.30 L149.0 574.14 L149.5 574.20 L150.0 574.43 L150.5 575.00 L151.0 575.98 L151.5 577.16 L152.0 578.40 L152.5 579.73 L153.0 581.12 L153.5 582.40 L154.0 583.51 L154.5 584.50 L155.0 585.40 L155.5 586.24 L156.0 587.02 L156.5 587.75 L157.0 588.40 L157.5 588.98 L158.0 589.52 L158.5 590.01 L159.0 590.47 L159.5 590.90 L160.0 591.31 L160.5 591.69 L161.0 592.03 L161.5 592.34 L162.0 592.60 L162.5 592.83 L163.0 593.04 L163.5 593.23 L164.0 593.41 L164.5 593.57 L165.0 593.73 L165.5 593.87 L166.0 594.00 L166.5 594.11 L167.0 594.19 L167.5 594.25 L168.0 594.29 L168.5 594.34 L169.0 594.40 L232.8 594.40" fill="none" stroke="#92b3d4" stroke-width="1.20" stroke-linejoin="round"/>
<path d="M112.7 616.80 L139.0 616.80 L139.5 616.75 L140.0 616.72 L140.5 616.69 L141.0 616.65 L141.5 616.61 L142.0 616.55 L142.5 616.48 L143.0 616.38 L143.5 616.25 L144.0 616.10 L144.5 615.93 L145.0 615.73 L145.5 615.55 L146.0 615.26 L146.5 615.11 L147.0 614.81 L147.5 614.47 L148.0 614.33 L148.5 613.88 L149.0 613.67 L149.5 613.45 L150.0 613.12 L150.5 612.84 L151.0 612.64 L151.5 612.00 L152.0 611.97 L152.5 611.36 L153.0 611.12 L153.5 611.24 L154.0 610.85 L154.5 610.48 L155.0 610.06 L155.5 610.13 L156.0 609.67 L156.5 609.54 L157.0 609.07 L157.5 608.72 L158.0 608.51 L158.5 608.47 L159.0 607.85 L159.5 607.65 L160.0 607.09 L160.5 606.91 L161.0 606.32 L161.5 605.91 L162.0 605.64 L162.5 605.28 L163.0 604.92 L163.5 604.66 L164.0 604.50 L164.5 603.74 L165.0 603.65 L165.5 603.55 L166.0 603.03 L166.5 602.76 L167.0 602.60 L167.5 601.96 L168.0 602.13 L168.5 601.50 L169.0 601.43 L169.5 601.38 L170.0 601.06 L170.5 600.77 L171.0 600.70 L171.5 600.12 L172.0 599.92 L172.5 599.47 L173.0 599.25 L173.5 598.97 L174.0 598.57 L174.5 598.33 L175.0 598.23 L175.5 598.05 L176.0 597.82 L176.5 597.46 L177.0 597.22 L177.5 597.12 L178.0 597.04 L178.5 597.47 L179.0 597.43 L179.5 597.87 L180.0 597.96 L180.5 598.31 L181.0 598.69 L181.5 599.00 L182.0 599.93 L182.5 600.49 L183.0 601.50 L183.5 602.71 L184.0 603.40 L184.5 604.95 L185.0 605.81 L185.5 606.79 L186.0 607.73 L186.5 608.51 L187.0 609.70 L187.5 610.48 L188.0 611.68 L188.5 612.43 L189.0 613.33 L189.5 613.76 L190.0 614.41 L190.5 614.84 L191.0 615.37 L191.5 615.70 L192.0 616.02 L192.5 616.30 L193.0 616.51 L193.5 616.63 L194.0 616.69 L194.5 616.72 L195.0 616.73 L195.5 616.75 L196.0 616.80 L232.8 616.80" fill="none" stroke="#d8a86a" stroke-width="1.20" stroke-linejoin="round"/>
<path d="M112.7 640.40 L138.0 640.40 L138.5 640.37 L139.0 640.35 L139.5 640.34 L140.0 640.32 L140.5 640.29 L141.0 640.24 L141.5 640.17 L142.0 640.05 L142.5 639.93 L143.0 639.80 L143.5 639.67 L144.0 639.52 L144.5 639.40 L145.0 639.19 L145.5 639.04 L146.0 638.75 L146.5 638.63 L147.0 638.25 L147.5 638.22 L148.0 637.60 L148.5 637.53 L149.0 637.33 L149.5 636.90 L150.0 636.34 L150.5 636.37 L151.0 635.74 L151.5 635.61 L152.0 635.17 L152.5 634.69 L153.0 634.25 L153.5 633.83 L154.0 633.08 L154.5 632.96 L155.0 632.27 L155.5 631.86 L156.0 631.48 L156.5 631.06 L157.0 630.93 L157.5 630.47 L158.0 629.94 L158.5 629.79 L159.0 629.69 L159.5 629.05 L160.0 628.67 L160.5 628.56 L161.0 628.26 L161.5 627.85 L162.0 627.17 L162.5 626.78 L163.0 626.59 L163.5 626.47 L164.0 626.46 L164.5 626.20 L165.0 625.47 L165.5 625.27 L166.0 625.02 L166.5 624.90 L167.0 624.60 L167.5 624.19 L168.0 623.77 L168.5 622.94 L169.0 622.63 L169.5 621.97 L170.0 621.65 L170.5 621.21 L171.0 620.75 L171.5 620.45 L172.0 620.66 L172.5 619.92 L173.0 619.91 L173.5 619.96 L174.0 620.31 L174.5 620.11 L175.0 620.38 L175.5 620.94 L176.0 620.78 L176.5 620.87 L177.0 621.25 L177.5 621.62 L178.0 622.48 L178.5 623.04 L179.0 624.16 L179.5 624.50 L180.0 625.63 L180.5 626.01 L181.0 626.67 L181.5 627.83 L182.0 628.80 L182.5 629.57 L183.0 630.01 L183.5 631.05 L184.0 631.44 L184.5 632.33 L185.0 633.18 L185.5 633.82 L186.0 634.90 L186.5 635.35 L187.0 636.26 L187.5 636.50 L188.0 636.92 L188.5 637.78 L189.0 638.06 L189.5 638.47 L190.0 639.04 L190.5 639.42 L191.0 639.76 L191.5 640.05 L192.0 640.26 L192.5 640.37 L193.0 640.40 L194.0 640.38 L194.5 640.37 L195.0 640.40 L232.8 640.40" fill="none" stroke="#8cab78" stroke-width="1.20" stroke-linejoin="round"/>
<path d="M112.7 663.40 L137.0 663.40 L137.5 663.36 L138.0 663.33 L138.5 663.31 L139.0 663.28 L139.5 663.24 L140.0 663.18 L140.5 663.10 L141.0 662.97 L141.5 662.76 L142.0 662.41 L142.5 661.90 L143.0 661.28 L143.5 660.56 L144.0 659.67 L144.5 658.55 L145.0 657.12 L145.5 655.50 L146.0 653.85 L146.5 652.33 L147.0 651.05 L147.5 649.87 L148.0 648.80 L148.5 647.89 L149.0 647.20 L149.5 646.69 L150.0 646.16 L150.5 645.53 L151.0 645.81 L151.5 645.30 L152.0 644.85 L152.5 645.18 L153.0 644.74 L153.5 644.60 L154.0 644.31 L154.5 645.19 L155.0 644.93 L155.5 643.84 L156.0 644.06 L156.5 644.57 L157.0 643.91 L157.5 644.53 L158.0 644.25 L158.5 644.13 L159.0 644.36 L159.5 644.45 L160.0 643.99 L160.5 643.80 L161.0 644.18 L161.5 643.76 L162.0 643.36 L162.5 644.47 L163.0 644.19 L163.5 644.40 L164.0 643.69 L164.5 643.98 L165.0 643.92 L165.5 644.12 L166.0 643.46 L166.5 643.48 L167.0 643.86 L167.5 643.44 L168.0 644.20 L168.5 644.12 L169.0 643.47 L169.5 644.45 L170.0 644.68 L170.5 644.94 L171.0 644.29 L171.5 644.26 L172.0 645.36 L172.5 645.05 L173.0 645.35 L173.5 645.74 L174.0 646.20 L174.5 646.72 L175.0 647.28 L175.5 647.89 L176.0 648.54 L176.5 649.22 L177.0 649.94 L177.5 650.72 L178.0 651.57 L178.5 652.44 L179.0 653.32 L179.5 654.18 L180.0 654.99 L180.5 655.75 L181.0 656.48 L181.5 657.19 L182.0 657.87 L182.5 658.53 L183.0 659.17 L183.5 659.78 L184.0 660.37 L184.5 660.93 L185.0 661.43 L185.5 661.86 L186.0 662.20 L186.5 662.45 L187.0 662.66 L187.5 662.82 L188.0 662.94 L188.5 663.04 L189.0 663.13 L189.5 663.22 L190.0 663.28 L190.5 663.32 L191.0 663.35 L191.5 663.36 L192.0 663.37 L192.5 663.38 L193.0 663.40 L232.8 663.40" fill="none" stroke="#5e6f6b" stroke-width="1.20" stroke-linejoin="round"/>
<path d="M112.7 685.30 L139.0 685.30 L139.5 685.27 L140.0 685.29 L141.0 685.29 L141.5 685.19 L142.0 684.96 L142.5 684.47 L143.0 683.53 L143.5 682.30 L144.0 680.70 L144.5 678.86 L145.0 677.20 L145.5 675.80 L146.0 674.46 L146.5 673.21 L147.0 672.10 L147.5 671.13 L148.0 670.27 L148.5 669.49 L149.0 668.79 L149.5 668.16 L150.0 667.11 L150.5 667.56 L151.0 666.72 L151.5 666.58 L152.0 665.85 L152.5 666.44 L153.0 666.32 L153.5 666.18 L154.0 666.49 L154.5 665.94 L155.0 666.05 L155.5 666.29 L156.0 667.15 L156.5 666.10 L157.0 666.72 L157.5 666.77 L158.0 666.95 L158.5 667.10 L159.0 666.72 L159.5 667.63 L160.0 667.92 L160.5 667.03 L161.0 668.06 L161.5 668.20 L162.0 668.18 L162.5 667.82 L163.0 668.66 L163.5 669.33 L164.0 669.29 L164.5 669.62 L165.0 670.19 L165.5 669.47 L166.0 670.01 L166.5 671.10 L167.0 671.38 L167.5 670.92 L168.0 671.72 L168.5 672.44 L169.0 672.93 L169.5 673.43 L170.0 673.95 L170.5 674.46 L171.0 674.98 L171.5 675.49 L172.0 676.00 L172.5 676.50 L173.0 677.01 L173.5 677.53 L174.0 678.04 L174.5 678.55 L175.0 679.06 L175.5 679.56 L176.0 680.04 L176.5 680.52 L177.0 680.97 L177.5 681.41 L178.0 681.84 L178.5 682.25 L179.0 682.63 L179.5 682.98 L180.0 683.30 L180.5 683.56 L181.0 683.76 L181.5 683.92 L182.0 684.06 L182.5 684.20 L183.0 684.35 L183.5 684.50 L184.0 684.64 L184.5 684.77 L185.0 684.90 L185.5 685.01 L186.0 685.10 L186.5 685.17 L187.0 685.21 L187.5 685.24 L188.0 685.26 L188.5 685.27 L189.0 685.30 L232.8 685.30" fill="none" stroke="#a88a68" stroke-width="1.20" stroke-linejoin="round"/>
<path d="M142.5 707.43 L143.0 706.45 L143.5 704.20 L144.0 701.67 L144.5 698.75 L145.0 696.30 L145.5 694.59 L146.0 693.08 L146.5 691.76 L147.0 690.61 L147.5 689.65 L148.0 689.03 L148.5 688.69 L149.0 688.50 L149.5 688.49 L150.0 688.70 L150.5 689.00 L151.0 689.35 L151.5 689.76 L152.0 690.19 L152.5 690.60 L153.0 690.98 L153.5 691.36 L154.0 691.74 L154.5 692.12 L155.0 692.50 L155.5 692.87 L156.0 693.23 L156.5 693.59 L157.0 693.93 L157.5 694.27 L158.0 694.59 L158.5 694.91 L159.0 695.22 L159.5 695.52 L160.0 695.82 L160.5 696.12 L161.0 696.42 L161.5 696.72 L162.0 697.02 L162.5 697.32 L163.0 697.62 L163.5 697.92 L164.0 698.22 L164.5 698.51 L165.0 698.80 L165.5 699.09 L166.0 699.39 L166.5 699.68 L167.0 699.99 L167.5 700.29 L168.0 700.61 L168.5 700.93 L169.0 701.27 L169.5 701.63 L170.0 701.99 L170.5 702.37 L171.0 702.75 L171.5 703.14 L172.0 703.52 L172.5 703.89 L173.0 704.26 L173.5 704.61 L174.0 704.97 L174.5 705.32 L175.0 705.66 L175.5 705.99 L176.0 706.30 L176.5 706.59 L177.0 706.85 L177.5 707.06 L178.0 707.23 L178.5 707.38 L179.0 707.50" fill="none" stroke="#6e6279" stroke-width="1.20" stroke-linejoin="round"/>
<line x1="177.3" y1="595.2" x2="177.3" y2="707.7" stroke="#f2b8c0" stroke-width="3.2" opacity="0.9"/>
<line x1="177.3" y1="595.2" x2="177.3" y2="707.7" stroke="#560a14" stroke-width="2" stroke-dasharray="3.7 2.8"/>
<text x="164.9" y="567.4" font-family='"Liberation Sans", sans-serif' font-size="10.4" font-weight="normal" fill="#262626" textLength="46.9" lengthAdjust="spacingAndGlyphs">unstained</text>
<text x="164.9" y="587.2" font-family='"Liberation Sans", sans-serif' font-size="10.4" font-weight="normal" fill="#262626" textLength="49.7" lengthAdjust="spacingAndGlyphs">secondary</text>
<rect x="111.7" y="545.4" width="122.1" height="163.3" fill="none" stroke="#000" stroke-width="2"/>
<rect x="286.7" y="546.4" width="4.6" height="161.3" fill="#efeff1"/>
<path d="M292.3 571.00 L292.3 570.94 L292.8 570.89 L293.3 570.80 L293.8 570.67 L294.3 570.46 L294.8 570.14 L295.3 569.67 L295.8 569.01 L296.3 568.12 L296.8 566.96 L297.3 565.50 L297.8 563.74 L298.3 561.72 L298.8 559.49 L299.3 557.18 L299.8 554.92 L300.3 552.89 L300.8 551.26 L301.3 550.19 L301.8 549.80 L302.3 550.19 L302.8 551.00 L303.3 552.08 L303.8 553.34 L304.3 554.71 L304.8 556.14 L305.3 557.59 L305.8 559.02 L306.3 560.40 L306.8 561.70 L307.3 562.92 L307.8 564.03 L308.3 565.04 L308.8 565.95 L309.3 566.75 L309.8 567.45 L310.3 568.06 L310.8 568.58 L311.3 569.02 L311.8 569.39 L312.3 569.70 L312.8 569.96 L313.3 570.17 L313.8 570.35 L314.3 570.49 L314.8 570.60 L315.3 570.69 L315.8 570.76 L316.3 570.82 L316.8 570.86 L317.3 570.89 L317.8 570.92 L318.3 570.94 L318.3 571.00 Z" fill="#cde1f5" stroke="none"/>
<path d="M293.3 594.00 L293.3 593.92 L293.8 593.84 L294.3 593.69 L294.8 593.45 L295.3 593.07 L295.8 592.50 L296.3 591.71 L296.8 590.68 L297.3 589.40 L297.8 587.89 L298.3 586.20 L298.8 584.39 L299.3 582.54 L299.8 580.74 L300.3 579.06 L300.8 577.57 L301.3 576.31 L301.8 575.30 L302.3 574.52 L302.8 573.98 L303.3 573.62 L303.8 573.42 L304.3 573.33 L304.8 573.30 L305.3 573.30 L305.8 573.31 L306.3 573.34 L306.8 573.43 L307.3 573.59 L307.8 573.85 L308.3 574.23 L308.8 574.74 L309.3 575.40 L309.8 576.21 L310.3 577.17 L310.8 578.28 L311.3 579.50 L311.8 580.83 L312.3 582.22 L312.8 583.65 L313.3 585.07 L313.8 586.44 L314.3 587.74 L314.8 588.92 L315.3 589.98 L315.8 590.89 L316.3 591.66 L316.8 592.29 L317.3 592.78 L317.8 593.16 L318.3 593.43 L318.8 593.63 L319.3 593.77 L319.8 593.86 L320.3 593.92 L320.3 594.00 Z" fill="#f9d9aa" stroke="none"/>
<path d="M301.0 616.90 L301.0 616.82 L301.5 616.77 L302.0 616.73 L302.5 616.69 L303.0 616.65 L303.5 616.61 L304.0 616.57 L304.5 616.53 L305.0 616.50 L305.5 616.47 L306.0 616.44 L306.5 616.42 L307.0 616.40 L307.5 616.38 L308.0 616.36 L308.5 616.34 L309.0 616.33 L309.5 616.30 L310.0 616.28 L310.5 616.25 L311.0 616.22 L311.5 616.19 L312.0 616.15 L312.5 616.10 L313.0 616.05 L313.5 616.01 L314.0 615.95 L314.5 615.93 L315.0 615.89 L315.5 615.82 L316.0 615.79 L316.5 615.74 L317.0 615.68 L317.5 615.63 L318.0 615.58 L318.5 615.43 L319.0 615.29 L319.5 615.21 L320.0 615.10 L320.5 615.03 L321.0 614.86 L321.5 614.79 L322.0 614.39 L322.5 614.36 L323.0 614.15 L323.5 613.57 L324.0 613.67 L324.5 613.00 L325.0 612.96 L325.5 612.58 L326.0 612.38 L326.5 612.39 L327.0 611.70 L327.5 611.70 L328.0 611.27 L328.5 611.12 L329.0 610.81 L329.5 610.23 L330.0 610.09 L330.5 609.44 L331.0 608.72 L331.5 608.21 L332.0 608.19 L332.5 607.99 L333.0 607.40 L333.5 607.16 L334.0 606.62 L334.5 605.90 L335.0 605.46 L335.5 605.39 L336.0 604.56 L336.5 604.09 L337.0 603.58 L337.5 603.25 L338.0 602.55 L338.5 602.26 L339.0 601.38 L339.5 600.94 L340.0 600.48 L340.5 600.17 L341.0 599.34 L341.5 599.32 L342.0 599.03 L342.5 598.55 L343.0 597.85 L343.5 598.22 L344.0 597.76 L344.5 597.64 L345.0 597.65 L345.5 597.75 L346.0 597.54 L346.5 597.06 L347.0 597.13 L347.5 597.26 L348.0 598.08 L348.5 598.28 L349.0 598.73 L349.5 599.64 L350.0 600.26 L350.5 600.46 L351.0 601.35 L351.5 602.23 L352.0 602.98 L352.5 603.97 L353.0 604.83 L353.5 605.78 L354.0 606.43 L354.5 607.44 L355.0 607.71 L355.5 608.43 L356.0 609.43 L356.5 610.53 L357.0 610.90 L357.5 611.92 L358.0 612.45 L358.5 613.26 L359.0 613.58 L359.5 614.30 L360.0 614.64 L360.5 615.02 L361.0 615.29 L361.5 615.52 L362.0 615.82 L362.5 616.04 L363.0 616.24 L363.5 616.43 L364.0 616.60 L364.5 616.71 L365.0 616.77 L365.5 616.81 L366.0 616.83 L366.0 616.90 Z" fill="#d2e4bf" stroke="none"/>
<path d="M296.5 639.80 L296.5 639.72 L297.0 639.64 L297.5 639.56 L298.0 639.48 L298.5 639.41 L299.0 639.33 L299.5 639.26 L300.0 639.20 L300.5 639.14 L301.0 639.09 L301.5 639.04 L302.0 638.98 L302.5 638.94 L303.0 638.88 L303.5 638.85 L304.0 638.80 L304.5 638.73 L305.0 638.71 L305.5 638.65 L306.0 638.63 L306.5 638.50 L307.0 638.44 L307.5 638.49 L308.0 638.45 L308.5 638.35 L309.0 638.29 L309.5 638.20 L310.0 638.22 L310.5 638.12 L311.0 638.16 L311.5 638.09 L312.0 638.07 L312.5 637.89 L313.0 637.82 L313.5 637.73 L314.0 637.55 L314.5 637.67 L315.0 637.60 L315.5 637.49 L316.0 637.24 L316.5 637.41 L317.0 637.35 L317.5 637.22 L318.0 637.01 L318.5 637.09 L319.0 637.04 L319.5 636.62 L320.0 636.55 L320.5 636.37 L321.0 636.53 L321.5 636.18 L322.0 636.04 L322.5 635.61 L323.0 634.96 L323.5 634.62 L324.0 634.42 L324.5 634.45 L325.0 633.99 L325.5 633.43 L326.0 633.49 L326.5 633.11 L327.0 632.54 L327.5 632.45 L328.0 632.01 L328.5 631.72 L329.0 631.03 L329.5 630.86 L330.0 630.77 L330.5 630.43 L331.0 629.58 L331.5 629.54 L332.0 628.74 L332.5 628.62 L333.0 627.98 L333.5 627.68 L334.0 627.02 L334.5 626.95 L335.0 626.30 L335.5 625.66 L336.0 625.45 L336.5 624.44 L337.0 623.93 L337.5 623.44 L338.0 622.95 L338.5 622.44 L339.0 622.20 L339.5 621.52 L340.0 621.35 L340.5 621.12 L341.0 620.04 L341.5 619.58 L342.0 619.64 L342.5 619.24 L343.0 619.17 L343.5 618.89 L344.0 619.50 L344.5 619.34 L345.0 620.12 L345.5 620.00 L346.0 619.83 L346.5 620.16 L347.0 620.60 L347.5 620.97 L348.0 620.86 L348.5 621.68 L349.0 621.97 L349.5 622.23 L350.0 622.93 L350.5 623.65 L351.0 623.70 L351.5 624.42 L352.0 625.29 L352.5 626.58 L353.0 627.33 L353.5 628.07 L354.0 629.47 L354.5 630.70 L355.0 631.20 L355.5 632.47 L356.0 633.14 L356.5 634.16 L357.0 634.40 L357.5 635.21 L358.0 635.97 L358.5 636.59 L359.0 637.20 L359.5 637.62 L360.0 638.02 L360.5 638.43 L361.0 638.61 L361.5 638.84 L362.0 639.03 L362.5 639.18 L363.0 639.31 L363.5 639.44 L364.0 639.58 L364.5 639.66 L365.0 639.71 L365.5 639.74 L366.0 639.75 L366.0 639.80 Z" fill="#f0b4bd" stroke="none"/>
<path d="M303.0 662.90 L303.0 662.83 L303.5 662.79 L304.0 662.75 L304.5 662.71 L305.0 662.68 L305.5 662.64 L306.0 662.60 L306.5 662.57 L307.0 662.54 L307.5 662.51 L308.0 662.49 L308.5 662.46 L309.0 662.43 L309.5 662.40 L310.0 662.35 L310.5 662.29 L311.0 662.22 L311.5 662.13 L312.0 662.03 L312.5 661.92 L313.0 661.80 L313.5 661.67 L314.0 661.54 L314.5 661.39 L315.0 661.23 L315.5 661.07 L316.0 660.90 L316.5 660.72 L317.0 660.54 L317.5 660.36 L318.0 660.16 L318.5 659.96 L319.0 659.74 L319.5 659.50 L320.0 659.25 L320.5 658.98 L321.0 658.68 L321.5 658.37 L322.0 658.06 L322.5 657.74 L323.0 657.41 L323.5 657.08 L324.0 656.73 L324.5 656.38 L325.0 656.02 L325.5 655.65 L326.0 655.27 L326.5 654.88 L327.0 654.48 L327.5 654.07 L328.0 653.64 L328.5 653.20 L329.0 652.74 L329.5 652.26 L330.0 651.77 L330.5 651.26 L331.0 650.74 L331.5 650.22 L332.0 649.69 L332.5 649.15 L333.0 648.61 L333.5 648.07 L334.0 647.47 L334.5 646.84 L335.0 646.26 L335.5 645.80 L336.0 644.45 L336.5 644.38 L337.0 644.35 L337.5 643.12 L338.0 643.65 L338.5 643.35 L339.0 643.44 L339.5 642.76 L340.0 642.49 L340.5 642.76 L341.0 643.26 L341.5 642.57 L342.0 642.60 L342.5 643.29 L343.0 643.37 L343.5 642.83 L344.0 642.37 L344.5 642.34 L345.0 642.35 L345.5 642.59 L346.0 643.27 L346.5 642.95 L347.0 643.35 L347.5 643.31 L348.0 643.76 L348.5 644.40 L349.0 643.92 L349.5 645.30 L350.0 645.29 L350.5 645.51 L351.0 646.04 L351.5 646.72 L352.0 647.47 L352.5 648.27 L353.0 649.09 L353.5 649.95 L354.0 650.81 L354.5 651.67 L355.0 652.53 L355.5 653.37 L356.0 654.22 L356.5 655.09 L357.0 655.98 L357.5 656.86 L358.0 657.72 L358.5 658.56 L359.0 659.34 L359.5 660.06 L360.0 660.70 L360.5 661.24 L361.0 661.68 L361.5 662.04 L362.0 662.34 L362.5 662.59 L363.0 662.74 L363.5 662.81 L364.0 662.83 L364.0 662.90 Z" fill="#e9cdaa" stroke="none"/>
<path d="M305.0 685.10 L305.0 685.01 L305.5 684.96 L306.0 684.92 L306.5 684.87 L307.0 684.82 L307.5 684.77 L308.0 684.70 L308.5 684.63 L309.0 684.56 L309.5 684.48 L310.0 684.41 L310.5 684.33 L311.0 684.25 L311.5 684.16 L312.0 684.08 L312.5 683.95 L313.0 683.93 L313.5 683.73 L314.0 683.65 L314.5 683.51 L315.0 683.37 L315.5 683.36 L316.0 683.06 L316.5 682.94 L317.0 682.95 L317.5 682.53 L318.0 682.53 L318.5 682.23 L319.0 682.36 L319.5 681.87 L320.0 682.08 L320.5 681.87 L321.0 681.66 L321.5 681.51 L322.0 680.92 L322.5 680.97 L323.0 680.75 L323.5 680.08 L324.0 679.86 L324.5 679.87 L325.0 679.75 L325.5 679.13 L326.0 679.07 L326.5 679.05 L327.0 678.88 L327.5 678.49 L328.0 677.74 L328.5 676.80 L329.0 675.89 L329.5 675.00 L330.0 674.77 L330.5 674.55 L331.0 674.09 L331.5 673.48 L332.0 673.00 L332.5 673.21 L333.0 672.31 L333.5 672.29 L334.0 671.50 L334.5 671.03 L335.0 670.93 L335.5 670.12 L336.0 669.57 L336.5 669.18 L337.0 668.05 L337.5 667.66 L338.0 666.88 L338.5 666.93 L339.0 666.40 L339.5 665.57 L340.0 665.71 L340.5 665.43 L341.0 665.32 L341.5 664.80 L342.0 665.09 L342.5 665.26 L343.0 665.41 L343.5 665.01 L344.0 665.80 L344.5 665.94 L345.0 666.09 L345.5 666.23 L346.0 666.37 L346.5 666.63 L347.0 667.37 L347.5 667.63 L348.0 668.30 L348.5 668.59 L349.0 669.34 L349.5 669.25 L350.0 669.83 L350.5 670.23 L351.0 670.69 L351.5 671.41 L352.0 672.07 L352.5 673.09 L353.0 674.39 L353.5 675.13 L354.0 675.81 L354.5 677.02 L355.0 677.66 L355.5 678.43 L356.0 679.34 L356.5 679.88 L357.0 680.41 L357.5 680.92 L358.0 681.79 L358.5 682.45 L359.0 683.17 L359.5 683.52 L360.0 684.02 L360.5 684.35 L361.0 684.56 L361.5 684.71 L362.0 684.83 L362.5 684.95 L363.0 685.02 L363.0 685.10 Z" fill="#b3c4bc" stroke="none"/>
<path d="M312.0 707.70 L312.0 707.63 L312.5 707.60 L313.0 707.57 L313.5 707.53 L314.0 707.49 L314.5 707.42 L315.0 707.34 L315.5 707.24 L316.0 707.13 L316.5 707.01 L317.0 706.89 L317.5 706.77 L318.0 706.60 L318.5 706.48 L319.0 706.31 L319.5 706.13 L320.0 705.99 L320.5 705.69 L321.0 705.36 L321.5 705.45 L322.0 704.99 L322.5 704.90 L323.0 704.40 L323.5 704.14 L324.0 704.30 L324.5 703.95 L325.0 703.32 L325.5 702.74 L326.0 702.46 L326.5 702.10 L327.0 702.30 L327.5 701.77 L328.0 701.21 L328.5 700.99 L329.0 700.69 L329.5 699.71 L330.0 699.50 L330.5 699.24 L331.0 698.72 L331.5 698.08 L332.0 697.56 L332.5 697.07 L333.0 696.95 L333.5 695.97 L334.0 695.66 L334.5 695.58 L335.0 695.18 L335.5 694.48 L336.0 694.11 L336.5 693.10 L337.0 693.27 L337.5 692.11 L338.0 692.14 L338.5 691.13 L339.0 690.97 L339.5 690.72 L340.0 689.55 L340.5 689.53 L341.0 688.65 L341.5 688.81 L342.0 688.59 L342.5 688.23 L343.0 688.75 L343.5 688.83 L344.0 689.03 L344.5 689.23 L345.0 689.84 L345.5 689.46 L346.0 690.06 L346.5 690.21 L347.0 690.21 L347.5 690.57 L348.0 691.59 L348.5 692.13 L349.0 692.18 L349.5 693.06 L350.0 693.50 L350.5 694.24 L351.0 694.67 L351.5 695.49 L352.0 696.08 L352.5 696.84 L353.0 697.78 L353.5 698.60 L354.0 699.48 L354.5 699.62 L355.0 700.58 L355.5 701.26 L356.0 702.07 L356.5 702.67 L357.0 703.14 L357.5 703.64 L358.0 704.50 L358.5 705.15 L359.0 705.51 L359.5 705.99 L360.0 706.57 L360.5 707.01 L361.0 707.36 L361.5 707.59 L361.5 707.70 Z" fill="#c4b2d3" stroke="none"/>
<line x1="286.7" y1="546.4" x2="286.7" y2="707.7" stroke="#a4a4ac" stroke-width="0.9" stroke-opacity="0.85"/>
<line x1="288.8" y1="546.4" x2="288.8" y2="707.7" stroke="#85858e" stroke-width="1.0" stroke-opacity="0.85"/>
<line x1="291.3" y1="546.4" x2="291.3" y2="707.7" stroke="#a4a4ac" stroke-width="0.9" stroke-opacity="0.85"/>
<line x1="268.7" y1="546.4" x2="268.7" y2="707.7" stroke="#a0a0a8" stroke-width="0.9" stroke-opacity="0.8"/>
<line x1="309.0" y1="546.4" x2="309.0" y2="707.7" stroke="#a0a0a8" stroke-width="0.9" stroke-opacity="0.8"/>
<line x1="343.2" y1="546.4" x2="343.2" y2="707.7" stroke="#d2d2d8" stroke-width="0.9" stroke-opacity="0.8"/>
<line x1="371.7" y1="546.4" x2="371.7" y2="707.7" stroke="#a0a0a8" stroke-width="0.9" stroke-opacity="0.8"/>
<path d="M263.2 571.00 L291.3 570.98 L291.8 570.97 L292.3 570.94 L292.8 570.89 L293.3 570.80 L293.8 570.67 L294.3 570.46 L294.8 570.14 L295.3 569.67 L295.8 569.01 L296.3 568.12 L296.8 566.96 L297.3 565.50 L297.8 563.74 L298.3 561.72 L298.8 559.49 L299.3 557.18 L299.8 554.92 L300.3 552.89 L300.8 551.26 L301.3 550.19 L301.8 549.80 L302.3 550.19 L302.8 551.00 L303.3 552.08 L303.8 553.34 L304.3 554.71 L304.8 556.14 L305.3 557.59 L305.8 559.02 L306.3 560.40 L306.8 561.70 L307.3 562.92 L307.8 564.03 L308.3 565.04 L308.8 565.95 L309.3 566.75 L309.8 567.45 L310.3 568.06 L310.8 568.58 L311.3 569.02 L311.8 569.39 L312.3 569.70 L312.8 569.96 L313.3 570.17 L313.8 570.35 L314.3 570.49 L314.8 570.60 L315.3 570.69 L315.8 570.76 L316.3 570.82 L316.8 570.86 L317.3 570.89 L317.8 570.92 L318.3 570.94 L318.8 570.96 L319.3 570.97 L319.8 570.98 L320.3 570.98 L383.3 571.00" fill="none" stroke="#92b3d4" stroke-width="1.20" stroke-linejoin="round"/>
<path d="M263.2 594.00 L292.3 593.98 L292.8 593.96 L293.3 593.92 L293.8 593.84 L294.3 593.69 L294.8 593.45 L295.3 593.07 L295.8 592.50 L296.3 591.71 L296.8 590.68 L297.3 589.40 L297.8 587.89 L298.3 586.20 L298.8 584.39 L299.3 582.54 L299.8 580.74 L300.3 579.06 L300.8 577.57 L301.3 576.31 L301.8 575.30 L302.3 574.52 L302.8 573.98 L303.3 573.62 L303.8 573.42 L304.3 573.33 L304.8 573.30 L305.3 573.30 L305.8 573.31 L306.3 573.34 L306.8 573.43 L307.3 573.59 L307.8 573.85 L308.3 574.23 L308.8 574.74 L309.3 575.40 L309.8 576.21 L310.3 577.17 L310.8 578.28 L311.3 579.50 L311.8 580.83 L312.3 582.22 L312.8 583.65 L313.3 585.07 L313.8 586.44 L314.3 587.74 L314.8 588.92 L315.3 589.98 L315.8 590.89 L316.3 591.66 L316.8 592.29 L317.3 592.78 L317.8 593.16 L318.3 593.43 L318.8 593.63 L319.3 593.77 L319.8 593.86 L320.3 593.92 L320.8 593.95 L321.3 593.97 L321.8 593.99 L383.3 594.00" fill="none" stroke="#d8a86a" stroke-width="1.20" stroke-linejoin="round"/>
<path d="M263.2 616.90 L300.0 616.90 L300.5 616.86 L301.0 616.82 L301.5 616.77 L302.0 616.73 L302.5 616.69 L303.0 616.65 L303.5 616.61 L304.0 616.57 L304.5 616.53 L305.0 616.50 L305.5 616.47 L306.0 616.44 L306.5 616.42 L307.0 616.40 L307.5 616.38 L308.0 616.36 L308.5 616.34 L309.0 616.33 L309.5 616.30 L310.0 616.28 L310.5 616.25 L311.0 616.22 L311.5 616.19 L312.0 616.15 L312.5 616.10 L313.0 616.05 L313.5 616.01 L314.0 615.95 L314.5 615.93 L315.0 615.89 L315.5 615.82 L316.0 615.79 L316.5 615.74 L317.0 615.68 L317.5 615.63 L318.0 615.58 L318.5 615.43 L319.0 615.29 L319.5 615.21 L320.0 615.10 L320.5 615.03 L321.0 614.86 L321.5 614.79 L322.0 614.39 L322.5 614.36 L323.0 614.15 L323.5 613.57 L324.0 613.67 L324.5 613.00 L325.0 612.96 L325.5 612.58 L326.0 612.38 L326.5 612.39 L327.0 611.70 L327.5 611.70 L328.0 611.27 L328.5 611.12 L329.0 610.81 L329.5 610.23 L330.0 610.09 L330.5 609.44 L331.0 608.72 L331.5 608.21 L332.0 608.19 L332.5 607.99 L333.0 607.40 L333.5 607.16 L334.0 606.62 L334.5 605.90 L335.0 605.46 L335.5 605.39 L336.0 604.56 L336.5 604.09 L337.0 603.58 L337.5 603.25 L338.0 602.55 L338.5 602.26 L339.0 601.38 L339.5 600.94 L340.0 600.48 L340.5 600.17 L341.0 599.34 L341.5 599.32 L342.0 599.03 L342.5 598.55 L343.0 597.85 L343.5 598.22 L344.0 597.76 L344.5 597.64 L345.0 597.65 L345.5 597.75 L346.0 597.54 L346.5 597.06 L347.0 597.13 L347.5 597.26 L348.0 598.08 L348.5 598.28 L349.0 598.73 L349.5 599.64 L350.0 600.26 L350.5 600.46 L351.0 601.35 L351.5 602.23 L352.0 602.98 L352.5 603.97 L353.0 604.83 L353.5 605.78 L354.0 606.43 L354.5 607.44 L355.0 607.71 L355.5 608.43 L356.0 609.43 L356.5 610.53 L357.0 610.90 L357.5 611.92 L358.0 612.45 L358.5 613.26 L359.0 613.58 L359.5 614.30 L360.0 614.64 L360.5 615.02 L361.0 615.29 L361.5 615.52 L362.0 615.82 L362.5 616.04 L363.0 616.24 L363.5 616.43 L364.0 616.60 L364.5 616.71 L365.0 616.77 L365.5 616.81 L366.0 616.83 L366.5 616.86 L367.0 616.90 L383.3 616.90" fill="none" stroke="#8cab78" stroke-width="1.20" stroke-linejoin="round"/>
<path d="M263.2 639.80 L296.0 639.80 L296.5 639.72 L297.0 639.64 L297.5 639.56 L298.0 639.48 L298.5 639.41 L299.0 639.33 L299.5 639.26 L300.0 639.20 L300.5 639.14 L301.0 639.09 L301.5 639.04 L302.0 638.98 L302.5 638.94 L303.0 638.88 L303.5 638.85 L304.0 638.80 L304.5 638.73 L305.0 638.71 L305.5 638.65 L306.0 638.63 L306.5 638.50 L307.0 638.44 L307.5 638.49 L308.0 638.45 L308.5 638.35 L309.0 638.29 L309.5 638.20 L310.0 638.22 L310.5 638.12 L311.0 638.16 L311.5 638.09 L312.0 638.07 L312.5 637.89 L313.0 637.82 L313.5 637.73 L314.0 637.55 L314.5 637.67 L315.0 637.60 L315.5 637.49 L316.0 637.24 L316.5 637.41 L317.0 637.35 L317.5 637.22 L318.0 637.01 L318.5 637.09 L319.0 637.04 L319.5 636.62 L320.0 636.55 L320.5 636.37 L321.0 636.53 L321.5 636.18 L322.0 636.04 L322.5 635.61 L323.0 634.96 L323.5 634.62 L324.0 634.42 L324.5 634.45 L325.0 633.99 L325.5 633.43 L326.0 633.49 L326.5 633.11 L327.0 632.54 L327.5 632.45 L328.0 632.01 L328.5 631.72 L329.0 631.03 L329.5 630.86 L330.0 630.77 L330.5 630.43 L331.0 629.58 L331.5 629.54 L332.0 628.74 L332.5 628.62 L333.0 627.98 L333.5 627.68 L334.0 627.02 L334.5 626.95 L335.0 626.30 L335.5 625.66 L336.0 625.45 L336.5 624.44 L337.0 623.93 L337.5 623.44 L338.0 622.95 L338.5 622.44 L339.0 622.20 L339.5 621.52 L340.0 621.35 L340.5 621.12 L341.0 620.04 L341.5 619.58 L342.0 619.64 L342.5 619.24 L343.0 619.17 L343.5 618.89 L344.0 619.50 L344.5 619.34 L345.0 620.12 L345.5 620.00 L346.0 619.83 L346.5 620.16 L347.0 620.60 L347.5 620.97 L348.0 620.86 L348.5 621.68 L349.0 621.97 L349.5 622.23 L350.0 622.93 L350.5 623.65 L351.0 623.70 L351.5 624.42 L352.0 625.29 L352.5 626.58 L353.0 627.33 L353.5 628.07 L354.0 629.47 L354.5 630.70 L355.0 631.20 L355.5 632.47 L356.0 633.14 L356.5 634.16 L357.0 634.40 L357.5 635.21 L358.0 635.97 L358.5 636.59 L359.0 637.20 L359.5 637.62 L360.0 638.02 L360.5 638.43 L361.0 638.61 L361.5 638.84 L362.0 639.03 L362.5 639.18 L363.0 639.31 L363.5 639.44 L364.0 639.58 L364.5 639.66 L365.0 639.71 L365.5 639.74 L366.0 639.75 L366.5 639.77 L367.0 639.80 L383.3 639.80" fill="none" stroke="#963e52" stroke-width="1.20" stroke-linejoin="round"/>
<path d="M263.2 662.90 L302.0 662.90 L302.5 662.86 L303.0 662.83 L303.5 662.79 L304.0 662.75 L304.5 662.71 L305.0 662.68 L305.5 662.64 L306.0 662.60 L306.5 662.57 L307.0 662.54 L307.5 662.51 L308.0 662.49 L308.5 662.46 L309.0 662.43 L309.5 662.40 L310.0 662.35 L310.5 662.29 L311.0 662.22 L311.5 662.13 L312.0 662.03 L312.5 661.92 L313.0 661.80 L313.5 661.67 L314.0 661.54 L314.5 661.39 L315.0 661.23 L315.5 661.07 L316.0 660.90 L316.5 660.72 L317.0 660.54 L317.5 660.36 L318.0 660.16 L318.5 659.96 L319.0 659.74 L319.5 659.50 L320.0 659.25 L320.5 658.98 L321.0 658.68 L321.5 658.37 L322.0 658.06 L322.5 657.74 L323.0 657.41 L323.5 657.08 L324.0 656.73 L324.5 656.38 L325.0 656.02 L325.5 655.65 L326.0 655.27 L326.5 654.88 L327.0 654.48 L327.5 654.07 L328.0 653.64 L328.5 653.20 L329.0 652.74 L329.5 652.26 L330.0 651.77 L330.5 651.26 L331.0 650.74 L331.5 650.22 L332.0 649.69 L332.5 649.15 L333.0 648.61 L333.5 648.07 L334.0 647.47 L334.5 646.84 L335.0 646.26 L335.5 645.80 L336.0 644.45 L336.5 644.38 L337.0 644.35 L337.5 643.12 L338.0 643.65 L338.5 643.35 L339.0 643.44 L339.5 642.76 L340.0 642.49 L340.5 642.76 L341.0 643.26 L341.5 642.57 L342.0 642.60 L342.5 643.29 L343.0 643.37 L343.5 642.83 L344.0 642.37 L344.5 642.34 L345.0 642.35 L345.5 642.59 L346.0 643.27 L346.5 642.95 L347.0 643.35 L347.5 643.31 L348.0 643.76 L348.5 644.40 L349.0 643.92 L349.5 645.30 L350.0 645.29 L350.5 645.51 L351.0 646.04 L351.5 646.72 L352.0 647.47 L352.5 648.27 L353.0 649.09 L353.5 649.95 L354.0 650.81 L354.5 651.67 L355.0 652.53 L355.5 653.37 L356.0 654.22 L356.5 655.09 L357.0 655.98 L357.5 656.86 L358.0 657.72 L358.5 658.56 L359.0 659.34 L359.5 660.06 L360.0 660.70 L360.5 661.24 L361.0 661.68 L361.5 662.04 L362.0 662.34 L362.5 662.59 L363.0 662.74 L363.5 662.81 L364.0 662.83 L364.5 662.85 L365.0 662.90 L383.3 662.90" fill="none" stroke="#a88a68" stroke-width="1.20" stroke-linejoin="round"/>
<path d="M263.2 685.10 L304.0 685.10 L304.5 685.05 L305.0 685.01 L305.5 684.96 L306.0 684.92 L306.5 684.87 L307.0 684.82 L307.5 684.77 L308.0 684.70 L308.5 684.63 L309.0 684.56 L309.5 684.48 L310.0 684.41 L310.5 684.33 L311.0 684.25 L311.5 684.16 L312.0 684.08 L312.5 683.95 L313.0 683.93 L313.5 683.73 L314.0 683.65 L314.5 683.51 L315.0 683.37 L315.5 683.36 L316.0 683.06 L316.5 682.94 L317.0 682.95 L317.5 682.53 L318.0 682.53 L318.5 682.23 L319.0 682.36 L319.5 681.87 L320.0 682.08 L320.5 681.87 L321.0 681.66 L321.5 681.51 L322.0 680.92 L322.5 680.97 L323.0 680.75 L323.5 680.08 L324.0 679.86 L324.5 679.87 L325.0 679.75 L325.5 679.13 L326.0 679.07 L326.5 679.05 L327.0 678.88 L327.5 678.49 L328.0 677.74 L328.5 676.80 L329.0 675.89 L329.5 675.00 L330.0 674.77 L330.5 674.55 L331.0 674.09 L331.5 673.48 L332.0 673.00 L332.5 673.21 L333.0 672.31 L333.5 672.29 L334.0 671.50 L334.5 671.03 L335.0 670.93 L335.5 670.12 L336.0 669.57 L336.5 669.18 L337.0 668.05 L337.5 667.66 L338.0 666.88 L338.5 666.93 L339.0 666.40 L339.5 665.57 L340.0 665.71 L340.5 665.43 L341.0 665.32 L341.5 664.80 L342.0 665.09 L342.5 665.26 L343.0 665.41 L343.5 665.01 L344.0 665.80 L344.5 665.94 L345.0 666.09 L345.5 666.23 L346.0 666.37 L346.5 666.63 L347.0 667.37 L347.5 667.63 L348.0 668.30 L348.5 668.59 L349.0 669.34 L349.5 669.25 L350.0 669.83 L350.5 670.23 L351.0 670.69 L351.5 671.41 L352.0 672.07 L352.5 673.09 L353.0 674.39 L353.5 675.13 L354.0 675.81 L354.5 677.02 L355.0 677.66 L355.5 678.43 L356.0 679.34 L356.5 679.88 L357.0 680.41 L357.5 680.92 L358.0 681.79 L358.5 682.45 L359.0 683.17 L359.5 683.52 L360.0 684.02 L360.5 684.35 L361.0 684.56 L361.5 684.71 L362.0 684.83 L362.5 684.95 L363.0 685.02 L363.5 685.06 L364.0 685.07 L364.5 685.08 L365.0 685.10 L383.3 685.10" fill="none" stroke="#5e6f6b" stroke-width="1.20" stroke-linejoin="round"/>
<path d="M313.5 707.53 L314.0 707.49 L314.5 707.42 L315.0 707.34 L315.5 707.24 L316.0 707.13 L316.5 707.01 L317.0 706.89 L317.5 706.77 L318.0 706.60 L318.5 706.48 L319.0 706.31 L319.5 706.13 L320.0 705.99 L320.5 705.69 L321.0 705.36 L321.5 705.45 L322.0 704.99 L322.5 704.90 L323.0 704.40 L323.5 704.14 L324.0 704.30 L324.5 703.95 L325.0 703.32 L325.5 702.74 L326.0 702.46 L326.5 702.10 L327.0 702.30 L327.5 701.77 L328.0 701.21 L328.5 700.99 L329.0 700.69 L329.5 699.71 L330.0 699.50 L330.5 699.24 L331.0 698.72 L331.5 698.08 L332.0 697.56 L332.5 697.07 L333.0 696.95 L333.5 695.97 L334.0 695.66 L334.5 695.58 L335.0 695.18 L335.5 694.48 L336.0 694.11 L336.5 693.10 L337.0 693.27 L337.5 692.11 L338.0 692.14 L338.5 691.13 L339.0 690.97 L339.5 690.72 L340.0 689.55 L340.5 689.53 L341.0 688.65 L341.5 688.81 L342.0 688.59 L342.5 688.23 L343.0 688.75 L343.5 688.83 L344.0 689.03 L344.5 689.23 L345.0 689.84 L345.5 689.46 L346.0 690.06 L346.5 690.21 L347.0 690.21 L347.5 690.57 L348.0 691.59 L348.5 692.13 L349.0 692.18 L349.5 693.06 L350.0 693.50 L350.5 694.24 L351.0 694.67 L351.5 695.49 L352.0 696.08 L352.5 696.84 L353.0 697.78 L353.5 698.60 L354.0 699.48 L354.5 699.62 L355.0 700.58 L355.5 701.26 L356.0 702.07 L356.5 702.67 L357.0 703.14 L357.5 703.64 L358.0 704.50 L358.5 705.15 L359.0 705.51 L359.5 705.99 L360.0 706.57 L360.5 707.01 L361.0 707.36" fill="none" stroke="#6e6279" stroke-width="1.20" stroke-linejoin="round"/>
<line x1="343.8" y1="594.8" x2="343.8" y2="707.7" stroke="#f2b8c0" stroke-width="3.2" opacity="0.9"/>
<line x1="343.8" y1="594.8" x2="343.8" y2="707.7" stroke="#560a14" stroke-width="2" stroke-dasharray="3.7 2.8"/>
<text x="326.4" y="569.2" font-family='"Liberation Sans", sans-serif' font-size="10.4" font-weight="normal" fill="#262626" textLength="46.2" lengthAdjust="spacingAndGlyphs">unstained</text>
<text x="327.4" y="589.3" font-family='"Liberation Sans", sans-serif' font-size="10.4" font-weight="normal" fill="#262626" textLength="49.2" lengthAdjust="spacingAndGlyphs">secondary</text>
<rect x="262.2" y="545.4" width="122.1" height="163.3" fill="none" stroke="#000" stroke-width="2"/>
<text stroke="#1a1a1a" stroke-width="0.15" x="110.4" y="726.1" font-family='"Liberation Sans", sans-serif' font-size="14.0" font-weight="normal" fill="#1a1a1a" textLength="30.4" lengthAdjust="spacingAndGlyphs">EPHB4</text>
<line x1="144.2" y1="721.8" x2="316.0" y2="721.8" stroke="#000" stroke-width="1.7"/><path d="M322.0 721.8 L313.0 718.0 L315.6 721.8 L313.0 725.6 Z" fill="#000"/>
</svg>
</body></html>
